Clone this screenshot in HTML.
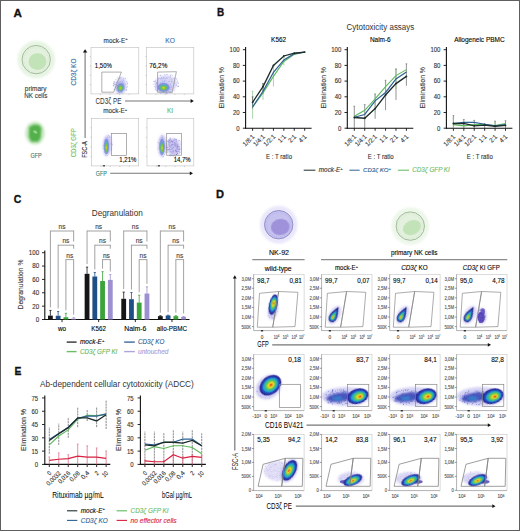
<!DOCTYPE html>
<html><head><meta charset="utf-8"><title>Figure</title>
<style>html,body{margin:0;padding:0;background:#fff;}svg{display:block;}text{font-family:"Liberation Sans", sans-serif;}</style>
</head><body>
<svg width="520" height="531" viewBox="0 0 520 531" font-family='"Liberation Sans", sans-serif'><defs>
<radialGradient id="gGlow"><stop offset="0.6" stop-color="#cfe9c6" stop-opacity="0.9"/><stop offset="1" stop-color="#ffffff" stop-opacity="0"/></radialGradient>
<radialGradient id="pGlow"><stop offset="0.6" stop-color="#c9c3f3" stop-opacity="0.95"/><stop offset="1" stop-color="#ffffff" stop-opacity="0"/></radialGradient>
<radialGradient id="gfpGlow"><stop offset="0.45" stop-color="#7dc46f" stop-opacity="0.9"/><stop offset="1" stop-color="#ffffff" stop-opacity="0"/></radialGradient>
<filter id="blur04" x="-50%" y="-50%" width="200%" height="200%"><feGaussianBlur stdDeviation="0.4"/></filter>
<filter id="blur06" x="-50%" y="-50%" width="200%" height="200%"><feGaussianBlur stdDeviation="0.6"/></filter>
<filter id="blur1" x="-50%" y="-50%" width="200%" height="200%"><feGaussianBlur stdDeviation="1"/></filter>
</defs><rect x="0.50" y="0.50" width="519.00" height="530.00" fill="#ffffff" stroke="#5e5e5e" stroke-width="1"/>
<text x="13.40" y="16.50" font-size="11.8" fill="#111" font-weight="bold" textLength="8.40" lengthAdjust="spacingAndGlyphs" stroke="#111" stroke-width="0.35">A</text>
<circle cx="36.2" cy="59.6" r="16.2" fill="none" stroke="#cfe9c7" stroke-width="5" opacity="0.5" filter="url(#blur1)"/>
<circle cx="36.2" cy="59.6" r="14.2" fill="#e3f1de" stroke="#a3bb9c" stroke-width="1"/>
<circle cx="36.2" cy="59.6" r="12.2" fill="none" stroke="#cde2c6" stroke-width="1.6" stroke-dasharray="0.7 1.4" opacity="0.55"/>
<ellipse cx="37.5" cy="61.6" rx="9.0" ry="8.3" fill="#c2e2b8" filter="url(#blur06)" transform="rotate(0 37.5 61.6)"/>
<text x="35.70" y="90.60" font-size="7.0" fill="#3a3a3a" text-anchor="middle" textLength="21.70" lengthAdjust="spacingAndGlyphs" stroke="#3a3a3a" stroke-width="0.12">primary</text>
<text x="35.80" y="97.60" font-size="7.0" fill="#3a3a3a" text-anchor="middle" textLength="23.00" lengthAdjust="spacingAndGlyphs" stroke="#3a3a3a" stroke-width="0.12">NK cells</text>
<ellipse cx="35" cy="133" rx="10" ry="11.5" fill="#8fd083" opacity="0.45" filter="url(#blur1)"/>
<path d="M29.2 126.8 L34 124.4 L39.2 125 L41.4 128.2 L40.8 137.8 L38.3 141.8 L31.2 141.8 L28.8 137 Z" fill="#52b04b" filter="url(#blur1)"/>
<ellipse cx="35.3" cy="132" rx="2.2" ry="1.2" fill="#9fd894" filter="url(#blur04)" transform="rotate(30 35.3 132)"/>
<text x="36.00" y="158.00" font-size="6.3" fill="#48706a" text-anchor="middle" textLength="11.20" lengthAdjust="spacingAndGlyphs" stroke="#48706a" stroke-width="0.12">GFP</text>
<text x="76.20" y="72.00" font-size="6.8" fill="#3a6fa8" text-anchor="middle" textLength="27.00" lengthAdjust="spacingAndGlyphs" transform="rotate(-90 76.20 72.00)" stroke="#3a6fa8" stroke-width="0.12">CD3ζ KO</text>
<text x="76.00" y="142.70" font-size="6.8" fill="#74c064" text-anchor="middle" textLength="29.30" lengthAdjust="spacingAndGlyphs" transform="rotate(-90 76.00 142.70)" stroke="#74c064" stroke-width="0.12">CD3ζ GFP</text>
<text x="87.20" y="149.50" font-size="7.6" fill="#333" text-anchor="middle" textLength="16.50" lengthAdjust="spacingAndGlyphs" transform="rotate(-90 87.20 149.50)" stroke="#333" stroke-width="0.12">FSC-A</text>
<line x1="85.10" y1="51.90" x2="85.10" y2="138.00" stroke="#777" stroke-width="1.1"/>
<polygon points="82.90,52.40 85.10,49.20 87.30,52.40" fill="#111" stroke="none" stroke-width="0"/>
<rect x="91.00" y="47.30" width="47.80" height="46.60" fill="none" stroke="#bdbdbd" stroke-width="0.6"/>
<line x1="89.80" y1="56.62" x2="91.00" y2="56.62" stroke="#aaa" stroke-width="0.5"/>
<line x1="89.80" y1="65.94" x2="91.00" y2="65.94" stroke="#aaa" stroke-width="0.5"/>
<line x1="89.80" y1="75.26" x2="91.00" y2="75.26" stroke="#aaa" stroke-width="0.5"/>
<line x1="89.80" y1="84.58" x2="91.00" y2="84.58" stroke="#aaa" stroke-width="0.5"/>
<line x1="100.56" y1="93.90" x2="100.56" y2="95.10" stroke="#aaa" stroke-width="0.5"/>
<line x1="110.12" y1="93.90" x2="110.12" y2="95.10" stroke="#aaa" stroke-width="0.5"/>
<line x1="119.68" y1="93.90" x2="119.68" y2="95.10" stroke="#aaa" stroke-width="0.5"/>
<line x1="129.24" y1="93.90" x2="129.24" y2="95.10" stroke="#aaa" stroke-width="0.5"/>
<rect x="146.50" y="47.30" width="47.30" height="46.60" fill="none" stroke="#bdbdbd" stroke-width="0.6"/>
<line x1="145.30" y1="56.62" x2="146.50" y2="56.62" stroke="#aaa" stroke-width="0.5"/>
<line x1="145.30" y1="65.94" x2="146.50" y2="65.94" stroke="#aaa" stroke-width="0.5"/>
<line x1="145.30" y1="75.26" x2="146.50" y2="75.26" stroke="#aaa" stroke-width="0.5"/>
<line x1="145.30" y1="84.58" x2="146.50" y2="84.58" stroke="#aaa" stroke-width="0.5"/>
<line x1="155.96" y1="93.90" x2="155.96" y2="95.10" stroke="#aaa" stroke-width="0.5"/>
<line x1="165.42" y1="93.90" x2="165.42" y2="95.10" stroke="#aaa" stroke-width="0.5"/>
<line x1="174.88" y1="93.90" x2="174.88" y2="95.10" stroke="#aaa" stroke-width="0.5"/>
<line x1="184.34" y1="93.90" x2="184.34" y2="95.10" stroke="#aaa" stroke-width="0.5"/>
<rect x="91.50" y="118.30" width="47.20" height="47.60" fill="none" stroke="#bdbdbd" stroke-width="0.6"/>
<line x1="90.30" y1="127.82" x2="91.50" y2="127.82" stroke="#aaa" stroke-width="0.5"/>
<line x1="90.30" y1="137.34" x2="91.50" y2="137.34" stroke="#aaa" stroke-width="0.5"/>
<line x1="90.30" y1="146.86" x2="91.50" y2="146.86" stroke="#aaa" stroke-width="0.5"/>
<line x1="90.30" y1="156.38" x2="91.50" y2="156.38" stroke="#aaa" stroke-width="0.5"/>
<line x1="100.94" y1="165.90" x2="100.94" y2="167.10" stroke="#aaa" stroke-width="0.5"/>
<line x1="110.38" y1="165.90" x2="110.38" y2="167.10" stroke="#aaa" stroke-width="0.5"/>
<line x1="119.82" y1="165.90" x2="119.82" y2="167.10" stroke="#aaa" stroke-width="0.5"/>
<line x1="129.26" y1="165.90" x2="129.26" y2="167.10" stroke="#aaa" stroke-width="0.5"/>
<rect x="147.00" y="118.30" width="46.80" height="47.60" fill="none" stroke="#bdbdbd" stroke-width="0.6"/>
<line x1="145.80" y1="127.82" x2="147.00" y2="127.82" stroke="#aaa" stroke-width="0.5"/>
<line x1="145.80" y1="137.34" x2="147.00" y2="137.34" stroke="#aaa" stroke-width="0.5"/>
<line x1="145.80" y1="146.86" x2="147.00" y2="146.86" stroke="#aaa" stroke-width="0.5"/>
<line x1="145.80" y1="156.38" x2="147.00" y2="156.38" stroke="#aaa" stroke-width="0.5"/>
<line x1="156.36" y1="165.90" x2="156.36" y2="167.10" stroke="#aaa" stroke-width="0.5"/>
<line x1="165.72" y1="165.90" x2="165.72" y2="167.10" stroke="#aaa" stroke-width="0.5"/>
<line x1="175.08" y1="165.90" x2="175.08" y2="167.10" stroke="#aaa" stroke-width="0.5"/>
<line x1="184.44" y1="165.90" x2="184.44" y2="167.10" stroke="#aaa" stroke-width="0.5"/>
<text x="115.60" y="42.60" font-size="6.6" fill="#333" text-anchor="middle" textLength="24" lengthAdjust="spacingAndGlyphs" stroke="#333" stroke-width="0.12">mock-E<tspan font-size="4.2" dy="-2.31">+</tspan></text>
<text x="170.00" y="42.60" font-size="6.6" fill="#3a6fa8" text-anchor="middle" stroke="#3a6fa8" stroke-width="0.12">KO</text>
<text x="115.20" y="113.40" font-size="6.6" fill="#333" text-anchor="middle" textLength="24" lengthAdjust="spacingAndGlyphs" stroke="#333" stroke-width="0.12">mock-E<tspan font-size="4.2" dy="-2.31">+</tspan></text>
<text x="170.10" y="113.40" font-size="6.6" fill="#6cbc5c" text-anchor="middle" stroke="#6cbc5c" stroke-width="0.12">KI</text>
<text x="94.80" y="68.40" font-size="7.2" textLength="17.00" lengthAdjust="spacingAndGlyphs" stroke="#222" stroke-width="0.12">1,50%</text>
<text x="149.30" y="68.40" font-size="7.2" textLength="18.00" lengthAdjust="spacingAndGlyphs" stroke="#222" stroke-width="0.12">76,2%</text>
<text x="119.30" y="162.30" font-size="7.2" textLength="17.00" lengthAdjust="spacingAndGlyphs" stroke="#222" stroke-width="0.12">1,21%</text>
<text x="173.70" y="162.30" font-size="7.2" textLength="17.00" lengthAdjust="spacingAndGlyphs" stroke="#222" stroke-width="0.12">14,7%</text>
<ellipse cx="120.50" cy="85.00" rx="5.50" ry="8.00" fill="#a29ce6" opacity="0.45" filter="url(#blur1)" transform="rotate(15 120.50 85.00)"/>
<circle cx="117.18" cy="77.87" r="0.45" fill="#7f86dc" opacity="0.7"/><circle cx="113.16" cy="85.18" r="0.45" fill="#6b7ad6" opacity="0.7"/><circle cx="121.32" cy="92.28" r="0.45" fill="#9a92e2" opacity="0.7"/><circle cx="118.79" cy="90.71" r="0.45" fill="#7f86dc" opacity="0.7"/><circle cx="127.16" cy="86.98" r="0.45" fill="#5f8fd8" opacity="0.7"/><circle cx="127.16" cy="85.96" r="0.45" fill="#a7a0e6" opacity="0.7"/><circle cx="120.91" cy="77.53" r="0.45" fill="#a7a0e6" opacity="0.7"/><circle cx="116.94" cy="90.51" r="0.45" fill="#9a92e2" opacity="0.7"/><circle cx="113.65" cy="85.85" r="0.45" fill="#9a92e2" opacity="0.7"/><circle cx="117.96" cy="85.41" r="0.45" fill="#7f86dc" opacity="0.7"/><circle cx="121.03" cy="86.76" r="0.45" fill="#a7a0e6" opacity="0.7"/><circle cx="122.89" cy="83.12" r="0.45" fill="#6b7ad6" opacity="0.7"/><circle cx="119.45" cy="92.55" r="0.45" fill="#6b7ad6" opacity="0.7"/><circle cx="116.80" cy="90.09" r="0.45" fill="#9a92e2" opacity="0.7"/><circle cx="119.92" cy="81.53" r="0.45" fill="#a7a0e6" opacity="0.7"/><circle cx="113.89" cy="82.94" r="0.45" fill="#6b7ad6" opacity="0.7"/><circle cx="114.43" cy="84.29" r="0.45" fill="#7f86dc" opacity="0.7"/><circle cx="120.93" cy="89.99" r="0.45" fill="#6b7ad6" opacity="0.7"/><circle cx="117.44" cy="81.65" r="0.45" fill="#a7a0e6" opacity="0.7"/><circle cx="121.28" cy="83.67" r="0.45" fill="#7f86dc" opacity="0.7"/><circle cx="127.11" cy="84.01" r="0.45" fill="#7f86dc" opacity="0.7"/><circle cx="122.35" cy="93.87" r="0.45" fill="#a7a0e6" opacity="0.7"/><circle cx="116.55" cy="82.33" r="0.45" fill="#6b7ad6" opacity="0.7"/><circle cx="118.26" cy="91.56" r="0.45" fill="#7f86dc" opacity="0.7"/><circle cx="114.66" cy="82.63" r="0.45" fill="#6b7ad6" opacity="0.7"/><circle cx="126.13" cy="90.57" r="0.45" fill="#5f8fd8" opacity="0.7"/><circle cx="116.45" cy="82.89" r="0.45" fill="#6b7ad6" opacity="0.7"/><circle cx="122.92" cy="82.23" r="0.45" fill="#9a92e2" opacity="0.7"/><circle cx="115.71" cy="79.43" r="0.45" fill="#a7a0e6" opacity="0.7"/><circle cx="125.30" cy="78.46" r="0.45" fill="#6b7ad6" opacity="0.7"/><circle cx="117.91" cy="85.76" r="0.45" fill="#9a92e2" opacity="0.7"/><circle cx="123.05" cy="84.79" r="0.45" fill="#5f8fd8" opacity="0.7"/><circle cx="122.48" cy="89.06" r="0.45" fill="#a7a0e6" opacity="0.7"/><circle cx="126.39" cy="89.82" r="0.45" fill="#5f8fd8" opacity="0.7"/><circle cx="118.28" cy="82.58" r="0.45" fill="#7f86dc" opacity="0.7"/><circle cx="119.70" cy="82.61" r="0.45" fill="#9a92e2" opacity="0.7"/><circle cx="114.60" cy="81.46" r="0.45" fill="#7f86dc" opacity="0.7"/><circle cx="113.64" cy="85.77" r="0.45" fill="#5f8fd8" opacity="0.7"/><circle cx="113.62" cy="81.91" r="0.45" fill="#7f86dc" opacity="0.7"/><circle cx="118.02" cy="87.05" r="0.45" fill="#6b7ad6" opacity="0.7"/><circle cx="121.64" cy="84.01" r="0.45" fill="#7f86dc" opacity="0.7"/><circle cx="119.46" cy="84.19" r="0.45" fill="#7f86dc" opacity="0.7"/><circle cx="114.31" cy="89.24" r="0.45" fill="#6b7ad6" opacity="0.7"/><circle cx="119.66" cy="88.15" r="0.45" fill="#5f8fd8" opacity="0.7"/><circle cx="120.45" cy="77.79" r="0.45" fill="#5f8fd8" opacity="0.7"/><circle cx="126.63" cy="89.40" r="0.45" fill="#6b7ad6" opacity="0.7"/><circle cx="123.14" cy="79.96" r="0.45" fill="#6b7ad6" opacity="0.7"/><circle cx="126.53" cy="81.76" r="0.45" fill="#9a92e2" opacity="0.7"/><circle cx="120.52" cy="89.80" r="0.45" fill="#6b7ad6" opacity="0.7"/><circle cx="122.18" cy="86.65" r="0.45" fill="#9a92e2" opacity="0.7"/><circle cx="124.90" cy="90.55" r="0.45" fill="#9a92e2" opacity="0.7"/><circle cx="115.20" cy="84.36" r="0.45" fill="#7f86dc" opacity="0.7"/><circle cx="119.56" cy="78.68" r="0.45" fill="#5f8fd8" opacity="0.7"/><circle cx="127.30" cy="83.50" r="0.45" fill="#6b7ad6" opacity="0.7"/><circle cx="127.28" cy="81.93" r="0.45" fill="#9a92e2" opacity="0.7"/><circle cx="113.63" cy="83.93" r="0.45" fill="#6b7ad6" opacity="0.7"/><circle cx="115.27" cy="86.86" r="0.45" fill="#5f8fd8" opacity="0.7"/><circle cx="125.45" cy="84.11" r="0.45" fill="#6b7ad6" opacity="0.7"/><circle cx="122.57" cy="92.29" r="0.45" fill="#9a92e2" opacity="0.7"/><circle cx="119.65" cy="78.39" r="0.45" fill="#6b7ad6" opacity="0.7"/><circle cx="123.55" cy="83.80" r="0.45" fill="#7f86dc" opacity="0.7"/><circle cx="123.60" cy="78.23" r="0.45" fill="#9a92e2" opacity="0.7"/><circle cx="119.45" cy="87.46" r="0.45" fill="#5f8fd8" opacity="0.7"/><circle cx="122.52" cy="81.66" r="0.45" fill="#5f8fd8" opacity="0.7"/><circle cx="124.79" cy="88.80" r="0.45" fill="#7f86dc" opacity="0.7"/><circle cx="120.43" cy="92.74" r="0.45" fill="#a7a0e6" opacity="0.7"/><circle cx="115.40" cy="84.52" r="0.45" fill="#5f8fd8" opacity="0.7"/><circle cx="117.22" cy="85.34" r="0.45" fill="#9a92e2" opacity="0.7"/><circle cx="126.36" cy="87.59" r="0.45" fill="#5f8fd8" opacity="0.7"/><circle cx="118.73" cy="92.44" r="0.45" fill="#5f8fd8" opacity="0.7"/><circle cx="120.17" cy="91.58" r="0.45" fill="#9a92e2" opacity="0.7"/><circle cx="121.74" cy="89.74" r="0.45" fill="#9a92e2" opacity="0.7"/><circle cx="114.76" cy="84.00" r="0.45" fill="#7f86dc" opacity="0.7"/><circle cx="120.90" cy="81.19" r="0.45" fill="#5f8fd8" opacity="0.7"/><circle cx="120.49" cy="84.17" r="0.45" fill="#7f86dc" opacity="0.7"/><circle cx="113.56" cy="83.59" r="0.45" fill="#7f86dc" opacity="0.7"/><circle cx="124.16" cy="92.34" r="0.45" fill="#a7a0e6" opacity="0.7"/><circle cx="117.21" cy="93.49" r="0.45" fill="#5f8fd8" opacity="0.7"/><circle cx="120.19" cy="88.16" r="0.45" fill="#a7a0e6" opacity="0.7"/>
<g transform="translate(120.60 87.60) rotate(10)"><ellipse cx="0" cy="0" rx="5.25" ry="5.75" fill="#aaa6e8" opacity="0.55" filter="url(#blur1)"/><ellipse cx="0" cy="0" rx="3.78" ry="4.60" fill="#6078d8" opacity="0.6" filter="url(#blur06)"/><ellipse cx="0.00" cy="0.30" rx="2.60" ry="3.10" fill="#4fb5a8" opacity="0.9" filter="url(#blur06)"/><ellipse cx="0.00" cy="0.60" rx="1.89" ry="2.25" fill="#84c236" filter="url(#blur04)"/><ellipse cx="0.00" cy="0.60" rx="0.84" ry="1.00" fill="#c9d626" filter="url(#blur04)"/></g>
<ellipse cx="166.00" cy="84.00" rx="11.00" ry="9.00" fill="#a29ce6" opacity="0.4" filter="url(#blur1)" transform="rotate(0 166.00 84.00)"/>
<circle cx="167.23" cy="89.95" r="0.45" fill="#5f8fd8" opacity="0.7"/><circle cx="160.27" cy="84.75" r="0.45" fill="#9a92e2" opacity="0.7"/><circle cx="156.41" cy="82.28" r="0.45" fill="#7f86dc" opacity="0.7"/><circle cx="171.79" cy="82.00" r="0.45" fill="#9a92e2" opacity="0.7"/><circle cx="171.75" cy="89.46" r="0.45" fill="#9a92e2" opacity="0.7"/><circle cx="163.25" cy="78.32" r="0.45" fill="#9a92e2" opacity="0.7"/><circle cx="166.64" cy="93.79" r="0.45" fill="#9a92e2" opacity="0.7"/><circle cx="157.52" cy="82.06" r="0.45" fill="#5f8fd8" opacity="0.7"/><circle cx="164.31" cy="81.85" r="0.45" fill="#6b7ad6" opacity="0.7"/><circle cx="161.92" cy="88.17" r="0.45" fill="#7f86dc" opacity="0.7"/><circle cx="162.46" cy="82.63" r="0.45" fill="#7f86dc" opacity="0.7"/><circle cx="163.76" cy="83.87" r="0.45" fill="#6b7ad6" opacity="0.7"/><circle cx="167.34" cy="74.35" r="0.45" fill="#9a92e2" opacity="0.7"/><circle cx="174.81" cy="78.68" r="0.45" fill="#9a92e2" opacity="0.7"/><circle cx="171.93" cy="92.87" r="0.45" fill="#a7a0e6" opacity="0.7"/><circle cx="168.98" cy="87.71" r="0.45" fill="#7f86dc" opacity="0.7"/><circle cx="160.81" cy="89.79" r="0.45" fill="#9a92e2" opacity="0.7"/><circle cx="164.91" cy="74.52" r="0.45" fill="#7f86dc" opacity="0.7"/><circle cx="170.76" cy="89.83" r="0.45" fill="#7f86dc" opacity="0.7"/><circle cx="170.03" cy="77.67" r="0.45" fill="#6b7ad6" opacity="0.7"/><circle cx="177.16" cy="82.53" r="0.45" fill="#6b7ad6" opacity="0.7"/><circle cx="178.63" cy="86.06" r="0.45" fill="#7f86dc" opacity="0.7"/><circle cx="167.75" cy="78.01" r="0.45" fill="#7f86dc" opacity="0.7"/><circle cx="170.60" cy="84.15" r="0.45" fill="#9a92e2" opacity="0.7"/><circle cx="161.12" cy="83.50" r="0.45" fill="#9a92e2" opacity="0.7"/><circle cx="160.57" cy="89.88" r="0.45" fill="#6b7ad6" opacity="0.7"/><circle cx="167.16" cy="93.54" r="0.45" fill="#5f8fd8" opacity="0.7"/><circle cx="166.29" cy="92.63" r="0.45" fill="#7f86dc" opacity="0.7"/><circle cx="171.43" cy="86.65" r="0.45" fill="#a7a0e6" opacity="0.7"/><circle cx="168.29" cy="91.66" r="0.45" fill="#5f8fd8" opacity="0.7"/><circle cx="161.62" cy="77.52" r="0.45" fill="#9a92e2" opacity="0.7"/><circle cx="162.60" cy="90.48" r="0.45" fill="#9a92e2" opacity="0.7"/><circle cx="164.33" cy="80.30" r="0.45" fill="#7f86dc" opacity="0.7"/><circle cx="170.51" cy="91.48" r="0.45" fill="#a7a0e6" opacity="0.7"/><circle cx="171.78" cy="78.92" r="0.45" fill="#9a92e2" opacity="0.7"/><circle cx="158.19" cy="78.65" r="0.45" fill="#7f86dc" opacity="0.7"/><circle cx="160.37" cy="93.20" r="0.45" fill="#5f8fd8" opacity="0.7"/><circle cx="158.12" cy="80.04" r="0.45" fill="#7f86dc" opacity="0.7"/><circle cx="166.29" cy="83.56" r="0.45" fill="#9a92e2" opacity="0.7"/><circle cx="159.95" cy="89.30" r="0.45" fill="#7f86dc" opacity="0.7"/><circle cx="160.40" cy="74.88" r="0.45" fill="#a7a0e6" opacity="0.7"/><circle cx="169.43" cy="81.27" r="0.45" fill="#6b7ad6" opacity="0.7"/><circle cx="161.52" cy="77.89" r="0.45" fill="#5f8fd8" opacity="0.7"/><circle cx="157.35" cy="91.75" r="0.45" fill="#5f8fd8" opacity="0.7"/><circle cx="163.91" cy="79.85" r="0.45" fill="#a7a0e6" opacity="0.7"/><circle cx="157.18" cy="88.21" r="0.45" fill="#9a92e2" opacity="0.7"/><circle cx="177.97" cy="86.17" r="0.45" fill="#5f8fd8" opacity="0.7"/><circle cx="156.90" cy="84.00" r="0.45" fill="#5f8fd8" opacity="0.7"/><circle cx="168.92" cy="90.07" r="0.45" fill="#7f86dc" opacity="0.7"/><circle cx="176.14" cy="85.27" r="0.45" fill="#9a92e2" opacity="0.7"/><circle cx="170.84" cy="93.15" r="0.45" fill="#a7a0e6" opacity="0.7"/><circle cx="176.40" cy="84.73" r="0.45" fill="#7f86dc" opacity="0.7"/><circle cx="170.53" cy="87.29" r="0.45" fill="#a7a0e6" opacity="0.7"/><circle cx="160.39" cy="82.60" r="0.45" fill="#7f86dc" opacity="0.7"/><circle cx="173.95" cy="83.56" r="0.45" fill="#5f8fd8" opacity="0.7"/><circle cx="155.57" cy="84.05" r="0.45" fill="#a7a0e6" opacity="0.7"/><circle cx="160.44" cy="88.32" r="0.45" fill="#9a92e2" opacity="0.7"/><circle cx="159.46" cy="86.65" r="0.45" fill="#a7a0e6" opacity="0.7"/><circle cx="166.83" cy="81.03" r="0.45" fill="#a7a0e6" opacity="0.7"/><circle cx="154.31" cy="86.29" r="0.45" fill="#9a92e2" opacity="0.7"/><circle cx="160.11" cy="88.61" r="0.45" fill="#6b7ad6" opacity="0.7"/><circle cx="170.39" cy="75.80" r="0.45" fill="#a7a0e6" opacity="0.7"/><circle cx="171.82" cy="87.54" r="0.45" fill="#a7a0e6" opacity="0.7"/><circle cx="161.14" cy="83.85" r="0.45" fill="#a7a0e6" opacity="0.7"/><circle cx="166.05" cy="89.11" r="0.45" fill="#5f8fd8" opacity="0.7"/><circle cx="165.85" cy="90.22" r="0.45" fill="#a7a0e6" opacity="0.7"/><circle cx="173.93" cy="78.50" r="0.45" fill="#6b7ad6" opacity="0.7"/><circle cx="156.71" cy="90.22" r="0.45" fill="#5f8fd8" opacity="0.7"/><circle cx="160.83" cy="75.37" r="0.45" fill="#6b7ad6" opacity="0.7"/><circle cx="159.48" cy="91.85" r="0.45" fill="#a7a0e6" opacity="0.7"/><circle cx="164.03" cy="76.34" r="0.45" fill="#a7a0e6" opacity="0.7"/><circle cx="172.08" cy="81.51" r="0.45" fill="#9a92e2" opacity="0.7"/><circle cx="164.65" cy="80.90" r="0.45" fill="#7f86dc" opacity="0.7"/><circle cx="174.02" cy="90.62" r="0.45" fill="#7f86dc" opacity="0.7"/><circle cx="163.92" cy="91.27" r="0.45" fill="#7f86dc" opacity="0.7"/><circle cx="163.10" cy="81.99" r="0.45" fill="#6b7ad6" opacity="0.7"/><circle cx="176.92" cy="78.89" r="0.45" fill="#7f86dc" opacity="0.7"/><circle cx="176.37" cy="79.00" r="0.45" fill="#9a92e2" opacity="0.7"/><circle cx="159.98" cy="78.58" r="0.45" fill="#5f8fd8" opacity="0.7"/><circle cx="161.84" cy="89.24" r="0.45" fill="#a7a0e6" opacity="0.7"/><circle cx="170.67" cy="92.18" r="0.45" fill="#5f8fd8" opacity="0.7"/><circle cx="168.38" cy="88.11" r="0.45" fill="#7f86dc" opacity="0.7"/><circle cx="170.22" cy="75.91" r="0.45" fill="#6b7ad6" opacity="0.7"/><circle cx="166.60" cy="92.15" r="0.45" fill="#5f8fd8" opacity="0.7"/><circle cx="156.56" cy="82.92" r="0.45" fill="#6b7ad6" opacity="0.7"/><circle cx="160.89" cy="78.37" r="0.45" fill="#6b7ad6" opacity="0.7"/><circle cx="164.37" cy="78.01" r="0.45" fill="#a7a0e6" opacity="0.7"/><circle cx="168.61" cy="81.28" r="0.45" fill="#9a92e2" opacity="0.7"/><circle cx="171.01" cy="74.58" r="0.45" fill="#5f8fd8" opacity="0.7"/><circle cx="178.37" cy="83.44" r="0.45" fill="#9a92e2" opacity="0.7"/><circle cx="165.68" cy="79.99" r="0.45" fill="#a7a0e6" opacity="0.7"/><circle cx="164.97" cy="84.50" r="0.45" fill="#9a92e2" opacity="0.7"/><circle cx="155.54" cy="80.18" r="0.45" fill="#7f86dc" opacity="0.7"/><circle cx="161.94" cy="80.73" r="0.45" fill="#5f8fd8" opacity="0.7"/><circle cx="177.38" cy="81.04" r="0.45" fill="#5f8fd8" opacity="0.7"/><circle cx="158.88" cy="78.68" r="0.45" fill="#7f86dc" opacity="0.7"/><circle cx="166.95" cy="85.06" r="0.45" fill="#6b7ad6" opacity="0.7"/><circle cx="156.52" cy="83.57" r="0.45" fill="#9a92e2" opacity="0.7"/><circle cx="163.77" cy="86.56" r="0.45" fill="#a7a0e6" opacity="0.7"/><circle cx="178.08" cy="82.94" r="0.45" fill="#5f8fd8" opacity="0.7"/><circle cx="166.72" cy="74.54" r="0.45" fill="#5f8fd8" opacity="0.7"/><circle cx="159.96" cy="75.29" r="0.45" fill="#9a92e2" opacity="0.7"/><circle cx="156.05" cy="90.33" r="0.45" fill="#a7a0e6" opacity="0.7"/><circle cx="155.38" cy="89.31" r="0.45" fill="#7f86dc" opacity="0.7"/><circle cx="174.90" cy="77.88" r="0.45" fill="#7f86dc" opacity="0.7"/><circle cx="171.07" cy="79.38" r="0.45" fill="#9a92e2" opacity="0.7"/><circle cx="170.54" cy="84.09" r="0.45" fill="#a7a0e6" opacity="0.7"/><circle cx="172.56" cy="75.35" r="0.45" fill="#7f86dc" opacity="0.7"/><circle cx="161.41" cy="92.81" r="0.45" fill="#9a92e2" opacity="0.7"/><circle cx="163.87" cy="77.70" r="0.45" fill="#5f8fd8" opacity="0.7"/><circle cx="153.03" cy="84.29" r="0.45" fill="#a7a0e6" opacity="0.7"/><circle cx="160.80" cy="79.64" r="0.45" fill="#9a92e2" opacity="0.7"/><circle cx="166.31" cy="77.93" r="0.45" fill="#9a92e2" opacity="0.7"/><circle cx="153.82" cy="81.65" r="0.45" fill="#6b7ad6" opacity="0.7"/><circle cx="177.78" cy="86.59" r="0.45" fill="#7f86dc" opacity="0.7"/><circle cx="160.20" cy="87.01" r="0.45" fill="#6b7ad6" opacity="0.7"/><circle cx="162.47" cy="81.83" r="0.45" fill="#a7a0e6" opacity="0.7"/><circle cx="158.55" cy="89.74" r="0.45" fill="#5f8fd8" opacity="0.7"/><circle cx="154.89" cy="83.41" r="0.45" fill="#9a92e2" opacity="0.7"/><circle cx="161.73" cy="90.22" r="0.45" fill="#9a92e2" opacity="0.7"/><circle cx="166.02" cy="78.57" r="0.45" fill="#6b7ad6" opacity="0.7"/><circle cx="156.05" cy="86.10" r="0.45" fill="#5f8fd8" opacity="0.7"/><circle cx="158.24" cy="77.69" r="0.45" fill="#a7a0e6" opacity="0.7"/><circle cx="169.65" cy="92.36" r="0.45" fill="#7f86dc" opacity="0.7"/><circle cx="154.68" cy="81.26" r="0.45" fill="#6b7ad6" opacity="0.7"/><circle cx="171.60" cy="80.95" r="0.45" fill="#6b7ad6" opacity="0.7"/><circle cx="155.26" cy="81.82" r="0.45" fill="#7f86dc" opacity="0.7"/><circle cx="168.71" cy="88.93" r="0.45" fill="#a7a0e6" opacity="0.7"/><circle cx="162.99" cy="90.25" r="0.45" fill="#a7a0e6" opacity="0.7"/><circle cx="155.46" cy="87.81" r="0.45" fill="#9a92e2" opacity="0.7"/><circle cx="163.44" cy="92.31" r="0.45" fill="#9a92e2" opacity="0.7"/><circle cx="162.05" cy="88.48" r="0.45" fill="#a7a0e6" opacity="0.7"/><circle cx="153.85" cy="81.63" r="0.45" fill="#a7a0e6" opacity="0.7"/><circle cx="160.20" cy="88.69" r="0.45" fill="#5f8fd8" opacity="0.7"/><circle cx="162.49" cy="78.72" r="0.45" fill="#5f8fd8" opacity="0.7"/><circle cx="172.31" cy="92.41" r="0.45" fill="#6b7ad6" opacity="0.7"/><circle cx="178.66" cy="86.31" r="0.45" fill="#7f86dc" opacity="0.7"/><circle cx="166.31" cy="93.09" r="0.45" fill="#a7a0e6" opacity="0.7"/>
<g transform="translate(163.60 87.40) rotate(0)"><ellipse cx="0" cy="0" rx="8.25" ry="5.52" fill="#aaa6e8" opacity="0.55" filter="url(#blur1)"/><ellipse cx="0" cy="0" rx="5.94" ry="4.42" fill="#6078d8" opacity="0.6" filter="url(#blur06)"/><ellipse cx="0.00" cy="0.20" rx="4.09" ry="2.98" fill="#4fb5a8" opacity="0.9" filter="url(#blur06)"/><ellipse cx="0.00" cy="0.40" rx="2.97" ry="2.16" fill="#84c236" filter="url(#blur04)"/><ellipse cx="0.00" cy="0.40" rx="1.32" ry="0.96" fill="#c9d626" filter="url(#blur04)"/></g>
<ellipse cx="108.00" cy="144.00" rx="3.80" ry="9.50" fill="#a29ce6" opacity="0.45" filter="url(#blur1)" transform="rotate(0 108.00 144.00)"/>
<circle cx="110.31" cy="137.63" r="0.45" fill="#9a92e2" opacity="0.7"/><circle cx="105.93" cy="141.67" r="0.45" fill="#6b7ad6" opacity="0.7"/><circle cx="111.41" cy="148.30" r="0.45" fill="#5f8fd8" opacity="0.7"/><circle cx="104.37" cy="152.07" r="0.45" fill="#9a92e2" opacity="0.7"/><circle cx="106.89" cy="149.59" r="0.45" fill="#a7a0e6" opacity="0.7"/><circle cx="108.63" cy="141.82" r="0.45" fill="#a7a0e6" opacity="0.7"/><circle cx="103.16" cy="145.96" r="0.45" fill="#a7a0e6" opacity="0.7"/><circle cx="107.53" cy="155.39" r="0.45" fill="#9a92e2" opacity="0.7"/><circle cx="109.97" cy="136.91" r="0.45" fill="#6b7ad6" opacity="0.7"/><circle cx="105.53" cy="147.61" r="0.45" fill="#6b7ad6" opacity="0.7"/><circle cx="105.05" cy="140.25" r="0.45" fill="#a7a0e6" opacity="0.7"/><circle cx="104.97" cy="139.89" r="0.45" fill="#9a92e2" opacity="0.7"/><circle cx="105.38" cy="155.78" r="0.45" fill="#9a92e2" opacity="0.7"/><circle cx="105.92" cy="143.51" r="0.45" fill="#9a92e2" opacity="0.7"/><circle cx="108.09" cy="139.55" r="0.45" fill="#7f86dc" opacity="0.7"/><circle cx="103.23" cy="145.39" r="0.45" fill="#9a92e2" opacity="0.7"/><circle cx="112.39" cy="144.78" r="0.45" fill="#6b7ad6" opacity="0.7"/><circle cx="111.30" cy="149.95" r="0.45" fill="#7f86dc" opacity="0.7"/><circle cx="103.27" cy="148.31" r="0.45" fill="#5f8fd8" opacity="0.7"/><circle cx="106.91" cy="142.92" r="0.45" fill="#5f8fd8" opacity="0.7"/><circle cx="105.75" cy="138.88" r="0.45" fill="#a7a0e6" opacity="0.7"/><circle cx="108.58" cy="135.52" r="0.45" fill="#7f86dc" opacity="0.7"/><circle cx="111.55" cy="149.94" r="0.45" fill="#9a92e2" opacity="0.7"/><circle cx="109.67" cy="136.19" r="0.45" fill="#9a92e2" opacity="0.7"/><circle cx="106.77" cy="140.51" r="0.45" fill="#6b7ad6" opacity="0.7"/><circle cx="110.01" cy="144.03" r="0.45" fill="#7f86dc" opacity="0.7"/><circle cx="105.75" cy="147.60" r="0.45" fill="#6b7ad6" opacity="0.7"/><circle cx="111.20" cy="153.25" r="0.45" fill="#9a92e2" opacity="0.7"/><circle cx="106.69" cy="143.72" r="0.45" fill="#7f86dc" opacity="0.7"/><circle cx="107.21" cy="137.76" r="0.45" fill="#7f86dc" opacity="0.7"/><circle cx="111.84" cy="143.75" r="0.45" fill="#6b7ad6" opacity="0.7"/>
<g transform="translate(106.40 146.60) rotate(0)"><ellipse cx="0" cy="0" rx="3.62" ry="9.89" fill="#aaa6e8" opacity="0.55" filter="url(#blur1)"/><ellipse cx="0" cy="0" rx="2.61" ry="7.91" fill="#6078d8" opacity="0.6" filter="url(#blur06)"/><ellipse cx="0.00" cy="0.50" rx="1.80" ry="5.33" fill="#4fb5a8" opacity="0.9" filter="url(#blur06)"/><ellipse cx="0.00" cy="1.00" rx="1.30" ry="3.87" fill="#84c236" filter="url(#blur04)"/><ellipse cx="0.00" cy="1.00" rx="0.58" ry="1.72" fill="#c9d626" filter="url(#blur04)"/></g>
<ellipse cx="162.50" cy="144.00" rx="3.80" ry="9.50" fill="#a29ce6" opacity="0.45" filter="url(#blur1)" transform="rotate(0 162.50 144.00)"/>
<circle cx="162.53" cy="137.90" r="0.45" fill="#7f86dc" opacity="0.7"/><circle cx="166.68" cy="143.52" r="0.45" fill="#5f8fd8" opacity="0.7"/><circle cx="164.47" cy="142.90" r="0.45" fill="#5f8fd8" opacity="0.7"/><circle cx="159.06" cy="142.35" r="0.45" fill="#9a92e2" opacity="0.7"/><circle cx="163.25" cy="156.21" r="0.45" fill="#7f86dc" opacity="0.7"/><circle cx="161.60" cy="152.09" r="0.45" fill="#9a92e2" opacity="0.7"/><circle cx="160.62" cy="154.10" r="0.45" fill="#7f86dc" opacity="0.7"/><circle cx="161.65" cy="155.70" r="0.45" fill="#5f8fd8" opacity="0.7"/><circle cx="164.68" cy="154.56" r="0.45" fill="#5f8fd8" opacity="0.7"/><circle cx="161.85" cy="154.31" r="0.45" fill="#a7a0e6" opacity="0.7"/><circle cx="159.20" cy="139.24" r="0.45" fill="#a7a0e6" opacity="0.7"/><circle cx="161.31" cy="137.59" r="0.45" fill="#9a92e2" opacity="0.7"/><circle cx="164.19" cy="147.20" r="0.45" fill="#6b7ad6" opacity="0.7"/><circle cx="164.79" cy="141.40" r="0.45" fill="#9a92e2" opacity="0.7"/><circle cx="162.11" cy="149.81" r="0.45" fill="#a7a0e6" opacity="0.7"/><circle cx="163.04" cy="138.29" r="0.45" fill="#7f86dc" opacity="0.7"/><circle cx="164.43" cy="145.75" r="0.45" fill="#9a92e2" opacity="0.7"/><circle cx="162.36" cy="148.85" r="0.45" fill="#a7a0e6" opacity="0.7"/><circle cx="161.80" cy="135.61" r="0.45" fill="#6b7ad6" opacity="0.7"/><circle cx="162.17" cy="136.20" r="0.45" fill="#a7a0e6" opacity="0.7"/><circle cx="163.05" cy="149.77" r="0.45" fill="#7f86dc" opacity="0.7"/><circle cx="165.80" cy="152.66" r="0.45" fill="#5f8fd8" opacity="0.7"/><circle cx="157.80" cy="148.74" r="0.45" fill="#7f86dc" opacity="0.7"/><circle cx="162.90" cy="156.96" r="0.45" fill="#9a92e2" opacity="0.7"/><circle cx="165.23" cy="151.31" r="0.45" fill="#9a92e2" opacity="0.7"/><circle cx="157.79" cy="142.42" r="0.45" fill="#6b7ad6" opacity="0.7"/><circle cx="160.30" cy="153.58" r="0.45" fill="#9a92e2" opacity="0.7"/><circle cx="162.76" cy="148.21" r="0.45" fill="#5f8fd8" opacity="0.7"/><circle cx="163.07" cy="141.66" r="0.45" fill="#7f86dc" opacity="0.7"/><circle cx="159.39" cy="143.68" r="0.45" fill="#6b7ad6" opacity="0.7"/><circle cx="159.02" cy="152.84" r="0.45" fill="#7f86dc" opacity="0.7"/>
<g transform="translate(162.00 147.00) rotate(0)"><ellipse cx="0" cy="0" rx="3.88" ry="10.23" fill="#aaa6e8" opacity="0.55" filter="url(#blur1)"/><ellipse cx="0" cy="0" rx="2.79" ry="8.19" fill="#6078d8" opacity="0.6" filter="url(#blur06)"/><ellipse cx="0.00" cy="0.50" rx="1.92" ry="5.52" fill="#4fb5a8" opacity="0.9" filter="url(#blur06)"/><ellipse cx="0.00" cy="1.00" rx="1.40" ry="4.00" fill="#84c236" filter="url(#blur04)"/><ellipse cx="0.00" cy="1.00" rx="0.62" ry="1.78" fill="#c9d626" filter="url(#blur04)"/></g>
<ellipse cx="173.50" cy="147.00" rx="6.50" ry="8.50" fill="#9890e0" opacity="0.55" filter="url(#blur1)" transform="rotate(0 173.50 147.00)"/>
<circle cx="173.25" cy="147.43" r="0.5" fill="#6a64cc" opacity="0.65"/><circle cx="172.31" cy="152.95" r="0.5" fill="#9a90e0" opacity="0.65"/><circle cx="172.01" cy="144.38" r="0.5" fill="#7c72d2" opacity="0.65"/><circle cx="171.76" cy="152.29" r="0.5" fill="#9a90e0" opacity="0.65"/><circle cx="169.68" cy="149.31" r="0.5" fill="#7c72d2" opacity="0.65"/><circle cx="170.74" cy="147.32" r="0.5" fill="#9a90e0" opacity="0.65"/><circle cx="175.37" cy="150.27" r="0.5" fill="#9a90e0" opacity="0.65"/><circle cx="177.73" cy="151.94" r="0.5" fill="#7c72d2" opacity="0.65"/><circle cx="168.39" cy="149.32" r="0.5" fill="#9a90e0" opacity="0.65"/><circle cx="172.68" cy="144.28" r="0.5" fill="#7c72d2" opacity="0.65"/><circle cx="168.11" cy="141.55" r="0.5" fill="#6a64cc" opacity="0.65"/><circle cx="175.07" cy="143.07" r="0.5" fill="#6a64cc" opacity="0.65"/><circle cx="171.71" cy="141.49" r="0.5" fill="#6a64cc" opacity="0.65"/><circle cx="170.82" cy="139.67" r="0.5" fill="#9a90e0" opacity="0.65"/><circle cx="175.98" cy="146.50" r="0.5" fill="#7c72d2" opacity="0.65"/><circle cx="177.32" cy="146.02" r="0.5" fill="#7c72d2" opacity="0.65"/><circle cx="176.21" cy="154.43" r="0.5" fill="#9a90e0" opacity="0.65"/><circle cx="172.43" cy="142.28" r="0.5" fill="#7c72d2" opacity="0.65"/><circle cx="180.28" cy="148.89" r="0.5" fill="#6a64cc" opacity="0.65"/><circle cx="173.10" cy="155.74" r="0.5" fill="#6a64cc" opacity="0.65"/><circle cx="173.89" cy="140.30" r="0.5" fill="#7c72d2" opacity="0.65"/><circle cx="166.70" cy="147.63" r="0.5" fill="#9a90e0" opacity="0.65"/><circle cx="168.97" cy="140.18" r="0.5" fill="#7c72d2" opacity="0.65"/><circle cx="166.20" cy="148.02" r="0.5" fill="#7c72d2" opacity="0.65"/><circle cx="168.28" cy="140.99" r="0.5" fill="#6a64cc" opacity="0.65"/><circle cx="176.28" cy="149.95" r="0.5" fill="#9a90e0" opacity="0.65"/><circle cx="179.01" cy="140.49" r="0.5" fill="#9a90e0" opacity="0.65"/><circle cx="167.02" cy="149.52" r="0.5" fill="#6a64cc" opacity="0.65"/><circle cx="178.53" cy="151.31" r="0.5" fill="#7c72d2" opacity="0.65"/><circle cx="172.00" cy="145.73" r="0.5" fill="#9a90e0" opacity="0.65"/><circle cx="167.29" cy="150.11" r="0.5" fill="#7c72d2" opacity="0.65"/><circle cx="169.62" cy="139.11" r="0.5" fill="#7c72d2" opacity="0.65"/><circle cx="176.30" cy="139.47" r="0.5" fill="#6a64cc" opacity="0.65"/><circle cx="170.21" cy="138.05" r="0.5" fill="#6a64cc" opacity="0.65"/><circle cx="174.86" cy="145.72" r="0.5" fill="#6a64cc" opacity="0.65"/><circle cx="167.37" cy="147.15" r="0.5" fill="#7c72d2" opacity="0.65"/><circle cx="170.17" cy="141.72" r="0.5" fill="#6a64cc" opacity="0.65"/><circle cx="169.24" cy="140.18" r="0.5" fill="#9a90e0" opacity="0.65"/><circle cx="169.07" cy="144.77" r="0.5" fill="#6a64cc" opacity="0.65"/><circle cx="169.83" cy="155.15" r="0.5" fill="#6a64cc" opacity="0.65"/><circle cx="179.46" cy="147.73" r="0.5" fill="#9a90e0" opacity="0.65"/><circle cx="179.44" cy="150.95" r="0.5" fill="#7c72d2" opacity="0.65"/><circle cx="173.00" cy="151.49" r="0.5" fill="#6a64cc" opacity="0.65"/><circle cx="172.27" cy="148.71" r="0.5" fill="#6a64cc" opacity="0.65"/><circle cx="180.86" cy="143.90" r="0.5" fill="#7c72d2" opacity="0.65"/><circle cx="168.21" cy="149.87" r="0.5" fill="#7c72d2" opacity="0.65"/><circle cx="177.15" cy="151.74" r="0.5" fill="#7c72d2" opacity="0.65"/><circle cx="179.70" cy="152.24" r="0.5" fill="#7c72d2" opacity="0.65"/><circle cx="179.08" cy="153.39" r="0.5" fill="#6a64cc" opacity="0.65"/><circle cx="167.71" cy="141.11" r="0.5" fill="#7c72d2" opacity="0.65"/><circle cx="167.40" cy="152.03" r="0.5" fill="#6a64cc" opacity="0.65"/><circle cx="170.60" cy="139.00" r="0.5" fill="#7c72d2" opacity="0.65"/><circle cx="178.67" cy="149.93" r="0.5" fill="#9a90e0" opacity="0.65"/><circle cx="171.11" cy="145.48" r="0.5" fill="#7c72d2" opacity="0.65"/><circle cx="171.61" cy="155.60" r="0.5" fill="#7c72d2" opacity="0.65"/><circle cx="177.45" cy="144.36" r="0.5" fill="#9a90e0" opacity="0.65"/><circle cx="178.31" cy="149.04" r="0.5" fill="#9a90e0" opacity="0.65"/><circle cx="179.62" cy="149.37" r="0.5" fill="#7c72d2" opacity="0.65"/><circle cx="174.30" cy="138.97" r="0.5" fill="#9a90e0" opacity="0.65"/><circle cx="177.27" cy="147.76" r="0.5" fill="#7c72d2" opacity="0.65"/><circle cx="177.43" cy="153.56" r="0.5" fill="#6a64cc" opacity="0.65"/><circle cx="179.12" cy="140.41" r="0.5" fill="#7c72d2" opacity="0.65"/><circle cx="174.38" cy="142.77" r="0.5" fill="#7c72d2" opacity="0.65"/><circle cx="166.07" cy="146.82" r="0.5" fill="#9a90e0" opacity="0.65"/><circle cx="177.12" cy="153.51" r="0.5" fill="#9a90e0" opacity="0.65"/><circle cx="175.48" cy="156.14" r="0.5" fill="#6a64cc" opacity="0.65"/><circle cx="170.17" cy="155.88" r="0.5" fill="#9a90e0" opacity="0.65"/><circle cx="169.70" cy="140.32" r="0.5" fill="#6a64cc" opacity="0.65"/><circle cx="178.27" cy="146.81" r="0.5" fill="#6a64cc" opacity="0.65"/><circle cx="174.98" cy="139.09" r="0.5" fill="#9a90e0" opacity="0.65"/><circle cx="171.69" cy="145.03" r="0.5" fill="#9a90e0" opacity="0.65"/><circle cx="180.27" cy="151.90" r="0.5" fill="#9a90e0" opacity="0.65"/><circle cx="169.30" cy="142.26" r="0.5" fill="#6a64cc" opacity="0.65"/><circle cx="174.02" cy="144.59" r="0.5" fill="#6a64cc" opacity="0.65"/><circle cx="169.74" cy="146.22" r="0.5" fill="#6a64cc" opacity="0.65"/><circle cx="175.51" cy="150.78" r="0.5" fill="#6a64cc" opacity="0.65"/><circle cx="176.34" cy="143.97" r="0.5" fill="#9a90e0" opacity="0.65"/><circle cx="174.35" cy="154.36" r="0.5" fill="#9a90e0" opacity="0.65"/><circle cx="176.59" cy="151.84" r="0.5" fill="#7c72d2" opacity="0.65"/><circle cx="173.41" cy="150.78" r="0.5" fill="#9a90e0" opacity="0.65"/><circle cx="175.27" cy="139.52" r="0.5" fill="#9a90e0" opacity="0.65"/><circle cx="176.28" cy="150.93" r="0.5" fill="#6a64cc" opacity="0.65"/><circle cx="169.07" cy="143.03" r="0.5" fill="#6a64cc" opacity="0.65"/><circle cx="179.22" cy="149.35" r="0.5" fill="#6a64cc" opacity="0.65"/><circle cx="168.50" cy="141.95" r="0.5" fill="#9a90e0" opacity="0.65"/><circle cx="175.65" cy="143.97" r="0.5" fill="#7c72d2" opacity="0.65"/><circle cx="171.25" cy="140.79" r="0.5" fill="#6a64cc" opacity="0.65"/><circle cx="176.53" cy="140.91" r="0.5" fill="#7c72d2" opacity="0.65"/><circle cx="177.73" cy="145.70" r="0.5" fill="#7c72d2" opacity="0.65"/><circle cx="170.49" cy="154.70" r="0.5" fill="#9a90e0" opacity="0.65"/><circle cx="166.54" cy="144.98" r="0.5" fill="#9a90e0" opacity="0.65"/><circle cx="177.10" cy="147.01" r="0.5" fill="#6a64cc" opacity="0.65"/><circle cx="170.12" cy="151.76" r="0.5" fill="#7c72d2" opacity="0.65"/><circle cx="177.86" cy="155.16" r="0.5" fill="#9a90e0" opacity="0.65"/><circle cx="177.22" cy="148.75" r="0.5" fill="#6a64cc" opacity="0.65"/><circle cx="172.74" cy="141.57" r="0.5" fill="#6a64cc" opacity="0.65"/><circle cx="176.44" cy="154.55" r="0.5" fill="#6a64cc" opacity="0.65"/><circle cx="177.20" cy="154.05" r="0.5" fill="#6a64cc" opacity="0.65"/><circle cx="168.90" cy="139.48" r="0.5" fill="#9a90e0" opacity="0.65"/><circle cx="171.01" cy="149.57" r="0.5" fill="#7c72d2" opacity="0.65"/><circle cx="180.32" cy="141.85" r="0.5" fill="#9a90e0" opacity="0.65"/><circle cx="177.41" cy="149.59" r="0.5" fill="#9a90e0" opacity="0.65"/><circle cx="179.59" cy="146.65" r="0.5" fill="#7c72d2" opacity="0.65"/><circle cx="175.95" cy="145.19" r="0.5" fill="#6a64cc" opacity="0.65"/><circle cx="176.58" cy="154.46" r="0.5" fill="#6a64cc" opacity="0.65"/>
<polygon points="101.80,72.10 121.40,72.10 113.60,92.20 101.80,92.20" fill="none" stroke="#858585" stroke-width="0.65"/>
<polygon points="157.60,72.10 176.40,71.70 172.20,92.20 157.60,92.20" fill="none" stroke="#858585" stroke-width="0.65"/>
<rect x="111.30" y="133.60" width="15.20" height="22.00" fill="none" stroke="#858585" stroke-width="0.65"/>
<rect x="166.70" y="133.60" width="14.80" height="21.60" fill="none" stroke="#858585" stroke-width="0.65"/>
<rect x="102.80" y="165.30" width="2.20" height="1.10" fill="#222"/>
<rect x="157.80" y="165.30" width="2.20" height="1.10" fill="#222"/>
<text x="95.50" y="103.60" font-size="8.8" fill="#333" textLength="25.90" lengthAdjust="spacingAndGlyphs">CD3ζ PE</text>
<line x1="125.00" y1="101.00" x2="191.10" y2="101.00" stroke="#777" stroke-width="1.1"/>
<polygon points="190.60,99.10 193.80,101.00 190.60,102.90" fill="#111" stroke="none" stroke-width="0"/>
<text x="95.80" y="175.60" font-size="7.2" fill="#2f7f70" textLength="11.00" lengthAdjust="spacingAndGlyphs" stroke="#2f7f70" stroke-width="0.12">GFP</text>
<line x1="110.20" y1="173.30" x2="190.30" y2="173.30" stroke="#777" stroke-width="1.1"/>
<polygon points="189.80,171.40 193.00,173.30 189.80,175.20" fill="#111" stroke="none" stroke-width="0"/>
<text x="216.90" y="16.30" font-size="11.8" fill="#111" font-weight="bold" textLength="7.20" lengthAdjust="spacingAndGlyphs" stroke="#111" stroke-width="0.35">B</text>
<text x="380.40" y="29.60" font-size="8.4" fill="#333" text-anchor="middle" textLength="67.70" lengthAdjust="spacingAndGlyphs">Cytotoxicity assays</text>
<text x="278.60" y="42.30" font-size="6.5" text-anchor="middle" textLength="15.00" lengthAdjust="spacingAndGlyphs" stroke="#222" stroke-width="0.12">K562</text>
<line x1="245.60" y1="47.00" x2="245.60" y2="128.70" stroke="#111" stroke-width="1.1"/>
<line x1="245.10" y1="128.20" x2="311.60" y2="128.20" stroke="#111" stroke-width="1.1"/>
<line x1="242.80" y1="128.20" x2="245.60" y2="128.20" stroke="#111" stroke-width="0.9"/>
<text x="239.60" y="130.50" font-size="6.5" fill="#333" text-anchor="end" textLength="3.33" lengthAdjust="spacingAndGlyphs" stroke="#333" stroke-width="0.12">0</text>
<line x1="242.80" y1="112.50" x2="245.60" y2="112.50" stroke="#111" stroke-width="0.9"/>
<text x="239.60" y="114.80" font-size="6.5" fill="#333" text-anchor="end" textLength="6.66" lengthAdjust="spacingAndGlyphs" stroke="#333" stroke-width="0.12">20</text>
<line x1="242.80" y1="96.80" x2="245.60" y2="96.80" stroke="#111" stroke-width="0.9"/>
<text x="239.60" y="99.10" font-size="6.5" fill="#333" text-anchor="end" textLength="6.66" lengthAdjust="spacingAndGlyphs" stroke="#333" stroke-width="0.12">40</text>
<line x1="242.80" y1="81.10" x2="245.60" y2="81.10" stroke="#111" stroke-width="0.9"/>
<text x="239.60" y="83.40" font-size="6.5" fill="#333" text-anchor="end" textLength="6.66" lengthAdjust="spacingAndGlyphs" stroke="#333" stroke-width="0.12">60</text>
<line x1="242.80" y1="65.40" x2="245.60" y2="65.40" stroke="#111" stroke-width="0.9"/>
<text x="239.60" y="67.70" font-size="6.5" fill="#333" text-anchor="end" textLength="6.66" lengthAdjust="spacingAndGlyphs" stroke="#333" stroke-width="0.12">80</text>
<line x1="242.80" y1="49.70" x2="245.60" y2="49.70" stroke="#111" stroke-width="0.9"/>
<text x="239.60" y="52.00" font-size="6.5" fill="#333" text-anchor="end" textLength="9.99" lengthAdjust="spacingAndGlyphs" stroke="#333" stroke-width="0.12">100</text>
<line x1="252.60" y1="128.20" x2="252.60" y2="130.80" stroke="#111" stroke-width="0.9"/>
<text x="255.00" y="137.10" font-size="6.4" fill="#333" text-anchor="end" textLength="13.75" lengthAdjust="spacingAndGlyphs" transform="rotate(-45 255.00 137.10)" stroke="#333" stroke-width="0.12">1/8:1</text>
<line x1="263.02" y1="128.20" x2="263.02" y2="130.80" stroke="#111" stroke-width="0.9"/>
<text x="265.42" y="137.10" font-size="6.4" fill="#333" text-anchor="end" textLength="13.75" lengthAdjust="spacingAndGlyphs" transform="rotate(-45 265.42 137.10)" stroke="#333" stroke-width="0.12">1/4:1</text>
<line x1="273.44" y1="128.20" x2="273.44" y2="130.80" stroke="#111" stroke-width="0.9"/>
<text x="275.84" y="137.10" font-size="6.4" fill="#333" text-anchor="end" textLength="13.75" lengthAdjust="spacingAndGlyphs" transform="rotate(-45 275.84 137.10)" stroke="#333" stroke-width="0.12">1/2:1</text>
<line x1="283.86" y1="128.20" x2="283.86" y2="130.80" stroke="#111" stroke-width="0.9"/>
<text x="286.26" y="137.10" font-size="6.4" fill="#333" text-anchor="end" textLength="8.25" lengthAdjust="spacingAndGlyphs" transform="rotate(-45 286.26 137.10)" stroke="#333" stroke-width="0.12">1:1</text>
<line x1="294.28" y1="128.20" x2="294.28" y2="130.80" stroke="#111" stroke-width="0.9"/>
<text x="296.68" y="137.10" font-size="6.4" fill="#333" text-anchor="end" textLength="8.25" lengthAdjust="spacingAndGlyphs" transform="rotate(-45 296.68 137.10)" stroke="#333" stroke-width="0.12">2:1</text>
<line x1="304.70" y1="128.20" x2="304.70" y2="130.80" stroke="#111" stroke-width="0.9"/>
<text x="307.10" y="137.10" font-size="6.4" fill="#333" text-anchor="end" textLength="8.25" lengthAdjust="spacingAndGlyphs" transform="rotate(-45 307.10 137.10)" stroke="#333" stroke-width="0.12">4:1</text>
<text x="224.00" y="87.80" font-size="7.8" fill="#333" text-anchor="middle" textLength="41.50" lengthAdjust="spacingAndGlyphs" transform="rotate(-90 224.00 87.80)" stroke="#333" stroke-width="0.12">Elimination %</text>
<text x="279.00" y="158.60" font-size="7.9" fill="#333" text-anchor="middle" textLength="26.00" lengthAdjust="spacingAndGlyphs" stroke="#333" stroke-width="0.12">E : T ratio</text>
<line x1="252.60" y1="118.78" x2="252.60" y2="91.30" stroke="#86c486" stroke-width="0.7"/>
<line x1="251.70" y1="91.30" x2="253.50" y2="91.30" stroke="#86c486" stroke-width="0.6"/>
<line x1="263.02" y1="99.94" x2="263.02" y2="84.24" stroke="#86c486" stroke-width="0.7"/>
<line x1="262.12" y1="84.24" x2="263.92" y2="84.24" stroke="#86c486" stroke-width="0.6"/>
<line x1="273.44" y1="86.59" x2="273.44" y2="66.97" stroke="#86c486" stroke-width="0.7"/>
<line x1="272.54" y1="66.97" x2="274.34" y2="66.97" stroke="#86c486" stroke-width="0.6"/>
<line x1="283.86" y1="65.40" x2="283.86" y2="57.55" stroke="#86c486" stroke-width="0.7"/>
<line x1="282.96" y1="57.55" x2="284.76" y2="57.55" stroke="#86c486" stroke-width="0.6"/>
<line x1="252.60" y1="108.57" x2="252.60" y2="96.80" stroke="#555" stroke-width="0.7"/>
<line x1="251.70" y1="96.80" x2="253.50" y2="96.80" stroke="#555" stroke-width="0.6"/>
<line x1="263.02" y1="93.66" x2="263.02" y2="83.45" stroke="#555" stroke-width="0.7"/>
<line x1="262.12" y1="83.45" x2="263.92" y2="83.45" stroke="#555" stroke-width="0.6"/>
<polyline points="252.60,107.00 263.02,92.87 273.44,76.39 283.86,61.47 294.28,54.41 304.70,52.05" fill="none" stroke="#5cb85c" stroke-width="1.1"/>
<polyline points="252.60,107.00 263.02,91.30 273.44,72.46 283.86,59.90 294.28,53.62 304.70,52.05" fill="none" stroke="#2d6193" stroke-width="1.2"/>
<polyline points="252.60,102.29 263.02,86.59 273.44,65.40 283.86,55.98 294.28,53.23 304.70,52.05" fill="none" stroke="#1d2b2b" stroke-width="1.3"/>
<circle cx="252.60" cy="102.29" r="0.9" fill="#1d2b2b"/>
<circle cx="263.02" cy="86.59" r="0.9" fill="#1d2b2b"/>
<circle cx="273.44" cy="65.40" r="0.9" fill="#1d2b2b"/>
<circle cx="283.86" cy="55.98" r="0.9" fill="#1d2b2b"/>
<circle cx="294.28" cy="53.23" r="0.9" fill="#1d2b2b"/>
<circle cx="304.70" cy="52.05" r="0.9" fill="#1d2b2b"/>
<text x="380.30" y="42.30" font-size="6.5" text-anchor="middle" textLength="20.80" lengthAdjust="spacingAndGlyphs" stroke="#222" stroke-width="0.12">Nalm-6</text>
<line x1="347.30" y1="47.00" x2="347.30" y2="128.70" stroke="#111" stroke-width="1.1"/>
<line x1="346.80" y1="128.20" x2="413.30" y2="128.20" stroke="#111" stroke-width="1.1"/>
<line x1="344.50" y1="128.20" x2="347.30" y2="128.20" stroke="#111" stroke-width="0.9"/>
<text x="341.30" y="130.50" font-size="6.5" fill="#333" text-anchor="end" textLength="3.33" lengthAdjust="spacingAndGlyphs" stroke="#333" stroke-width="0.12">0</text>
<line x1="344.50" y1="112.50" x2="347.30" y2="112.50" stroke="#111" stroke-width="0.9"/>
<text x="341.30" y="114.80" font-size="6.5" fill="#333" text-anchor="end" textLength="6.66" lengthAdjust="spacingAndGlyphs" stroke="#333" stroke-width="0.12">20</text>
<line x1="344.50" y1="96.80" x2="347.30" y2="96.80" stroke="#111" stroke-width="0.9"/>
<text x="341.30" y="99.10" font-size="6.5" fill="#333" text-anchor="end" textLength="6.66" lengthAdjust="spacingAndGlyphs" stroke="#333" stroke-width="0.12">40</text>
<line x1="344.50" y1="81.10" x2="347.30" y2="81.10" stroke="#111" stroke-width="0.9"/>
<text x="341.30" y="83.40" font-size="6.5" fill="#333" text-anchor="end" textLength="6.66" lengthAdjust="spacingAndGlyphs" stroke="#333" stroke-width="0.12">60</text>
<line x1="344.50" y1="65.40" x2="347.30" y2="65.40" stroke="#111" stroke-width="0.9"/>
<text x="341.30" y="67.70" font-size="6.5" fill="#333" text-anchor="end" textLength="6.66" lengthAdjust="spacingAndGlyphs" stroke="#333" stroke-width="0.12">80</text>
<line x1="344.50" y1="49.70" x2="347.30" y2="49.70" stroke="#111" stroke-width="0.9"/>
<text x="341.30" y="52.00" font-size="6.5" fill="#333" text-anchor="end" textLength="9.99" lengthAdjust="spacingAndGlyphs" stroke="#333" stroke-width="0.12">100</text>
<line x1="354.30" y1="128.20" x2="354.30" y2="130.80" stroke="#111" stroke-width="0.9"/>
<text x="356.70" y="137.10" font-size="6.4" fill="#333" text-anchor="end" textLength="13.75" lengthAdjust="spacingAndGlyphs" transform="rotate(-45 356.70 137.10)" stroke="#333" stroke-width="0.12">1/8:1</text>
<line x1="364.72" y1="128.20" x2="364.72" y2="130.80" stroke="#111" stroke-width="0.9"/>
<text x="367.12" y="137.10" font-size="6.4" fill="#333" text-anchor="end" textLength="13.75" lengthAdjust="spacingAndGlyphs" transform="rotate(-45 367.12 137.10)" stroke="#333" stroke-width="0.12">1/4:1</text>
<line x1="375.14" y1="128.20" x2="375.14" y2="130.80" stroke="#111" stroke-width="0.9"/>
<text x="377.54" y="137.10" font-size="6.4" fill="#333" text-anchor="end" textLength="13.75" lengthAdjust="spacingAndGlyphs" transform="rotate(-45 377.54 137.10)" stroke="#333" stroke-width="0.12">1/2:1</text>
<line x1="385.56" y1="128.20" x2="385.56" y2="130.80" stroke="#111" stroke-width="0.9"/>
<text x="387.96" y="137.10" font-size="6.4" fill="#333" text-anchor="end" textLength="8.25" lengthAdjust="spacingAndGlyphs" transform="rotate(-45 387.96 137.10)" stroke="#333" stroke-width="0.12">1:1</text>
<line x1="395.98" y1="128.20" x2="395.98" y2="130.80" stroke="#111" stroke-width="0.9"/>
<text x="398.38" y="137.10" font-size="6.4" fill="#333" text-anchor="end" textLength="8.25" lengthAdjust="spacingAndGlyphs" transform="rotate(-45 398.38 137.10)" stroke="#333" stroke-width="0.12">2:1</text>
<line x1="406.40" y1="128.20" x2="406.40" y2="130.80" stroke="#111" stroke-width="0.9"/>
<text x="408.80" y="137.10" font-size="6.4" fill="#333" text-anchor="end" textLength="8.25" lengthAdjust="spacingAndGlyphs" transform="rotate(-45 408.80 137.10)" stroke="#333" stroke-width="0.12">4:1</text>
<text x="325.70" y="87.80" font-size="7.8" fill="#333" text-anchor="middle" textLength="41.50" lengthAdjust="spacingAndGlyphs" transform="rotate(-90 325.70 87.80)" stroke="#333" stroke-width="0.12">Elimination %</text>
<text x="380.70" y="158.60" font-size="7.9" fill="#333" text-anchor="middle" textLength="26.00" lengthAdjust="spacingAndGlyphs" stroke="#333" stroke-width="0.12">E : T ratio</text>
<line x1="354.30" y1="128.20" x2="354.30" y2="106.22" stroke="#666" stroke-width="0.7"/>
<line x1="353.40" y1="106.22" x2="355.20" y2="106.22" stroke="#666" stroke-width="0.6"/>
<line x1="364.72" y1="128.20" x2="364.72" y2="104.65" stroke="#666" stroke-width="0.7"/>
<line x1="363.82" y1="104.65" x2="365.62" y2="104.65" stroke="#666" stroke-width="0.6"/>
<line x1="375.14" y1="118.78" x2="375.14" y2="94.44" stroke="#666" stroke-width="0.7"/>
<line x1="374.24" y1="94.44" x2="376.04" y2="94.44" stroke="#666" stroke-width="0.6"/>
<line x1="385.56" y1="110.14" x2="385.56" y2="80.31" stroke="#666" stroke-width="0.7"/>
<line x1="384.66" y1="80.31" x2="386.46" y2="80.31" stroke="#666" stroke-width="0.6"/>
<line x1="395.98" y1="99.94" x2="395.98" y2="69.32" stroke="#666" stroke-width="0.7"/>
<line x1="395.08" y1="69.32" x2="396.88" y2="69.32" stroke="#666" stroke-width="0.6"/>
<line x1="406.40" y1="85.81" x2="406.40" y2="63.83" stroke="#666" stroke-width="0.7"/>
<line x1="405.50" y1="63.83" x2="407.30" y2="63.83" stroke="#666" stroke-width="0.6"/>
<line x1="375.14" y1="112.50" x2="375.14" y2="93.66" stroke="#86c486" stroke-width="0.7"/>
<line x1="374.24" y1="93.66" x2="376.04" y2="93.66" stroke="#86c486" stroke-width="0.6"/>
<line x1="385.56" y1="98.37" x2="385.56" y2="82.67" stroke="#86c486" stroke-width="0.7"/>
<line x1="384.66" y1="82.67" x2="386.46" y2="82.67" stroke="#86c486" stroke-width="0.6"/>
<line x1="395.98" y1="88.95" x2="395.98" y2="68.54" stroke="#86c486" stroke-width="0.7"/>
<line x1="395.08" y1="68.54" x2="396.88" y2="68.54" stroke="#86c486" stroke-width="0.6"/>
<polyline points="354.30,116.19 364.72,110.30 375.14,98.92 385.56,86.59 395.98,75.60 406.40,69.64" fill="none" stroke="#5cb85c" stroke-width="1.1"/>
<polyline points="354.30,117.21 364.72,114.46 375.14,100.88 385.56,92.48 395.98,78.90 406.40,72.07" fill="none" stroke="#2d6193" stroke-width="1.2"/>
<polyline points="354.30,117.52 364.72,118.23 375.14,108.57 385.56,94.99 395.98,83.61 406.40,76.39" fill="none" stroke="#1d2b2b" stroke-width="1.3"/>
<circle cx="354.30" cy="117.52" r="0.9" fill="#1d2b2b"/>
<circle cx="364.72" cy="118.23" r="0.9" fill="#1d2b2b"/>
<circle cx="375.14" cy="108.57" r="0.9" fill="#1d2b2b"/>
<circle cx="385.56" cy="94.99" r="0.9" fill="#1d2b2b"/>
<circle cx="395.98" cy="83.61" r="0.9" fill="#1d2b2b"/>
<circle cx="406.40" cy="76.39" r="0.9" fill="#1d2b2b"/>
<text x="479.40" y="42.30" font-size="6.5" text-anchor="middle" textLength="50.50" lengthAdjust="spacingAndGlyphs" stroke="#222" stroke-width="0.12">Allogeneic PBMC</text>
<line x1="446.40" y1="47.00" x2="446.40" y2="128.70" stroke="#111" stroke-width="1.1"/>
<line x1="445.90" y1="128.20" x2="512.40" y2="128.20" stroke="#111" stroke-width="1.1"/>
<line x1="443.60" y1="128.20" x2="446.40" y2="128.20" stroke="#111" stroke-width="0.9"/>
<text x="440.40" y="130.50" font-size="6.5" fill="#333" text-anchor="end" textLength="3.33" lengthAdjust="spacingAndGlyphs" stroke="#333" stroke-width="0.12">0</text>
<line x1="443.60" y1="112.50" x2="446.40" y2="112.50" stroke="#111" stroke-width="0.9"/>
<text x="440.40" y="114.80" font-size="6.5" fill="#333" text-anchor="end" textLength="6.66" lengthAdjust="spacingAndGlyphs" stroke="#333" stroke-width="0.12">20</text>
<line x1="443.60" y1="96.80" x2="446.40" y2="96.80" stroke="#111" stroke-width="0.9"/>
<text x="440.40" y="99.10" font-size="6.5" fill="#333" text-anchor="end" textLength="6.66" lengthAdjust="spacingAndGlyphs" stroke="#333" stroke-width="0.12">40</text>
<line x1="443.60" y1="81.10" x2="446.40" y2="81.10" stroke="#111" stroke-width="0.9"/>
<text x="440.40" y="83.40" font-size="6.5" fill="#333" text-anchor="end" textLength="6.66" lengthAdjust="spacingAndGlyphs" stroke="#333" stroke-width="0.12">60</text>
<line x1="443.60" y1="65.40" x2="446.40" y2="65.40" stroke="#111" stroke-width="0.9"/>
<text x="440.40" y="67.70" font-size="6.5" fill="#333" text-anchor="end" textLength="6.66" lengthAdjust="spacingAndGlyphs" stroke="#333" stroke-width="0.12">80</text>
<line x1="443.60" y1="49.70" x2="446.40" y2="49.70" stroke="#111" stroke-width="0.9"/>
<text x="440.40" y="52.00" font-size="6.5" fill="#333" text-anchor="end" textLength="9.99" lengthAdjust="spacingAndGlyphs" stroke="#333" stroke-width="0.12">100</text>
<line x1="453.40" y1="128.20" x2="453.40" y2="130.80" stroke="#111" stroke-width="0.9"/>
<text x="455.80" y="137.10" font-size="6.4" fill="#333" text-anchor="end" textLength="13.75" lengthAdjust="spacingAndGlyphs" transform="rotate(-45 455.80 137.10)" stroke="#333" stroke-width="0.12">1/8:1</text>
<line x1="463.82" y1="128.20" x2="463.82" y2="130.80" stroke="#111" stroke-width="0.9"/>
<text x="466.22" y="137.10" font-size="6.4" fill="#333" text-anchor="end" textLength="13.75" lengthAdjust="spacingAndGlyphs" transform="rotate(-45 466.22 137.10)" stroke="#333" stroke-width="0.12">1/4:1</text>
<line x1="474.24" y1="128.20" x2="474.24" y2="130.80" stroke="#111" stroke-width="0.9"/>
<text x="476.64" y="137.10" font-size="6.4" fill="#333" text-anchor="end" textLength="13.75" lengthAdjust="spacingAndGlyphs" transform="rotate(-45 476.64 137.10)" stroke="#333" stroke-width="0.12">1/2:1</text>
<line x1="484.66" y1="128.20" x2="484.66" y2="130.80" stroke="#111" stroke-width="0.9"/>
<text x="487.06" y="137.10" font-size="6.4" fill="#333" text-anchor="end" textLength="8.25" lengthAdjust="spacingAndGlyphs" transform="rotate(-45 487.06 137.10)" stroke="#333" stroke-width="0.12">1:1</text>
<line x1="495.08" y1="128.20" x2="495.08" y2="130.80" stroke="#111" stroke-width="0.9"/>
<text x="497.48" y="137.10" font-size="6.4" fill="#333" text-anchor="end" textLength="8.25" lengthAdjust="spacingAndGlyphs" transform="rotate(-45 497.48 137.10)" stroke="#333" stroke-width="0.12">2:1</text>
<line x1="505.50" y1="128.20" x2="505.50" y2="130.80" stroke="#111" stroke-width="0.9"/>
<text x="507.90" y="137.10" font-size="6.4" fill="#333" text-anchor="end" textLength="8.25" lengthAdjust="spacingAndGlyphs" transform="rotate(-45 507.90 137.10)" stroke="#333" stroke-width="0.12">4:1</text>
<text x="424.80" y="87.80" font-size="7.8" fill="#333" text-anchor="middle" textLength="41.50" lengthAdjust="spacingAndGlyphs" transform="rotate(-90 424.80 87.80)" stroke="#333" stroke-width="0.12">Elimination %</text>
<text x="479.80" y="158.60" font-size="7.9" fill="#333" text-anchor="middle" textLength="26.00" lengthAdjust="spacingAndGlyphs" stroke="#333" stroke-width="0.12">E : T ratio</text>
<line x1="453.40" y1="128.20" x2="453.40" y2="115.64" stroke="#666" stroke-width="0.7"/>
<line x1="452.50" y1="115.64" x2="454.30" y2="115.64" stroke="#666" stroke-width="0.6"/>
<line x1="463.82" y1="128.20" x2="463.82" y2="119.56" stroke="#666" stroke-width="0.7"/>
<line x1="462.92" y1="119.56" x2="464.72" y2="119.56" stroke="#666" stroke-width="0.6"/>
<line x1="474.24" y1="128.20" x2="474.24" y2="120.35" stroke="#666" stroke-width="0.7"/>
<line x1="473.34" y1="120.35" x2="475.14" y2="120.35" stroke="#666" stroke-width="0.6"/>
<line x1="484.66" y1="128.20" x2="484.66" y2="123.49" stroke="#666" stroke-width="0.7"/>
<line x1="483.76" y1="123.49" x2="485.56" y2="123.49" stroke="#666" stroke-width="0.6"/>
<line x1="495.08" y1="128.20" x2="495.08" y2="121.13" stroke="#666" stroke-width="0.7"/>
<line x1="494.18" y1="121.13" x2="495.98" y2="121.13" stroke="#666" stroke-width="0.6"/>
<line x1="505.50" y1="128.20" x2="505.50" y2="120.74" stroke="#666" stroke-width="0.7"/>
<line x1="504.60" y1="120.74" x2="506.40" y2="120.74" stroke="#666" stroke-width="0.6"/>
<line x1="453.40" y1="128.20" x2="453.40" y2="117.99" stroke="#86c486" stroke-width="0.7"/>
<line x1="452.50" y1="117.99" x2="454.30" y2="117.99" stroke="#86c486" stroke-width="0.6"/>
<line x1="495.08" y1="128.20" x2="495.08" y2="121.92" stroke="#86c486" stroke-width="0.7"/>
<line x1="494.18" y1="121.92" x2="495.98" y2="121.92" stroke="#86c486" stroke-width="0.6"/>
<polyline points="453.40,124.67 463.82,125.84 474.24,124.67 484.66,124.67 495.08,125.45 505.50,123.49" fill="none" stroke="#5cb85c" stroke-width="1.1"/>
<polyline points="453.40,123.49 463.82,122.31 474.24,122.31 484.66,124.27 495.08,125.84 505.50,124.67" fill="none" stroke="#2d6193" stroke-width="1.2"/>
<polyline points="453.40,123.49 463.82,123.49 474.24,125.84 484.66,125.06 495.08,126.24 505.50,125.45" fill="none" stroke="#1d2b2b" stroke-width="1.3"/>
<circle cx="453.40" cy="123.49" r="0.9" fill="#1d2b2b"/>
<circle cx="463.82" cy="123.49" r="0.9" fill="#1d2b2b"/>
<circle cx="474.24" cy="125.84" r="0.9" fill="#1d2b2b"/>
<circle cx="484.66" cy="125.06" r="0.9" fill="#1d2b2b"/>
<circle cx="495.08" cy="126.24" r="0.9" fill="#1d2b2b"/>
<circle cx="505.50" cy="125.45" r="0.9" fill="#1d2b2b"/>
<line x1="303.70" y1="170.20" x2="315.40" y2="170.20" stroke="#1d2b2b" stroke-width="1.0"/>
<text x="318.80" y="172.30" font-size="6.4" fill="#333" font-style="italic" textLength="24" lengthAdjust="spacingAndGlyphs" stroke="#333" stroke-width="0.12">mock-E<tspan font-size="4.2" dy="-2.31">+</tspan></text>
<line x1="349.40" y1="170.20" x2="359.60" y2="170.20" stroke="#2d6193" stroke-width="1.0"/>
<text x="363.00" y="172.20" font-size="6" fill="#2d6193" font-style="italic" textLength="28" lengthAdjust="spacingAndGlyphs" stroke="#2d6193" stroke-width="0.12">CD3ζ KO<tspan font-size="4.2" dy="-2.31">+</tspan></text>
<line x1="397.80" y1="170.20" x2="409.00" y2="170.20" stroke="#5cb85c" stroke-width="1.0"/>
<text x="412.30" y="172.30" font-size="6.4" fill="#6cbc6c" font-style="italic" textLength="37.50" lengthAdjust="spacingAndGlyphs" stroke="#6cbc6c" stroke-width="0.12">CD3ζ GFP KI</text>
<text x="13.70" y="203.20" font-size="11.8" fill="#111" font-weight="bold" textLength="7.60" lengthAdjust="spacingAndGlyphs" stroke="#111" stroke-width="0.35">C</text>
<text x="117.30" y="215.60" font-size="8.4" fill="#333" text-anchor="middle" textLength="50.90" lengthAdjust="spacingAndGlyphs">Degranulation</text>
<line x1="44.80" y1="250.40" x2="44.80" y2="320.00" stroke="#111" stroke-width="1.1"/>
<line x1="44.30" y1="319.50" x2="189.50" y2="319.50" stroke="#111" stroke-width="1.1"/>
<line x1="42.00" y1="319.50" x2="44.80" y2="319.50" stroke="#111" stroke-width="0.9"/>
<text x="39.10" y="321.90" font-size="6.7" fill="#333" text-anchor="end" textLength="3.45" lengthAdjust="spacingAndGlyphs" stroke="#333" stroke-width="0.12">0</text>
<line x1="42.00" y1="306.14" x2="44.80" y2="306.14" stroke="#111" stroke-width="0.9"/>
<text x="39.10" y="308.54" font-size="6.7" fill="#333" text-anchor="end" textLength="6.90" lengthAdjust="spacingAndGlyphs" stroke="#333" stroke-width="0.12">20</text>
<line x1="42.00" y1="292.78" x2="44.80" y2="292.78" stroke="#111" stroke-width="0.9"/>
<text x="39.10" y="295.18" font-size="6.7" fill="#333" text-anchor="end" textLength="6.90" lengthAdjust="spacingAndGlyphs" stroke="#333" stroke-width="0.12">40</text>
<line x1="42.00" y1="279.42" x2="44.80" y2="279.42" stroke="#111" stroke-width="0.9"/>
<text x="39.10" y="281.82" font-size="6.7" fill="#333" text-anchor="end" textLength="6.90" lengthAdjust="spacingAndGlyphs" stroke="#333" stroke-width="0.12">60</text>
<line x1="42.00" y1="266.06" x2="44.80" y2="266.06" stroke="#111" stroke-width="0.9"/>
<text x="39.10" y="268.46" font-size="6.7" fill="#333" text-anchor="end" textLength="6.90" lengthAdjust="spacingAndGlyphs" stroke="#333" stroke-width="0.12">80</text>
<line x1="42.00" y1="252.70" x2="44.80" y2="252.70" stroke="#111" stroke-width="0.9"/>
<text x="39.10" y="255.10" font-size="6.7" fill="#333" text-anchor="end" textLength="10.35" lengthAdjust="spacingAndGlyphs" stroke="#333" stroke-width="0.12">100</text>
<text x="23.40" y="284.50" font-size="7.8" fill="#333" text-anchor="middle" textLength="50.00" lengthAdjust="spacingAndGlyphs" transform="rotate(-90 23.40 284.50)" stroke="#333" stroke-width="0.12">Degranulation %</text>
<line x1="62.03" y1="319.50" x2="62.03" y2="322.10" stroke="#111" stroke-width="0.9"/>
<text x="62.03" y="330.60" font-size="6.3" text-anchor="middle" textLength="8.20" lengthAdjust="spacingAndGlyphs" stroke="#222" stroke-width="0.12">wo</text>
<rect x="48.00" y="315.63" width="4.80" height="3.87" fill="#151515"/>
<line x1="50.40" y1="315.63" x2="50.40" y2="310.42" stroke="#151515" stroke-width="0.8"/>
<line x1="49.30" y1="310.42" x2="51.50" y2="310.42" stroke="#151515" stroke-width="0.8"/>
<rect x="55.75" y="315.76" width="4.80" height="3.74" fill="#1e4f86"/>
<line x1="58.15" y1="315.76" x2="58.15" y2="311.48" stroke="#1e4f86" stroke-width="0.8"/>
<line x1="57.05" y1="311.48" x2="59.25" y2="311.48" stroke="#1e4f86" stroke-width="0.8"/>
<rect x="63.50" y="317.23" width="4.80" height="2.27" fill="#3aa43a"/>
<line x1="65.90" y1="317.23" x2="65.90" y2="313.29" stroke="#3aa43a" stroke-width="0.8"/>
<line x1="64.80" y1="313.29" x2="67.00" y2="313.29" stroke="#3aa43a" stroke-width="0.8"/>
<rect x="71.25" y="318.63" width="4.80" height="0.87" fill="#9d8fd0"/>
<line x1="73.65" y1="318.63" x2="73.65" y2="317.63" stroke="#9d8fd0" stroke-width="0.8"/>
<line x1="72.55" y1="317.63" x2="74.75" y2="317.63" stroke="#9d8fd0" stroke-width="0.8"/>
<line x1="50.40" y1="231.00" x2="73.65" y2="231.00" stroke="#8a8a8a" stroke-width="0.8"/>
<line x1="50.40" y1="230.60" x2="50.40" y2="307.42" stroke="#8a8a8a" stroke-width="0.8"/>
<line x1="73.65" y1="230.60" x2="73.65" y2="241.50" stroke="#8a8a8a" stroke-width="0.8"/>
<text x="62.03" y="229.00" font-size="6.6" fill="#444" text-anchor="middle" stroke="#444" stroke-width="0.12">ns</text>
<line x1="58.15" y1="245.20" x2="73.65" y2="245.20" stroke="#8a8a8a" stroke-width="0.8"/>
<line x1="58.15" y1="244.80" x2="58.15" y2="308.48" stroke="#8a8a8a" stroke-width="0.8"/>
<line x1="73.65" y1="244.80" x2="73.65" y2="248.70" stroke="#8a8a8a" stroke-width="0.8"/>
<text x="65.90" y="243.20" font-size="6.6" fill="#444" text-anchor="middle" stroke="#444" stroke-width="0.12">ns</text>
<line x1="65.90" y1="259.60" x2="73.65" y2="259.60" stroke="#8a8a8a" stroke-width="0.8"/>
<line x1="65.90" y1="259.20" x2="65.90" y2="310.29" stroke="#8a8a8a" stroke-width="0.8"/>
<line x1="73.65" y1="259.20" x2="73.65" y2="314.63" stroke="#8a8a8a" stroke-width="0.8"/>
<text x="69.78" y="257.60" font-size="6.6" fill="#444" text-anchor="middle" stroke="#444" stroke-width="0.12">ns</text>
<line x1="98.67" y1="319.50" x2="98.67" y2="322.10" stroke="#111" stroke-width="0.9"/>
<text x="98.67" y="330.60" font-size="6.3" text-anchor="middle" textLength="14.60" lengthAdjust="spacingAndGlyphs" stroke="#222" stroke-width="0.12">K562</text>
<rect x="84.65" y="273.81" width="4.80" height="45.69" fill="#151515"/>
<line x1="87.05" y1="273.81" x2="87.05" y2="267.13" stroke="#151515" stroke-width="0.8"/>
<line x1="85.95" y1="267.13" x2="88.15" y2="267.13" stroke="#151515" stroke-width="0.8"/>
<rect x="92.40" y="276.48" width="4.80" height="43.02" fill="#1e4f86"/>
<line x1="94.80" y1="276.48" x2="94.80" y2="272.47" stroke="#1e4f86" stroke-width="0.8"/>
<line x1="93.70" y1="272.47" x2="95.90" y2="272.47" stroke="#1e4f86" stroke-width="0.8"/>
<rect x="100.15" y="281.02" width="4.80" height="38.48" fill="#3aa43a"/>
<line x1="102.55" y1="281.02" x2="102.55" y2="271.67" stroke="#3aa43a" stroke-width="0.8"/>
<line x1="101.45" y1="271.67" x2="103.65" y2="271.67" stroke="#3aa43a" stroke-width="0.8"/>
<rect x="107.90" y="279.89" width="4.80" height="39.61" fill="#9d8fd0"/>
<line x1="110.30" y1="279.89" x2="110.30" y2="274.54" stroke="#9d8fd0" stroke-width="0.8"/>
<line x1="109.20" y1="274.54" x2="111.40" y2="274.54" stroke="#9d8fd0" stroke-width="0.8"/>
<line x1="87.05" y1="231.00" x2="110.30" y2="231.00" stroke="#8a8a8a" stroke-width="0.8"/>
<line x1="87.05" y1="230.60" x2="87.05" y2="264.13" stroke="#8a8a8a" stroke-width="0.8"/>
<line x1="110.30" y1="230.60" x2="110.30" y2="241.50" stroke="#8a8a8a" stroke-width="0.8"/>
<text x="98.67" y="229.00" font-size="6.6" fill="#444" text-anchor="middle" stroke="#444" stroke-width="0.12">ns</text>
<line x1="94.80" y1="245.20" x2="110.30" y2="245.20" stroke="#8a8a8a" stroke-width="0.8"/>
<line x1="94.80" y1="244.80" x2="94.80" y2="269.47" stroke="#8a8a8a" stroke-width="0.8"/>
<line x1="110.30" y1="244.80" x2="110.30" y2="248.70" stroke="#8a8a8a" stroke-width="0.8"/>
<text x="102.55" y="243.20" font-size="6.6" fill="#444" text-anchor="middle" stroke="#444" stroke-width="0.12">ns</text>
<line x1="102.55" y1="259.60" x2="110.30" y2="259.60" stroke="#8a8a8a" stroke-width="0.8"/>
<line x1="102.55" y1="259.20" x2="102.55" y2="268.67" stroke="#8a8a8a" stroke-width="0.8"/>
<line x1="110.30" y1="259.20" x2="110.30" y2="271.54" stroke="#8a8a8a" stroke-width="0.8"/>
<text x="106.42" y="257.60" font-size="6.6" fill="#444" text-anchor="middle" stroke="#444" stroke-width="0.12">ns</text>
<line x1="135.32" y1="319.50" x2="135.32" y2="322.10" stroke="#111" stroke-width="0.9"/>
<text x="135.32" y="330.60" font-size="6.3" text-anchor="middle" textLength="22.20" lengthAdjust="spacingAndGlyphs" stroke="#222" stroke-width="0.12">Nalm-6</text>
<rect x="121.30" y="298.79" width="4.80" height="20.71" fill="#151515"/>
<line x1="123.70" y1="298.79" x2="123.70" y2="292.11" stroke="#151515" stroke-width="0.8"/>
<line x1="122.60" y1="292.11" x2="124.80" y2="292.11" stroke="#151515" stroke-width="0.8"/>
<rect x="129.05" y="299.19" width="4.80" height="20.31" fill="#1e4f86"/>
<line x1="131.45" y1="299.19" x2="131.45" y2="292.51" stroke="#1e4f86" stroke-width="0.8"/>
<line x1="130.35" y1="292.51" x2="132.55" y2="292.51" stroke="#1e4f86" stroke-width="0.8"/>
<rect x="136.80" y="302.60" width="4.80" height="16.90" fill="#3aa43a"/>
<line x1="139.20" y1="302.60" x2="139.20" y2="295.25" stroke="#3aa43a" stroke-width="0.8"/>
<line x1="138.10" y1="295.25" x2="140.30" y2="295.25" stroke="#3aa43a" stroke-width="0.8"/>
<rect x="144.55" y="293.51" width="4.80" height="25.99" fill="#9d8fd0"/>
<line x1="146.95" y1="293.51" x2="146.95" y2="286.83" stroke="#9d8fd0" stroke-width="0.8"/>
<line x1="145.85" y1="286.83" x2="148.05" y2="286.83" stroke="#9d8fd0" stroke-width="0.8"/>
<line x1="123.70" y1="231.00" x2="146.95" y2="231.00" stroke="#8a8a8a" stroke-width="0.8"/>
<line x1="123.70" y1="230.60" x2="123.70" y2="289.11" stroke="#8a8a8a" stroke-width="0.8"/>
<line x1="146.95" y1="230.60" x2="146.95" y2="241.50" stroke="#8a8a8a" stroke-width="0.8"/>
<text x="135.32" y="229.00" font-size="6.6" fill="#444" text-anchor="middle" stroke="#444" stroke-width="0.12">ns</text>
<line x1="131.45" y1="245.20" x2="146.95" y2="245.20" stroke="#8a8a8a" stroke-width="0.8"/>
<line x1="131.45" y1="244.80" x2="131.45" y2="289.51" stroke="#8a8a8a" stroke-width="0.8"/>
<line x1="146.95" y1="244.80" x2="146.95" y2="248.70" stroke="#8a8a8a" stroke-width="0.8"/>
<text x="139.20" y="243.20" font-size="6.6" fill="#444" text-anchor="middle" stroke="#444" stroke-width="0.12">ns</text>
<line x1="139.20" y1="259.60" x2="146.95" y2="259.60" stroke="#8a8a8a" stroke-width="0.8"/>
<line x1="139.20" y1="259.20" x2="139.20" y2="292.25" stroke="#8a8a8a" stroke-width="0.8"/>
<line x1="146.95" y1="259.20" x2="146.95" y2="283.83" stroke="#8a8a8a" stroke-width="0.8"/>
<text x="143.07" y="257.60" font-size="6.6" fill="#444" text-anchor="middle" stroke="#444" stroke-width="0.12">ns</text>
<line x1="171.97" y1="319.50" x2="171.97" y2="322.10" stroke="#111" stroke-width="0.9"/>
<text x="171.97" y="330.60" font-size="6.3" text-anchor="middle" textLength="30.20" lengthAdjust="spacingAndGlyphs" stroke="#222" stroke-width="0.12">allo-PBMC</text>
<rect x="157.95" y="316.16" width="4.80" height="3.34" fill="#151515"/>
<line x1="160.35" y1="316.16" x2="160.35" y2="315.69" stroke="#151515" stroke-width="0.8"/>
<line x1="159.25" y1="315.69" x2="161.45" y2="315.69" stroke="#151515" stroke-width="0.8"/>
<rect x="165.70" y="315.49" width="4.80" height="4.01" fill="#1e4f86"/>
<line x1="168.10" y1="315.49" x2="168.10" y2="315.16" stroke="#1e4f86" stroke-width="0.8"/>
<line x1="167.00" y1="315.16" x2="169.20" y2="315.16" stroke="#1e4f86" stroke-width="0.8"/>
<rect x="173.45" y="316.16" width="4.80" height="3.34" fill="#3aa43a"/>
<line x1="175.85" y1="316.16" x2="175.85" y2="315.69" stroke="#3aa43a" stroke-width="0.8"/>
<line x1="174.75" y1="315.69" x2="176.95" y2="315.69" stroke="#3aa43a" stroke-width="0.8"/>
<rect x="181.20" y="316.83" width="4.80" height="2.67" fill="#9d8fd0"/>
<line x1="183.60" y1="316.83" x2="183.60" y2="316.49" stroke="#9d8fd0" stroke-width="0.8"/>
<line x1="182.50" y1="316.49" x2="184.70" y2="316.49" stroke="#9d8fd0" stroke-width="0.8"/>
<line x1="160.35" y1="231.00" x2="183.60" y2="231.00" stroke="#8a8a8a" stroke-width="0.8"/>
<line x1="160.35" y1="230.60" x2="160.35" y2="312.69" stroke="#8a8a8a" stroke-width="0.8"/>
<line x1="183.60" y1="230.60" x2="183.60" y2="241.50" stroke="#8a8a8a" stroke-width="0.8"/>
<text x="171.97" y="229.00" font-size="6.6" fill="#444" text-anchor="middle" stroke="#444" stroke-width="0.12">ns</text>
<line x1="168.10" y1="245.20" x2="183.60" y2="245.20" stroke="#8a8a8a" stroke-width="0.8"/>
<line x1="168.10" y1="244.80" x2="168.10" y2="312.16" stroke="#8a8a8a" stroke-width="0.8"/>
<line x1="183.60" y1="244.80" x2="183.60" y2="248.70" stroke="#8a8a8a" stroke-width="0.8"/>
<text x="175.85" y="243.20" font-size="6.6" fill="#444" text-anchor="middle" stroke="#444" stroke-width="0.12">ns</text>
<line x1="175.85" y1="259.60" x2="183.60" y2="259.60" stroke="#8a8a8a" stroke-width="0.8"/>
<line x1="175.85" y1="259.20" x2="175.85" y2="312.69" stroke="#8a8a8a" stroke-width="0.8"/>
<line x1="183.60" y1="259.20" x2="183.60" y2="313.49" stroke="#8a8a8a" stroke-width="0.8"/>
<text x="179.72" y="257.60" font-size="6.6" fill="#444" text-anchor="middle" stroke="#444" stroke-width="0.12">ns</text>
<line x1="66.70" y1="342.10" x2="76.60" y2="342.10" stroke="#333" stroke-width="1.4"/>
<text x="79.90" y="344.30" font-size="6.6" font-style="italic" textLength="24.5" lengthAdjust="spacingAndGlyphs" stroke="#222" stroke-width="0.12">mock-E<tspan font-size="4.2" dy="-2.31">+</tspan></text>
<line x1="124.20" y1="342.10" x2="134.80" y2="342.10" stroke="#3a6a9a" stroke-width="1.4"/>
<text x="138.00" y="344.30" font-size="6.6" fill="#2f5f95" font-style="italic" textLength="26.40" lengthAdjust="spacingAndGlyphs" stroke="#2f5f95" stroke-width="0.12">CD3ζ KO</text>
<line x1="66.70" y1="351.60" x2="76.60" y2="351.60" stroke="#6cbc64" stroke-width="1.4"/>
<text x="80.00" y="353.80" font-size="6.6" fill="#66b860" font-style="italic" textLength="37.30" lengthAdjust="spacingAndGlyphs" stroke="#66b860" stroke-width="0.12">CD3ζ GFP KI</text>
<line x1="124.20" y1="351.60" x2="134.80" y2="351.60" stroke="#ada4da" stroke-width="1.4"/>
<text x="138.00" y="353.80" font-size="6.6" fill="#a89ed8" font-style="italic" textLength="30.50" lengthAdjust="spacingAndGlyphs" stroke="#a89ed8" stroke-width="0.12">untouched</text>
<text x="14.40" y="375.20" font-size="11.8" fill="#111" font-weight="bold" textLength="6.90" lengthAdjust="spacingAndGlyphs" stroke="#111" stroke-width="0.35">E</text>
<text x="116.90" y="387.40" font-size="8.3" fill="#333" text-anchor="middle" textLength="153.80" lengthAdjust="spacingAndGlyphs">Ab-dependent cellular cytotoxicity (ADCC)</text>
<line x1="44.80" y1="395.40" x2="44.80" y2="464.90" stroke="#111" stroke-width="1.1"/>
<line x1="44.30" y1="464.40" x2="110.30" y2="464.40" stroke="#111" stroke-width="1.1"/>
<line x1="42.00" y1="464.40" x2="44.80" y2="464.40" stroke="#111" stroke-width="0.9"/>
<text x="38.00" y="467.10" font-size="6.8" fill="#333" text-anchor="end" textLength="3.30" lengthAdjust="spacingAndGlyphs" stroke="#333" stroke-width="0.12">0</text>
<line x1="42.00" y1="451.11" x2="44.80" y2="451.11" stroke="#111" stroke-width="0.9"/>
<text x="38.00" y="453.81" font-size="6.8" fill="#333" text-anchor="end" textLength="6.60" lengthAdjust="spacingAndGlyphs" stroke="#333" stroke-width="0.12">15</text>
<line x1="42.00" y1="437.82" x2="44.80" y2="437.82" stroke="#111" stroke-width="0.9"/>
<text x="38.00" y="440.52" font-size="6.8" fill="#333" text-anchor="end" textLength="6.60" lengthAdjust="spacingAndGlyphs" stroke="#333" stroke-width="0.12">30</text>
<line x1="42.00" y1="424.53" x2="44.80" y2="424.53" stroke="#111" stroke-width="0.9"/>
<text x="38.00" y="427.23" font-size="6.8" fill="#333" text-anchor="end" textLength="6.60" lengthAdjust="spacingAndGlyphs" stroke="#333" stroke-width="0.12">45</text>
<line x1="42.00" y1="411.24" x2="44.80" y2="411.24" stroke="#111" stroke-width="0.9"/>
<text x="38.00" y="413.94" font-size="6.8" fill="#333" text-anchor="end" textLength="6.60" lengthAdjust="spacingAndGlyphs" stroke="#333" stroke-width="0.12">60</text>
<line x1="42.00" y1="397.95" x2="44.80" y2="397.95" stroke="#111" stroke-width="0.9"/>
<text x="38.00" y="400.65" font-size="6.8" fill="#333" text-anchor="end" textLength="6.60" lengthAdjust="spacingAndGlyphs" stroke="#333" stroke-width="0.12">75</text>
<line x1="49.30" y1="464.40" x2="49.30" y2="467.00" stroke="#111" stroke-width="0.9"/>
<text x="51.90" y="473.60" font-size="6.4" fill="#333" text-anchor="end" textLength="2.95" lengthAdjust="spacingAndGlyphs" transform="rotate(-45 51.90 473.60)" stroke="#333" stroke-width="0.12">0</text>
<line x1="58.77" y1="464.40" x2="58.77" y2="467.00" stroke="#111" stroke-width="0.9"/>
<text x="61.37" y="473.60" font-size="6.4" fill="#333" text-anchor="end" textLength="17.70" lengthAdjust="spacingAndGlyphs" transform="rotate(-45 61.37 473.60)" stroke="#333" stroke-width="0.12">0,0032</text>
<line x1="68.24" y1="464.40" x2="68.24" y2="467.00" stroke="#111" stroke-width="0.9"/>
<text x="70.84" y="473.60" font-size="6.4" fill="#333" text-anchor="end" textLength="14.75" lengthAdjust="spacingAndGlyphs" transform="rotate(-45 70.84 473.60)" stroke="#333" stroke-width="0.12">0,016</text>
<line x1="77.71" y1="464.40" x2="77.71" y2="467.00" stroke="#111" stroke-width="0.9"/>
<text x="80.31" y="473.60" font-size="6.4" fill="#333" text-anchor="end" textLength="11.80" lengthAdjust="spacingAndGlyphs" transform="rotate(-45 80.31 473.60)" stroke="#333" stroke-width="0.12">0,08</text>
<line x1="87.18" y1="464.40" x2="87.18" y2="467.00" stroke="#111" stroke-width="0.9"/>
<text x="89.78" y="473.60" font-size="6.4" fill="#333" text-anchor="end" textLength="8.85" lengthAdjust="spacingAndGlyphs" transform="rotate(-45 89.78 473.60)" stroke="#333" stroke-width="0.12">0,4</text>
<line x1="96.65" y1="464.40" x2="96.65" y2="467.00" stroke="#111" stroke-width="0.9"/>
<text x="99.25" y="473.60" font-size="6.4" fill="#333" text-anchor="end" textLength="2.95" lengthAdjust="spacingAndGlyphs" transform="rotate(-45 99.25 473.60)" stroke="#333" stroke-width="0.12">2</text>
<line x1="106.12" y1="464.40" x2="106.12" y2="467.00" stroke="#111" stroke-width="0.9"/>
<text x="108.72" y="473.60" font-size="6.4" fill="#333" text-anchor="end" textLength="5.90" lengthAdjust="spacingAndGlyphs" transform="rotate(-45 108.72 473.60)" stroke="#333" stroke-width="0.12">10</text>
<text x="25.50" y="430.00" font-size="7.8" fill="#333" text-anchor="middle" textLength="41.80" lengthAdjust="spacingAndGlyphs" transform="rotate(-90 25.50 430.00)" stroke="#333" stroke-width="0.12">Elimination %</text>
<text x="78.00" y="497.60" font-size="8.2" text-anchor="middle" textLength="51.70" lengthAdjust="spacingAndGlyphs">Rituximab µg/mL</text>
<line x1="49.30" y1="453.77" x2="49.30" y2="427.19" stroke="#4a4a4a" stroke-width="0.65" stroke-dasharray="2.2 0.7"/>
<line x1="58.77" y1="444.91" x2="58.77" y2="423.64" stroke="#4a4a4a" stroke-width="0.65" stroke-dasharray="2.2 0.7"/>
<line x1="68.24" y1="437.82" x2="68.24" y2="417.44" stroke="#4a4a4a" stroke-width="0.65" stroke-dasharray="2.2 0.7"/>
<line x1="77.71" y1="427.19" x2="77.71" y2="407.70" stroke="#4a4a4a" stroke-width="0.65" stroke-dasharray="2.2 0.7"/>
<line x1="87.18" y1="420.99" x2="87.18" y2="409.47" stroke="#4a4a4a" stroke-width="0.65" stroke-dasharray="2.2 0.7"/>
<line x1="96.65" y1="427.19" x2="96.65" y2="406.81" stroke="#4a4a4a" stroke-width="0.65" stroke-dasharray="2.2 0.7"/>
<line x1="106.12" y1="428.96" x2="106.12" y2="400.61" stroke="#4a4a4a" stroke-width="0.65" stroke-dasharray="2.2 0.7"/>
<line x1="49.30" y1="464.40" x2="49.30" y2="456.87" stroke="#de6a84" stroke-width="0.75"/>
<line x1="48.40" y1="456.87" x2="50.20" y2="456.87" stroke="#de6a84" stroke-width="0.6"/>
<line x1="58.77" y1="464.40" x2="58.77" y2="452.88" stroke="#de6a84" stroke-width="0.75"/>
<line x1="57.87" y1="452.88" x2="59.67" y2="452.88" stroke="#de6a84" stroke-width="0.6"/>
<line x1="68.24" y1="464.40" x2="68.24" y2="454.65" stroke="#de6a84" stroke-width="0.75"/>
<line x1="67.34" y1="454.65" x2="69.14" y2="454.65" stroke="#de6a84" stroke-width="0.6"/>
<line x1="77.71" y1="464.40" x2="77.71" y2="444.02" stroke="#de6a84" stroke-width="0.75"/>
<line x1="76.81" y1="444.02" x2="78.61" y2="444.02" stroke="#de6a84" stroke-width="0.6"/>
<line x1="87.18" y1="464.40" x2="87.18" y2="445.79" stroke="#de6a84" stroke-width="0.75"/>
<line x1="86.28" y1="445.79" x2="88.08" y2="445.79" stroke="#de6a84" stroke-width="0.6"/>
<line x1="96.65" y1="464.40" x2="96.65" y2="447.92" stroke="#de6a84" stroke-width="0.75"/>
<line x1="95.75" y1="447.92" x2="97.55" y2="447.92" stroke="#de6a84" stroke-width="0.6"/>
<line x1="106.12" y1="464.40" x2="106.12" y2="450.93" stroke="#de6a84" stroke-width="0.75"/>
<line x1="105.22" y1="450.93" x2="107.02" y2="450.93" stroke="#de6a84" stroke-width="0.6"/>
<polyline points="49.30,460.41 58.77,459.26 68.24,458.64 77.71,456.16 87.18,457.05 96.65,457.05 106.12,458.38" fill="none" stroke="#d8203f" stroke-width="1.2"/>
<polyline points="49.30,444.91 58.77,436.05 68.24,429.85 77.71,419.21 87.18,415.23 96.65,415.67 106.12,414.78" fill="none" stroke="#5cb85c" stroke-width="1.1"/>
<polyline points="49.30,439.59 58.77,433.39 68.24,427.19 77.71,418.33 87.18,416.11 96.65,416.11 106.12,413.90" fill="none" stroke="#2d6193" stroke-width="1.2"/>
<polyline points="49.30,440.48 58.77,433.83 68.24,427.63 77.71,417.88 87.18,417.88 96.65,420.99 106.12,414.78" fill="none" stroke="#1d2b2b" stroke-width="1.3"/>
<line x1="140.40" y1="395.40" x2="140.40" y2="464.90" stroke="#111" stroke-width="1.1"/>
<line x1="139.90" y1="464.40" x2="205.90" y2="464.40" stroke="#111" stroke-width="1.1"/>
<line x1="137.60" y1="464.40" x2="140.40" y2="464.40" stroke="#111" stroke-width="0.9"/>
<text x="133.60" y="467.10" font-size="6.8" fill="#333" text-anchor="end" textLength="3.30" lengthAdjust="spacingAndGlyphs" stroke="#333" stroke-width="0.12">0</text>
<line x1="137.60" y1="451.11" x2="140.40" y2="451.11" stroke="#111" stroke-width="0.9"/>
<text x="133.60" y="453.81" font-size="6.8" fill="#333" text-anchor="end" textLength="6.60" lengthAdjust="spacingAndGlyphs" stroke="#333" stroke-width="0.12">15</text>
<line x1="137.60" y1="437.82" x2="140.40" y2="437.82" stroke="#111" stroke-width="0.9"/>
<text x="133.60" y="440.52" font-size="6.8" fill="#333" text-anchor="end" textLength="6.60" lengthAdjust="spacingAndGlyphs" stroke="#333" stroke-width="0.12">30</text>
<line x1="137.60" y1="424.53" x2="140.40" y2="424.53" stroke="#111" stroke-width="0.9"/>
<text x="133.60" y="427.23" font-size="6.8" fill="#333" text-anchor="end" textLength="6.60" lengthAdjust="spacingAndGlyphs" stroke="#333" stroke-width="0.12">45</text>
<line x1="137.60" y1="411.24" x2="140.40" y2="411.24" stroke="#111" stroke-width="0.9"/>
<text x="133.60" y="413.94" font-size="6.8" fill="#333" text-anchor="end" textLength="6.60" lengthAdjust="spacingAndGlyphs" stroke="#333" stroke-width="0.12">60</text>
<line x1="137.60" y1="397.95" x2="140.40" y2="397.95" stroke="#111" stroke-width="0.9"/>
<text x="133.60" y="400.65" font-size="6.8" fill="#333" text-anchor="end" textLength="6.60" lengthAdjust="spacingAndGlyphs" stroke="#333" stroke-width="0.12">75</text>
<line x1="144.90" y1="464.40" x2="144.90" y2="467.00" stroke="#111" stroke-width="0.9"/>
<text x="147.50" y="473.60" font-size="6.4" fill="#333" text-anchor="end" textLength="2.95" lengthAdjust="spacingAndGlyphs" transform="rotate(-45 147.50 473.60)" stroke="#333" stroke-width="0.12">0</text>
<line x1="154.37" y1="464.40" x2="154.37" y2="467.00" stroke="#111" stroke-width="0.9"/>
<text x="156.97" y="473.60" font-size="6.4" fill="#333" text-anchor="end" textLength="17.70" lengthAdjust="spacingAndGlyphs" transform="rotate(-45 156.97 473.60)" stroke="#333" stroke-width="0.12">0,0032</text>
<line x1="163.84" y1="464.40" x2="163.84" y2="467.00" stroke="#111" stroke-width="0.9"/>
<text x="166.44" y="473.60" font-size="6.4" fill="#333" text-anchor="end" textLength="14.75" lengthAdjust="spacingAndGlyphs" transform="rotate(-45 166.44 473.60)" stroke="#333" stroke-width="0.12">0,016</text>
<line x1="173.31" y1="464.40" x2="173.31" y2="467.00" stroke="#111" stroke-width="0.9"/>
<text x="175.91" y="473.60" font-size="6.4" fill="#333" text-anchor="end" textLength="11.80" lengthAdjust="spacingAndGlyphs" transform="rotate(-45 175.91 473.60)" stroke="#333" stroke-width="0.12">0,08</text>
<line x1="182.78" y1="464.40" x2="182.78" y2="467.00" stroke="#111" stroke-width="0.9"/>
<text x="185.38" y="473.60" font-size="6.4" fill="#333" text-anchor="end" textLength="8.85" lengthAdjust="spacingAndGlyphs" transform="rotate(-45 185.38 473.60)" stroke="#333" stroke-width="0.12">0,4</text>
<line x1="192.25" y1="464.40" x2="192.25" y2="467.00" stroke="#111" stroke-width="0.9"/>
<text x="194.85" y="473.60" font-size="6.4" fill="#333" text-anchor="end" textLength="2.95" lengthAdjust="spacingAndGlyphs" transform="rotate(-45 194.85 473.60)" stroke="#333" stroke-width="0.12">2</text>
<line x1="201.72" y1="464.40" x2="201.72" y2="467.00" stroke="#111" stroke-width="0.9"/>
<text x="204.32" y="473.60" font-size="6.4" fill="#333" text-anchor="end" textLength="5.90" lengthAdjust="spacingAndGlyphs" transform="rotate(-45 204.32 473.60)" stroke="#333" stroke-width="0.12">10</text>
<text x="121.10" y="430.00" font-size="7.8" fill="#333" text-anchor="middle" textLength="41.80" lengthAdjust="spacingAndGlyphs" transform="rotate(-90 121.10 430.00)" stroke="#333" stroke-width="0.12">Elimination %</text>
<text x="177.00" y="497.60" font-size="8.2" text-anchor="middle" textLength="30.20" lengthAdjust="spacingAndGlyphs">bGal µg/mL</text>
<line x1="144.90" y1="464.40" x2="144.90" y2="431.62" stroke="#4a4a4a" stroke-width="0.65" stroke-dasharray="2.2 0.7"/>
<line x1="154.37" y1="464.40" x2="154.37" y2="431.62" stroke="#4a4a4a" stroke-width="0.65" stroke-dasharray="2.2 0.7"/>
<line x1="163.84" y1="464.40" x2="163.84" y2="432.50" stroke="#4a4a4a" stroke-width="0.65" stroke-dasharray="2.2 0.7"/>
<line x1="173.31" y1="464.40" x2="173.31" y2="429.85" stroke="#4a4a4a" stroke-width="0.65" stroke-dasharray="2.2 0.7"/>
<line x1="182.78" y1="464.40" x2="182.78" y2="431.62" stroke="#4a4a4a" stroke-width="0.65" stroke-dasharray="2.2 0.7"/>
<line x1="192.25" y1="464.40" x2="192.25" y2="429.85" stroke="#4a4a4a" stroke-width="0.65" stroke-dasharray="2.2 0.7"/>
<line x1="201.72" y1="464.40" x2="201.72" y2="433.39" stroke="#4a4a4a" stroke-width="0.65" stroke-dasharray="2.2 0.7"/>
<line x1="144.90" y1="464.40" x2="144.90" y2="459.97" stroke="#de6a84" stroke-width="0.75"/>
<line x1="144.00" y1="459.97" x2="145.80" y2="459.97" stroke="#de6a84" stroke-width="0.6"/>
<line x1="154.37" y1="464.40" x2="154.37" y2="460.86" stroke="#de6a84" stroke-width="0.75"/>
<line x1="153.47" y1="460.86" x2="155.27" y2="460.86" stroke="#de6a84" stroke-width="0.6"/>
<line x1="163.84" y1="464.40" x2="163.84" y2="460.86" stroke="#de6a84" stroke-width="0.75"/>
<line x1="162.94" y1="460.86" x2="164.74" y2="460.86" stroke="#de6a84" stroke-width="0.6"/>
<line x1="173.31" y1="464.40" x2="173.31" y2="452.00" stroke="#de6a84" stroke-width="0.75"/>
<line x1="172.41" y1="452.00" x2="174.21" y2="452.00" stroke="#de6a84" stroke-width="0.6"/>
<line x1="182.78" y1="464.40" x2="182.78" y2="456.43" stroke="#de6a84" stroke-width="0.75"/>
<line x1="181.88" y1="456.43" x2="183.68" y2="456.43" stroke="#de6a84" stroke-width="0.6"/>
<line x1="192.25" y1="464.40" x2="192.25" y2="454.65" stroke="#de6a84" stroke-width="0.75"/>
<line x1="191.35" y1="454.65" x2="193.15" y2="454.65" stroke="#de6a84" stroke-width="0.6"/>
<line x1="201.72" y1="464.40" x2="201.72" y2="455.54" stroke="#de6a84" stroke-width="0.75"/>
<line x1="200.82" y1="455.54" x2="202.62" y2="455.54" stroke="#de6a84" stroke-width="0.6"/>
<polyline points="144.90,460.86 154.37,461.74 163.84,461.74 173.31,454.65 182.78,458.20 192.25,456.43 201.72,457.31" fill="none" stroke="#d8203f" stroke-width="1.2"/>
<polyline points="144.90,450.22 154.37,446.68 163.84,448.45 173.31,445.79 182.78,445.79 192.25,447.57 201.72,453.77" fill="none" stroke="#5cb85c" stroke-width="1.1"/>
<polyline points="144.90,444.02 154.37,444.91 163.84,442.25 173.31,442.25 182.78,439.15 192.25,439.15 201.72,445.79" fill="none" stroke="#2d6193" stroke-width="1.2"/>
<polyline points="144.90,444.91 154.37,445.79 163.84,442.25 173.31,442.25 182.78,443.14 192.25,440.48 201.72,445.79" fill="none" stroke="#1d2b2b" stroke-width="1.3"/>
<line x1="67.00" y1="510.80" x2="77.30" y2="510.80" stroke="#1d2b2b" stroke-width="1.1"/>
<text x="80.80" y="512.80" font-size="6.6" font-style="italic" textLength="24" lengthAdjust="spacingAndGlyphs" stroke="#222" stroke-width="0.12">mock-E<tspan font-size="4.2" dy="-2.31">+</tspan></text>
<line x1="67.00" y1="520.40" x2="77.30" y2="520.40" stroke="#2d6193" stroke-width="1.1"/>
<text x="80.80" y="522.50" font-size="6.6" fill="#2d6193" font-style="italic" textLength="27.00" lengthAdjust="spacingAndGlyphs" stroke="#2d6193" stroke-width="0.12">CD3ζ KO</text>
<line x1="116.60" y1="510.80" x2="127.00" y2="510.80" stroke="#5cb85c" stroke-width="1.1"/>
<text x="130.60" y="512.80" font-size="6.6" fill="#6cbc64" font-style="italic" textLength="38.00" lengthAdjust="spacingAndGlyphs" stroke="#6cbc64" stroke-width="0.12">CD3ζ GFP KI</text>
<line x1="116.60" y1="520.40" x2="127.00" y2="520.40" stroke="#d8203f" stroke-width="1.1"/>
<text x="130.60" y="522.50" font-size="6.6" fill="#d8203f" font-style="italic" textLength="46.00" lengthAdjust="spacingAndGlyphs" stroke="#d8203f" stroke-width="0.12">no effector cells</text>
<text x="216.00" y="197.80" font-size="11.8" fill="#111" font-weight="bold" textLength="8.00" lengthAdjust="spacingAndGlyphs" stroke="#111" stroke-width="0.35">D</text>
<circle cx="278.7" cy="224.7" r="16.2" fill="none" stroke="#c9c3f6" stroke-width="5" opacity="0.4" filter="url(#blur1)"/>
<circle cx="278.7" cy="224.7" r="14.2" fill="#c6c2ef" stroke="#918ec9" stroke-width="1"/>
<circle cx="278.7" cy="224.7" r="12.2" fill="none" stroke="#aaa6e0" stroke-width="1.6" stroke-dasharray="0.7 1.4" opacity="0.55"/>
<ellipse cx="280.3" cy="227.0" rx="9.4" ry="8.0" fill="#a092da" filter="url(#blur06)" transform="rotate(-10 280.3 227.0)"/>
<circle cx="410.3" cy="226.1" r="16.2" fill="none" stroke="#cfe9c7" stroke-width="5" opacity="0.4" filter="url(#blur1)"/>
<circle cx="410.3" cy="226.1" r="14.2" fill="#e3f1de" stroke="#a3bb9c" stroke-width="1"/>
<circle cx="410.3" cy="226.1" r="12.2" fill="none" stroke="#cde2c6" stroke-width="1.6" stroke-dasharray="0.7 1.4" opacity="0.55"/>
<ellipse cx="412.0" cy="227.6" rx="9.4" ry="7.2" fill="#c2e2b8" filter="url(#blur06)" transform="rotate(-25 412.0 227.6)"/>
<text x="279.00" y="255.20" font-size="7.2" text-anchor="middle" textLength="20.00" lengthAdjust="spacingAndGlyphs" stroke="#222" stroke-width="0.12">NK-92</text>
<line x1="252.30" y1="259.70" x2="304.60" y2="259.70" stroke="#8c8c8c" stroke-width="1.3"/>
<text x="414.20" y="255.00" font-size="6.8" text-anchor="middle" textLength="46.50" lengthAdjust="spacingAndGlyphs" stroke="#222" stroke-width="0.12">primary NK cells</text>
<line x1="321.00" y1="259.70" x2="507.30" y2="259.70" stroke="#8c8c8c" stroke-width="1.3"/>
<text x="278.20" y="270.50" font-size="6.6" text-anchor="middle" textLength="27.00" lengthAdjust="spacingAndGlyphs" stroke="#222" stroke-width="0.12">wild-type</text>
<text x="346.40" y="270.30" font-size="6.6" text-anchor="middle" textLength="23" lengthAdjust="spacingAndGlyphs" stroke="#222" stroke-width="0.12">mock-E<tspan font-size="4.2" dy="-2.31">+</tspan></text>
<text x="414.40" y="270.30" font-size="6.6" text-anchor="middle" textLength="26.50" lengthAdjust="spacingAndGlyphs" stroke="#222" stroke-width="0.12"><tspan font-style="italic">CD3ζ</tspan> KO</text>
<text x="481.30" y="270.30" font-size="6.6" text-anchor="middle" textLength="37.00" lengthAdjust="spacingAndGlyphs" stroke="#222" stroke-width="0.12"><tspan font-style="italic">CD3ζ</tspan> KI GFP</text>
<rect x="253.70" y="274.40" width="50.40" height="56.20" fill="none" stroke="#c4c4c4" stroke-width="0.6"/>
<line x1="253.70" y1="274.40" x2="253.70" y2="330.60" stroke="#9a9a9a" stroke-width="0.6"/>
<line x1="253.70" y1="330.60" x2="304.10" y2="330.60" stroke="#9a9a9a" stroke-width="0.6"/>
<rect x="253.70" y="354.40" width="50.40" height="56.20" fill="none" stroke="#c4c4c4" stroke-width="0.6"/>
<line x1="253.70" y1="354.40" x2="253.70" y2="410.60" stroke="#9a9a9a" stroke-width="0.6"/>
<line x1="253.70" y1="410.60" x2="304.10" y2="410.60" stroke="#9a9a9a" stroke-width="0.6"/>
<rect x="253.70" y="434.40" width="50.40" height="56.20" fill="none" stroke="#c4c4c4" stroke-width="0.6"/>
<line x1="253.70" y1="434.40" x2="253.70" y2="490.60" stroke="#9a9a9a" stroke-width="0.6"/>
<line x1="253.70" y1="490.60" x2="304.10" y2="490.60" stroke="#9a9a9a" stroke-width="0.6"/>
<line x1="251.90" y1="278.70" x2="253.70" y2="278.70" stroke="#555" stroke-width="0.6"/>
<text x="251.10" y="280.70" font-size="4.6" fill="#5a5a5a" text-anchor="end" textLength="9.60" lengthAdjust="spacingAndGlyphs" stroke="#5a5a5a" stroke-width="0.12">3,0M</text>
<line x1="251.90" y1="288.28" x2="253.70" y2="288.28" stroke="#555" stroke-width="0.6"/>
<text x="251.10" y="290.28" font-size="4.6" fill="#5a5a5a" text-anchor="end" textLength="9.60" lengthAdjust="spacingAndGlyphs" stroke="#5a5a5a" stroke-width="0.12">2,5M</text>
<line x1="251.90" y1="297.86" x2="253.70" y2="297.86" stroke="#555" stroke-width="0.6"/>
<text x="251.10" y="299.86" font-size="4.6" fill="#5a5a5a" text-anchor="end" textLength="9.60" lengthAdjust="spacingAndGlyphs" stroke="#5a5a5a" stroke-width="0.12">2,0M</text>
<line x1="251.90" y1="307.44" x2="253.70" y2="307.44" stroke="#555" stroke-width="0.6"/>
<text x="251.10" y="309.44" font-size="4.6" fill="#5a5a5a" text-anchor="end" textLength="9.60" lengthAdjust="spacingAndGlyphs" stroke="#5a5a5a" stroke-width="0.12">1,5M</text>
<line x1="251.90" y1="317.02" x2="253.70" y2="317.02" stroke="#555" stroke-width="0.6"/>
<text x="251.10" y="319.02" font-size="4.6" fill="#5a5a5a" text-anchor="end" textLength="9.60" lengthAdjust="spacingAndGlyphs" stroke="#5a5a5a" stroke-width="0.12">1,0M</text>
<line x1="251.90" y1="326.60" x2="253.70" y2="326.60" stroke="#555" stroke-width="0.6"/>
<text x="251.10" y="328.60" font-size="4.6" fill="#5a5a5a" text-anchor="end" textLength="9.60" lengthAdjust="spacingAndGlyphs" stroke="#5a5a5a" stroke-width="0.12">500K</text>
<line x1="251.90" y1="358.70" x2="253.70" y2="358.70" stroke="#555" stroke-width="0.6"/>
<text x="251.10" y="360.70" font-size="4.6" fill="#5a5a5a" text-anchor="end" textLength="9.60" lengthAdjust="spacingAndGlyphs" stroke="#5a5a5a" stroke-width="0.12">3,0M</text>
<line x1="251.90" y1="368.28" x2="253.70" y2="368.28" stroke="#555" stroke-width="0.6"/>
<text x="251.10" y="370.28" font-size="4.6" fill="#5a5a5a" text-anchor="end" textLength="9.60" lengthAdjust="spacingAndGlyphs" stroke="#5a5a5a" stroke-width="0.12">2,5M</text>
<line x1="251.90" y1="377.86" x2="253.70" y2="377.86" stroke="#555" stroke-width="0.6"/>
<text x="251.10" y="379.86" font-size="4.6" fill="#5a5a5a" text-anchor="end" textLength="9.60" lengthAdjust="spacingAndGlyphs" stroke="#5a5a5a" stroke-width="0.12">2,0M</text>
<line x1="251.90" y1="387.44" x2="253.70" y2="387.44" stroke="#555" stroke-width="0.6"/>
<text x="251.10" y="389.44" font-size="4.6" fill="#5a5a5a" text-anchor="end" textLength="9.60" lengthAdjust="spacingAndGlyphs" stroke="#5a5a5a" stroke-width="0.12">1,5M</text>
<line x1="251.90" y1="397.02" x2="253.70" y2="397.02" stroke="#555" stroke-width="0.6"/>
<text x="251.10" y="399.02" font-size="4.6" fill="#5a5a5a" text-anchor="end" textLength="9.60" lengthAdjust="spacingAndGlyphs" stroke="#5a5a5a" stroke-width="0.12">1,0M</text>
<line x1="251.90" y1="406.60" x2="253.70" y2="406.60" stroke="#555" stroke-width="0.6"/>
<text x="251.10" y="408.60" font-size="4.6" fill="#5a5a5a" text-anchor="end" textLength="9.60" lengthAdjust="spacingAndGlyphs" stroke="#5a5a5a" stroke-width="0.12">500K</text>
<line x1="251.90" y1="434.40" x2="253.70" y2="434.40" stroke="#555" stroke-width="0.6"/>
<text x="251.10" y="436.40" font-size="4.6" fill="#5a5a5a" text-anchor="end" textLength="9.60" lengthAdjust="spacingAndGlyphs" stroke="#5a5a5a" stroke-width="0.12">2,0M</text>
<line x1="251.90" y1="448.50" x2="253.70" y2="448.50" stroke="#555" stroke-width="0.6"/>
<text x="251.10" y="450.50" font-size="4.6" fill="#5a5a5a" text-anchor="end" textLength="9.60" lengthAdjust="spacingAndGlyphs" stroke="#5a5a5a" stroke-width="0.12">1,5M</text>
<line x1="251.90" y1="462.40" x2="253.70" y2="462.40" stroke="#555" stroke-width="0.6"/>
<text x="251.10" y="464.40" font-size="4.6" fill="#5a5a5a" text-anchor="end" textLength="9.60" lengthAdjust="spacingAndGlyphs" stroke="#5a5a5a" stroke-width="0.12">1,0M</text>
<line x1="251.90" y1="476.40" x2="253.70" y2="476.40" stroke="#555" stroke-width="0.6"/>
<text x="251.10" y="478.40" font-size="4.6" fill="#5a5a5a" text-anchor="end" textLength="9.60" lengthAdjust="spacingAndGlyphs" stroke="#5a5a5a" stroke-width="0.12">500K</text>
<line x1="251.90" y1="490.30" x2="253.70" y2="490.30" stroke="#555" stroke-width="0.6"/>
<text x="251.10" y="492.30" font-size="4.6" fill="#5a5a5a" text-anchor="end" textLength="2.40" lengthAdjust="spacingAndGlyphs" stroke="#5a5a5a" stroke-width="0.12">0</text>
<text x="262.00" y="339.00" font-size="4.8" fill="#555" text-anchor="middle" stroke="#555" stroke-width="0.12">0</text>
<text x="276.50" y="339.00" font-size="4.8" fill="#555" text-anchor="middle" textLength="5.4" lengthAdjust="spacingAndGlyphs" stroke="#555" stroke-width="0.12">10<tspan font-size="3" dy="-1.65">4</tspan></text>
<text x="285.50" y="339.00" font-size="4.8" fill="#555" text-anchor="middle" textLength="5.4" lengthAdjust="spacingAndGlyphs" stroke="#555" stroke-width="0.12">10<tspan font-size="3" dy="-1.65">5</tspan></text>
<text x="294.30" y="339.00" font-size="4.8" fill="#555" text-anchor="middle" textLength="5.4" lengthAdjust="spacingAndGlyphs" stroke="#555" stroke-width="0.12">10<tspan font-size="3" dy="-1.65">6</tspan></text>
<text x="301.70" y="339.00" font-size="4.8" fill="#555" text-anchor="middle" textLength="5.4" lengthAdjust="spacingAndGlyphs" stroke="#555" stroke-width="0.12">10<tspan font-size="3" dy="-1.65">7</tspan></text>
<rect x="260.90" y="330.20" width="2.2" height="1.2" fill="#111"/>
<text x="256.60" y="418.40" font-size="4.8" fill="#555" text-anchor="middle" stroke="#555" stroke-width="0.12">-10<tspan font-size="3" dy="-1.65">3</tspan></text>
<text x="265.80" y="418.40" font-size="4.8" fill="#555" text-anchor="middle" stroke="#555" stroke-width="0.12">0</text>
<text x="273.70" y="418.40" font-size="4.8" fill="#555" text-anchor="middle" stroke="#555" stroke-width="0.12">10<tspan font-size="3" dy="-1.65">3</tspan></text>
<text x="287.90" y="418.40" font-size="4.8" fill="#555" text-anchor="middle" stroke="#555" stroke-width="0.12">10<tspan font-size="3" dy="-1.65">4</tspan></text>
<text x="299.60" y="418.40" font-size="4.8" fill="#555" text-anchor="middle" stroke="#555" stroke-width="0.12">10<tspan font-size="3" dy="-1.65">5</tspan></text>
<rect x="264.70" y="410.20" width="2.2" height="1.2" fill="#111"/>
<text x="258.90" y="498.20" font-size="4.8" fill="#555" text-anchor="middle" stroke="#555" stroke-width="0.12">10<tspan font-size="3" dy="-1.65">4</tspan></text>
<text x="278.10" y="498.20" font-size="4.8" fill="#555" text-anchor="middle" stroke="#555" stroke-width="0.12">10<tspan font-size="3" dy="-1.65">5</tspan></text>
<text x="298.00" y="498.20" font-size="4.8" fill="#555" text-anchor="middle" stroke="#555" stroke-width="0.12">10<tspan font-size="3" dy="-1.65">6</tspan></text>
<rect x="321.60" y="274.40" width="50.40" height="56.20" fill="none" stroke="#c4c4c4" stroke-width="0.6"/>
<line x1="321.60" y1="274.40" x2="321.60" y2="330.60" stroke="#9a9a9a" stroke-width="0.6"/>
<line x1="321.60" y1="330.60" x2="372.00" y2="330.60" stroke="#9a9a9a" stroke-width="0.6"/>
<rect x="321.60" y="354.40" width="50.40" height="56.20" fill="none" stroke="#c4c4c4" stroke-width="0.6"/>
<line x1="321.60" y1="354.40" x2="321.60" y2="410.60" stroke="#9a9a9a" stroke-width="0.6"/>
<line x1="321.60" y1="410.60" x2="372.00" y2="410.60" stroke="#9a9a9a" stroke-width="0.6"/>
<rect x="321.60" y="434.40" width="50.40" height="56.20" fill="none" stroke="#c4c4c4" stroke-width="0.6"/>
<line x1="321.60" y1="434.40" x2="321.60" y2="490.60" stroke="#9a9a9a" stroke-width="0.6"/>
<line x1="321.60" y1="490.60" x2="372.00" y2="490.60" stroke="#9a9a9a" stroke-width="0.6"/>
<line x1="319.80" y1="278.70" x2="321.60" y2="278.70" stroke="#555" stroke-width="0.6"/>
<text x="319.00" y="280.70" font-size="4.6" fill="#5a5a5a" text-anchor="end" textLength="9.60" lengthAdjust="spacingAndGlyphs" stroke="#5a5a5a" stroke-width="0.12">3,0M</text>
<line x1="319.80" y1="288.28" x2="321.60" y2="288.28" stroke="#555" stroke-width="0.6"/>
<text x="319.00" y="290.28" font-size="4.6" fill="#5a5a5a" text-anchor="end" textLength="9.60" lengthAdjust="spacingAndGlyphs" stroke="#5a5a5a" stroke-width="0.12">2,5M</text>
<line x1="319.80" y1="297.86" x2="321.60" y2="297.86" stroke="#555" stroke-width="0.6"/>
<text x="319.00" y="299.86" font-size="4.6" fill="#5a5a5a" text-anchor="end" textLength="9.60" lengthAdjust="spacingAndGlyphs" stroke="#5a5a5a" stroke-width="0.12">2,0M</text>
<line x1="319.80" y1="307.44" x2="321.60" y2="307.44" stroke="#555" stroke-width="0.6"/>
<text x="319.00" y="309.44" font-size="4.6" fill="#5a5a5a" text-anchor="end" textLength="9.60" lengthAdjust="spacingAndGlyphs" stroke="#5a5a5a" stroke-width="0.12">1,5M</text>
<line x1="319.80" y1="317.02" x2="321.60" y2="317.02" stroke="#555" stroke-width="0.6"/>
<text x="319.00" y="319.02" font-size="4.6" fill="#5a5a5a" text-anchor="end" textLength="9.60" lengthAdjust="spacingAndGlyphs" stroke="#5a5a5a" stroke-width="0.12">1,0M</text>
<line x1="319.80" y1="326.60" x2="321.60" y2="326.60" stroke="#555" stroke-width="0.6"/>
<text x="319.00" y="328.60" font-size="4.6" fill="#5a5a5a" text-anchor="end" textLength="9.60" lengthAdjust="spacingAndGlyphs" stroke="#5a5a5a" stroke-width="0.12">500K</text>
<line x1="319.80" y1="358.70" x2="321.60" y2="358.70" stroke="#555" stroke-width="0.6"/>
<text x="319.00" y="360.70" font-size="4.6" fill="#5a5a5a" text-anchor="end" textLength="9.60" lengthAdjust="spacingAndGlyphs" stroke="#5a5a5a" stroke-width="0.12">3,0M</text>
<line x1="319.80" y1="368.28" x2="321.60" y2="368.28" stroke="#555" stroke-width="0.6"/>
<text x="319.00" y="370.28" font-size="4.6" fill="#5a5a5a" text-anchor="end" textLength="9.60" lengthAdjust="spacingAndGlyphs" stroke="#5a5a5a" stroke-width="0.12">2,5M</text>
<line x1="319.80" y1="377.86" x2="321.60" y2="377.86" stroke="#555" stroke-width="0.6"/>
<text x="319.00" y="379.86" font-size="4.6" fill="#5a5a5a" text-anchor="end" textLength="9.60" lengthAdjust="spacingAndGlyphs" stroke="#5a5a5a" stroke-width="0.12">2,0M</text>
<line x1="319.80" y1="387.44" x2="321.60" y2="387.44" stroke="#555" stroke-width="0.6"/>
<text x="319.00" y="389.44" font-size="4.6" fill="#5a5a5a" text-anchor="end" textLength="9.60" lengthAdjust="spacingAndGlyphs" stroke="#5a5a5a" stroke-width="0.12">1,5M</text>
<line x1="319.80" y1="397.02" x2="321.60" y2="397.02" stroke="#555" stroke-width="0.6"/>
<text x="319.00" y="399.02" font-size="4.6" fill="#5a5a5a" text-anchor="end" textLength="9.60" lengthAdjust="spacingAndGlyphs" stroke="#5a5a5a" stroke-width="0.12">1,0M</text>
<line x1="319.80" y1="406.60" x2="321.60" y2="406.60" stroke="#555" stroke-width="0.6"/>
<text x="319.00" y="408.60" font-size="4.6" fill="#5a5a5a" text-anchor="end" textLength="9.60" lengthAdjust="spacingAndGlyphs" stroke="#5a5a5a" stroke-width="0.12">500K</text>
<line x1="319.80" y1="434.40" x2="321.60" y2="434.40" stroke="#555" stroke-width="0.6"/>
<text x="319.00" y="436.40" font-size="4.6" fill="#5a5a5a" text-anchor="end" textLength="9.60" lengthAdjust="spacingAndGlyphs" stroke="#5a5a5a" stroke-width="0.12">2,0M</text>
<line x1="319.80" y1="448.50" x2="321.60" y2="448.50" stroke="#555" stroke-width="0.6"/>
<text x="319.00" y="450.50" font-size="4.6" fill="#5a5a5a" text-anchor="end" textLength="9.60" lengthAdjust="spacingAndGlyphs" stroke="#5a5a5a" stroke-width="0.12">1,5M</text>
<line x1="319.80" y1="462.40" x2="321.60" y2="462.40" stroke="#555" stroke-width="0.6"/>
<text x="319.00" y="464.40" font-size="4.6" fill="#5a5a5a" text-anchor="end" textLength="9.60" lengthAdjust="spacingAndGlyphs" stroke="#5a5a5a" stroke-width="0.12">1,0M</text>
<line x1="319.80" y1="476.40" x2="321.60" y2="476.40" stroke="#555" stroke-width="0.6"/>
<text x="319.00" y="478.40" font-size="4.6" fill="#5a5a5a" text-anchor="end" textLength="9.60" lengthAdjust="spacingAndGlyphs" stroke="#5a5a5a" stroke-width="0.12">500K</text>
<line x1="319.80" y1="490.30" x2="321.60" y2="490.30" stroke="#555" stroke-width="0.6"/>
<text x="319.00" y="492.30" font-size="4.6" fill="#5a5a5a" text-anchor="end" textLength="2.40" lengthAdjust="spacingAndGlyphs" stroke="#5a5a5a" stroke-width="0.12">0</text>
<text x="329.90" y="339.00" font-size="4.8" fill="#555" text-anchor="middle" stroke="#555" stroke-width="0.12">0</text>
<text x="344.40" y="339.00" font-size="4.8" fill="#555" text-anchor="middle" textLength="5.4" lengthAdjust="spacingAndGlyphs" stroke="#555" stroke-width="0.12">10<tspan font-size="3" dy="-1.65">4</tspan></text>
<text x="353.40" y="339.00" font-size="4.8" fill="#555" text-anchor="middle" textLength="5.4" lengthAdjust="spacingAndGlyphs" stroke="#555" stroke-width="0.12">10<tspan font-size="3" dy="-1.65">5</tspan></text>
<text x="362.20" y="339.00" font-size="4.8" fill="#555" text-anchor="middle" textLength="5.4" lengthAdjust="spacingAndGlyphs" stroke="#555" stroke-width="0.12">10<tspan font-size="3" dy="-1.65">6</tspan></text>
<text x="369.60" y="339.00" font-size="4.8" fill="#555" text-anchor="middle" textLength="5.4" lengthAdjust="spacingAndGlyphs" stroke="#555" stroke-width="0.12">10<tspan font-size="3" dy="-1.65">7</tspan></text>
<rect x="328.80" y="330.20" width="2.2" height="1.2" fill="#111"/>
<text x="324.50" y="418.40" font-size="4.8" fill="#555" text-anchor="middle" stroke="#555" stroke-width="0.12">-10<tspan font-size="3" dy="-1.65">3</tspan></text>
<text x="333.70" y="418.40" font-size="4.8" fill="#555" text-anchor="middle" stroke="#555" stroke-width="0.12">0</text>
<text x="341.60" y="418.40" font-size="4.8" fill="#555" text-anchor="middle" stroke="#555" stroke-width="0.12">10<tspan font-size="3" dy="-1.65">3</tspan></text>
<text x="355.80" y="418.40" font-size="4.8" fill="#555" text-anchor="middle" stroke="#555" stroke-width="0.12">10<tspan font-size="3" dy="-1.65">4</tspan></text>
<text x="367.50" y="418.40" font-size="4.8" fill="#555" text-anchor="middle" stroke="#555" stroke-width="0.12">10<tspan font-size="3" dy="-1.65">5</tspan></text>
<rect x="332.60" y="410.20" width="2.2" height="1.2" fill="#111"/>
<text x="326.80" y="498.20" font-size="4.8" fill="#555" text-anchor="middle" stroke="#555" stroke-width="0.12">10<tspan font-size="3" dy="-1.65">4</tspan></text>
<text x="346.00" y="498.20" font-size="4.8" fill="#555" text-anchor="middle" stroke="#555" stroke-width="0.12">10<tspan font-size="3" dy="-1.65">5</tspan></text>
<text x="365.90" y="498.20" font-size="4.8" fill="#555" text-anchor="middle" stroke="#555" stroke-width="0.12">10<tspan font-size="3" dy="-1.65">6</tspan></text>
<rect x="389.70" y="274.40" width="50.40" height="56.20" fill="none" stroke="#c4c4c4" stroke-width="0.6"/>
<line x1="389.70" y1="274.40" x2="389.70" y2="330.60" stroke="#9a9a9a" stroke-width="0.6"/>
<line x1="389.70" y1="330.60" x2="440.10" y2="330.60" stroke="#9a9a9a" stroke-width="0.6"/>
<rect x="389.70" y="354.40" width="50.40" height="56.20" fill="none" stroke="#c4c4c4" stroke-width="0.6"/>
<line x1="389.70" y1="354.40" x2="389.70" y2="410.60" stroke="#9a9a9a" stroke-width="0.6"/>
<line x1="389.70" y1="410.60" x2="440.10" y2="410.60" stroke="#9a9a9a" stroke-width="0.6"/>
<rect x="389.70" y="434.40" width="50.40" height="56.20" fill="none" stroke="#c4c4c4" stroke-width="0.6"/>
<line x1="389.70" y1="434.40" x2="389.70" y2="490.60" stroke="#9a9a9a" stroke-width="0.6"/>
<line x1="389.70" y1="490.60" x2="440.10" y2="490.60" stroke="#9a9a9a" stroke-width="0.6"/>
<line x1="387.90" y1="278.70" x2="389.70" y2="278.70" stroke="#555" stroke-width="0.6"/>
<text x="387.10" y="280.70" font-size="4.6" fill="#5a5a5a" text-anchor="end" textLength="9.60" lengthAdjust="spacingAndGlyphs" stroke="#5a5a5a" stroke-width="0.12">3,0M</text>
<line x1="387.90" y1="288.28" x2="389.70" y2="288.28" stroke="#555" stroke-width="0.6"/>
<text x="387.10" y="290.28" font-size="4.6" fill="#5a5a5a" text-anchor="end" textLength="9.60" lengthAdjust="spacingAndGlyphs" stroke="#5a5a5a" stroke-width="0.12">2,5M</text>
<line x1="387.90" y1="297.86" x2="389.70" y2="297.86" stroke="#555" stroke-width="0.6"/>
<text x="387.10" y="299.86" font-size="4.6" fill="#5a5a5a" text-anchor="end" textLength="9.60" lengthAdjust="spacingAndGlyphs" stroke="#5a5a5a" stroke-width="0.12">2,0M</text>
<line x1="387.90" y1="307.44" x2="389.70" y2="307.44" stroke="#555" stroke-width="0.6"/>
<text x="387.10" y="309.44" font-size="4.6" fill="#5a5a5a" text-anchor="end" textLength="9.60" lengthAdjust="spacingAndGlyphs" stroke="#5a5a5a" stroke-width="0.12">1,5M</text>
<line x1="387.90" y1="317.02" x2="389.70" y2="317.02" stroke="#555" stroke-width="0.6"/>
<text x="387.10" y="319.02" font-size="4.6" fill="#5a5a5a" text-anchor="end" textLength="9.60" lengthAdjust="spacingAndGlyphs" stroke="#5a5a5a" stroke-width="0.12">1,0M</text>
<line x1="387.90" y1="326.60" x2="389.70" y2="326.60" stroke="#555" stroke-width="0.6"/>
<text x="387.10" y="328.60" font-size="4.6" fill="#5a5a5a" text-anchor="end" textLength="9.60" lengthAdjust="spacingAndGlyphs" stroke="#5a5a5a" stroke-width="0.12">500K</text>
<line x1="387.90" y1="358.70" x2="389.70" y2="358.70" stroke="#555" stroke-width="0.6"/>
<text x="387.10" y="360.70" font-size="4.6" fill="#5a5a5a" text-anchor="end" textLength="9.60" lengthAdjust="spacingAndGlyphs" stroke="#5a5a5a" stroke-width="0.12">3,0M</text>
<line x1="387.90" y1="368.28" x2="389.70" y2="368.28" stroke="#555" stroke-width="0.6"/>
<text x="387.10" y="370.28" font-size="4.6" fill="#5a5a5a" text-anchor="end" textLength="9.60" lengthAdjust="spacingAndGlyphs" stroke="#5a5a5a" stroke-width="0.12">2,5M</text>
<line x1="387.90" y1="377.86" x2="389.70" y2="377.86" stroke="#555" stroke-width="0.6"/>
<text x="387.10" y="379.86" font-size="4.6" fill="#5a5a5a" text-anchor="end" textLength="9.60" lengthAdjust="spacingAndGlyphs" stroke="#5a5a5a" stroke-width="0.12">2,0M</text>
<line x1="387.90" y1="387.44" x2="389.70" y2="387.44" stroke="#555" stroke-width="0.6"/>
<text x="387.10" y="389.44" font-size="4.6" fill="#5a5a5a" text-anchor="end" textLength="9.60" lengthAdjust="spacingAndGlyphs" stroke="#5a5a5a" stroke-width="0.12">1,5M</text>
<line x1="387.90" y1="397.02" x2="389.70" y2="397.02" stroke="#555" stroke-width="0.6"/>
<text x="387.10" y="399.02" font-size="4.6" fill="#5a5a5a" text-anchor="end" textLength="9.60" lengthAdjust="spacingAndGlyphs" stroke="#5a5a5a" stroke-width="0.12">1,0M</text>
<line x1="387.90" y1="406.60" x2="389.70" y2="406.60" stroke="#555" stroke-width="0.6"/>
<text x="387.10" y="408.60" font-size="4.6" fill="#5a5a5a" text-anchor="end" textLength="9.60" lengthAdjust="spacingAndGlyphs" stroke="#5a5a5a" stroke-width="0.12">500K</text>
<line x1="387.90" y1="434.40" x2="389.70" y2="434.40" stroke="#555" stroke-width="0.6"/>
<text x="387.10" y="436.40" font-size="4.6" fill="#5a5a5a" text-anchor="end" textLength="9.60" lengthAdjust="spacingAndGlyphs" stroke="#5a5a5a" stroke-width="0.12">2,0M</text>
<line x1="387.90" y1="448.50" x2="389.70" y2="448.50" stroke="#555" stroke-width="0.6"/>
<text x="387.10" y="450.50" font-size="4.6" fill="#5a5a5a" text-anchor="end" textLength="9.60" lengthAdjust="spacingAndGlyphs" stroke="#5a5a5a" stroke-width="0.12">1,5M</text>
<line x1="387.90" y1="462.40" x2="389.70" y2="462.40" stroke="#555" stroke-width="0.6"/>
<text x="387.10" y="464.40" font-size="4.6" fill="#5a5a5a" text-anchor="end" textLength="9.60" lengthAdjust="spacingAndGlyphs" stroke="#5a5a5a" stroke-width="0.12">1,0M</text>
<line x1="387.90" y1="476.40" x2="389.70" y2="476.40" stroke="#555" stroke-width="0.6"/>
<text x="387.10" y="478.40" font-size="4.6" fill="#5a5a5a" text-anchor="end" textLength="9.60" lengthAdjust="spacingAndGlyphs" stroke="#5a5a5a" stroke-width="0.12">500K</text>
<line x1="387.90" y1="490.30" x2="389.70" y2="490.30" stroke="#555" stroke-width="0.6"/>
<text x="387.10" y="492.30" font-size="4.6" fill="#5a5a5a" text-anchor="end" textLength="2.40" lengthAdjust="spacingAndGlyphs" stroke="#5a5a5a" stroke-width="0.12">0</text>
<text x="398.00" y="339.00" font-size="4.8" fill="#555" text-anchor="middle" stroke="#555" stroke-width="0.12">0</text>
<text x="412.50" y="339.00" font-size="4.8" fill="#555" text-anchor="middle" textLength="5.4" lengthAdjust="spacingAndGlyphs" stroke="#555" stroke-width="0.12">10<tspan font-size="3" dy="-1.65">4</tspan></text>
<text x="421.50" y="339.00" font-size="4.8" fill="#555" text-anchor="middle" textLength="5.4" lengthAdjust="spacingAndGlyphs" stroke="#555" stroke-width="0.12">10<tspan font-size="3" dy="-1.65">5</tspan></text>
<text x="430.30" y="339.00" font-size="4.8" fill="#555" text-anchor="middle" textLength="5.4" lengthAdjust="spacingAndGlyphs" stroke="#555" stroke-width="0.12">10<tspan font-size="3" dy="-1.65">6</tspan></text>
<text x="437.70" y="339.00" font-size="4.8" fill="#555" text-anchor="middle" textLength="5.4" lengthAdjust="spacingAndGlyphs" stroke="#555" stroke-width="0.12">10<tspan font-size="3" dy="-1.65">7</tspan></text>
<rect x="396.90" y="330.20" width="2.2" height="1.2" fill="#111"/>
<text x="392.60" y="418.40" font-size="4.8" fill="#555" text-anchor="middle" stroke="#555" stroke-width="0.12">-10<tspan font-size="3" dy="-1.65">3</tspan></text>
<text x="401.80" y="418.40" font-size="4.8" fill="#555" text-anchor="middle" stroke="#555" stroke-width="0.12">0</text>
<text x="409.70" y="418.40" font-size="4.8" fill="#555" text-anchor="middle" stroke="#555" stroke-width="0.12">10<tspan font-size="3" dy="-1.65">3</tspan></text>
<text x="423.90" y="418.40" font-size="4.8" fill="#555" text-anchor="middle" stroke="#555" stroke-width="0.12">10<tspan font-size="3" dy="-1.65">4</tspan></text>
<text x="435.60" y="418.40" font-size="4.8" fill="#555" text-anchor="middle" stroke="#555" stroke-width="0.12">10<tspan font-size="3" dy="-1.65">5</tspan></text>
<rect x="400.70" y="410.20" width="2.2" height="1.2" fill="#111"/>
<text x="394.90" y="498.20" font-size="4.8" fill="#555" text-anchor="middle" stroke="#555" stroke-width="0.12">10<tspan font-size="3" dy="-1.65">4</tspan></text>
<text x="414.10" y="498.20" font-size="4.8" fill="#555" text-anchor="middle" stroke="#555" stroke-width="0.12">10<tspan font-size="3" dy="-1.65">5</tspan></text>
<text x="434.00" y="498.20" font-size="4.8" fill="#555" text-anchor="middle" stroke="#555" stroke-width="0.12">10<tspan font-size="3" dy="-1.65">6</tspan></text>
<rect x="456.60" y="274.40" width="50.40" height="56.20" fill="none" stroke="#c4c4c4" stroke-width="0.6"/>
<line x1="456.60" y1="274.40" x2="456.60" y2="330.60" stroke="#9a9a9a" stroke-width="0.6"/>
<line x1="456.60" y1="330.60" x2="507.00" y2="330.60" stroke="#9a9a9a" stroke-width="0.6"/>
<rect x="456.60" y="354.40" width="50.40" height="56.20" fill="none" stroke="#c4c4c4" stroke-width="0.6"/>
<line x1="456.60" y1="354.40" x2="456.60" y2="410.60" stroke="#9a9a9a" stroke-width="0.6"/>
<line x1="456.60" y1="410.60" x2="507.00" y2="410.60" stroke="#9a9a9a" stroke-width="0.6"/>
<rect x="456.60" y="434.40" width="50.40" height="56.20" fill="none" stroke="#c4c4c4" stroke-width="0.6"/>
<line x1="456.60" y1="434.40" x2="456.60" y2="490.60" stroke="#9a9a9a" stroke-width="0.6"/>
<line x1="456.60" y1="490.60" x2="507.00" y2="490.60" stroke="#9a9a9a" stroke-width="0.6"/>
<line x1="454.80" y1="278.70" x2="456.60" y2="278.70" stroke="#555" stroke-width="0.6"/>
<text x="454.00" y="280.70" font-size="4.6" fill="#5a5a5a" text-anchor="end" textLength="9.60" lengthAdjust="spacingAndGlyphs" stroke="#5a5a5a" stroke-width="0.12">3,0M</text>
<line x1="454.80" y1="288.28" x2="456.60" y2="288.28" stroke="#555" stroke-width="0.6"/>
<text x="454.00" y="290.28" font-size="4.6" fill="#5a5a5a" text-anchor="end" textLength="9.60" lengthAdjust="spacingAndGlyphs" stroke="#5a5a5a" stroke-width="0.12">2,5M</text>
<line x1="454.80" y1="297.86" x2="456.60" y2="297.86" stroke="#555" stroke-width="0.6"/>
<text x="454.00" y="299.86" font-size="4.6" fill="#5a5a5a" text-anchor="end" textLength="9.60" lengthAdjust="spacingAndGlyphs" stroke="#5a5a5a" stroke-width="0.12">2,0M</text>
<line x1="454.80" y1="307.44" x2="456.60" y2="307.44" stroke="#555" stroke-width="0.6"/>
<text x="454.00" y="309.44" font-size="4.6" fill="#5a5a5a" text-anchor="end" textLength="9.60" lengthAdjust="spacingAndGlyphs" stroke="#5a5a5a" stroke-width="0.12">1,5M</text>
<line x1="454.80" y1="317.02" x2="456.60" y2="317.02" stroke="#555" stroke-width="0.6"/>
<text x="454.00" y="319.02" font-size="4.6" fill="#5a5a5a" text-anchor="end" textLength="9.60" lengthAdjust="spacingAndGlyphs" stroke="#5a5a5a" stroke-width="0.12">1,0M</text>
<line x1="454.80" y1="326.60" x2="456.60" y2="326.60" stroke="#555" stroke-width="0.6"/>
<text x="454.00" y="328.60" font-size="4.6" fill="#5a5a5a" text-anchor="end" textLength="9.60" lengthAdjust="spacingAndGlyphs" stroke="#5a5a5a" stroke-width="0.12">500K</text>
<line x1="454.80" y1="358.70" x2="456.60" y2="358.70" stroke="#555" stroke-width="0.6"/>
<text x="454.00" y="360.70" font-size="4.6" fill="#5a5a5a" text-anchor="end" textLength="9.60" lengthAdjust="spacingAndGlyphs" stroke="#5a5a5a" stroke-width="0.12">3,0M</text>
<line x1="454.80" y1="368.28" x2="456.60" y2="368.28" stroke="#555" stroke-width="0.6"/>
<text x="454.00" y="370.28" font-size="4.6" fill="#5a5a5a" text-anchor="end" textLength="9.60" lengthAdjust="spacingAndGlyphs" stroke="#5a5a5a" stroke-width="0.12">2,5M</text>
<line x1="454.80" y1="377.86" x2="456.60" y2="377.86" stroke="#555" stroke-width="0.6"/>
<text x="454.00" y="379.86" font-size="4.6" fill="#5a5a5a" text-anchor="end" textLength="9.60" lengthAdjust="spacingAndGlyphs" stroke="#5a5a5a" stroke-width="0.12">2,0M</text>
<line x1="454.80" y1="387.44" x2="456.60" y2="387.44" stroke="#555" stroke-width="0.6"/>
<text x="454.00" y="389.44" font-size="4.6" fill="#5a5a5a" text-anchor="end" textLength="9.60" lengthAdjust="spacingAndGlyphs" stroke="#5a5a5a" stroke-width="0.12">1,5M</text>
<line x1="454.80" y1="397.02" x2="456.60" y2="397.02" stroke="#555" stroke-width="0.6"/>
<text x="454.00" y="399.02" font-size="4.6" fill="#5a5a5a" text-anchor="end" textLength="9.60" lengthAdjust="spacingAndGlyphs" stroke="#5a5a5a" stroke-width="0.12">1,0M</text>
<line x1="454.80" y1="406.60" x2="456.60" y2="406.60" stroke="#555" stroke-width="0.6"/>
<text x="454.00" y="408.60" font-size="4.6" fill="#5a5a5a" text-anchor="end" textLength="9.60" lengthAdjust="spacingAndGlyphs" stroke="#5a5a5a" stroke-width="0.12">500K</text>
<line x1="454.80" y1="434.40" x2="456.60" y2="434.40" stroke="#555" stroke-width="0.6"/>
<text x="454.00" y="436.40" font-size="4.6" fill="#5a5a5a" text-anchor="end" textLength="9.60" lengthAdjust="spacingAndGlyphs" stroke="#5a5a5a" stroke-width="0.12">2,0M</text>
<line x1="454.80" y1="448.50" x2="456.60" y2="448.50" stroke="#555" stroke-width="0.6"/>
<text x="454.00" y="450.50" font-size="4.6" fill="#5a5a5a" text-anchor="end" textLength="9.60" lengthAdjust="spacingAndGlyphs" stroke="#5a5a5a" stroke-width="0.12">1,5M</text>
<line x1="454.80" y1="462.40" x2="456.60" y2="462.40" stroke="#555" stroke-width="0.6"/>
<text x="454.00" y="464.40" font-size="4.6" fill="#5a5a5a" text-anchor="end" textLength="9.60" lengthAdjust="spacingAndGlyphs" stroke="#5a5a5a" stroke-width="0.12">1,0M</text>
<line x1="454.80" y1="476.40" x2="456.60" y2="476.40" stroke="#555" stroke-width="0.6"/>
<text x="454.00" y="478.40" font-size="4.6" fill="#5a5a5a" text-anchor="end" textLength="9.60" lengthAdjust="spacingAndGlyphs" stroke="#5a5a5a" stroke-width="0.12">500K</text>
<line x1="454.80" y1="490.30" x2="456.60" y2="490.30" stroke="#555" stroke-width="0.6"/>
<text x="454.00" y="492.30" font-size="4.6" fill="#5a5a5a" text-anchor="end" textLength="2.40" lengthAdjust="spacingAndGlyphs" stroke="#5a5a5a" stroke-width="0.12">0</text>
<text x="464.90" y="339.00" font-size="4.8" fill="#555" text-anchor="middle" stroke="#555" stroke-width="0.12">0</text>
<text x="479.40" y="339.00" font-size="4.8" fill="#555" text-anchor="middle" textLength="5.4" lengthAdjust="spacingAndGlyphs" stroke="#555" stroke-width="0.12">10<tspan font-size="3" dy="-1.65">4</tspan></text>
<text x="488.40" y="339.00" font-size="4.8" fill="#555" text-anchor="middle" textLength="5.4" lengthAdjust="spacingAndGlyphs" stroke="#555" stroke-width="0.12">10<tspan font-size="3" dy="-1.65">5</tspan></text>
<text x="497.20" y="339.00" font-size="4.8" fill="#555" text-anchor="middle" textLength="5.4" lengthAdjust="spacingAndGlyphs" stroke="#555" stroke-width="0.12">10<tspan font-size="3" dy="-1.65">6</tspan></text>
<text x="504.60" y="339.00" font-size="4.8" fill="#555" text-anchor="middle" textLength="5.4" lengthAdjust="spacingAndGlyphs" stroke="#555" stroke-width="0.12">10<tspan font-size="3" dy="-1.65">7</tspan></text>
<rect x="463.80" y="330.20" width="2.2" height="1.2" fill="#111"/>
<text x="459.50" y="418.40" font-size="4.8" fill="#555" text-anchor="middle" stroke="#555" stroke-width="0.12">-10<tspan font-size="3" dy="-1.65">3</tspan></text>
<text x="468.70" y="418.40" font-size="4.8" fill="#555" text-anchor="middle" stroke="#555" stroke-width="0.12">0</text>
<text x="476.60" y="418.40" font-size="4.8" fill="#555" text-anchor="middle" stroke="#555" stroke-width="0.12">10<tspan font-size="3" dy="-1.65">3</tspan></text>
<text x="490.80" y="418.40" font-size="4.8" fill="#555" text-anchor="middle" stroke="#555" stroke-width="0.12">10<tspan font-size="3" dy="-1.65">4</tspan></text>
<text x="502.50" y="418.40" font-size="4.8" fill="#555" text-anchor="middle" stroke="#555" stroke-width="0.12">10<tspan font-size="3" dy="-1.65">5</tspan></text>
<rect x="467.60" y="410.20" width="2.2" height="1.2" fill="#111"/>
<text x="461.80" y="498.20" font-size="4.8" fill="#555" text-anchor="middle" stroke="#555" stroke-width="0.12">10<tspan font-size="3" dy="-1.65">4</tspan></text>
<text x="481.00" y="498.20" font-size="4.8" fill="#555" text-anchor="middle" stroke="#555" stroke-width="0.12">10<tspan font-size="3" dy="-1.65">5</tspan></text>
<text x="500.90" y="498.20" font-size="4.8" fill="#555" text-anchor="middle" stroke="#555" stroke-width="0.12">10<tspan font-size="3" dy="-1.65">6</tspan></text>
<ellipse cx="273.00" cy="310.00" rx="5.00" ry="10.00" fill="#a29ce6" opacity="0.5" filter="url(#blur1)" transform="rotate(12 273.00 310.00)"/>
<g transform="translate(272.70 312.00) rotate(10)"><circle cx="-0.22" cy="0.73" r="0.35" fill="#8a80d8" opacity="0.6"/><circle cx="2.11" cy="-6.64" r="0.35" fill="#8a80d8" opacity="0.6"/><circle cx="1.77" cy="2.48" r="0.35" fill="#8a80d8" opacity="0.6"/><circle cx="0.76" cy="6.63" r="0.35" fill="#8a80d8" opacity="0.6"/><circle cx="1.92" cy="-1.08" r="0.35" fill="#8a80d8" opacity="0.6"/><circle cx="-2.40" cy="6.01" r="0.35" fill="#8a80d8" opacity="0.6"/><circle cx="-1.96" cy="0.97" r="0.35" fill="#8a80d8" opacity="0.6"/><circle cx="-0.56" cy="0.15" r="0.35" fill="#8a80d8" opacity="0.6"/><circle cx="0.72" cy="-4.69" r="0.35" fill="#8a80d8" opacity="0.6"/><circle cx="-2.14" cy="5.75" r="0.35" fill="#8a80d8" opacity="0.6"/><circle cx="-4.31" cy="2.13" r="0.35" fill="#8a80d8" opacity="0.6"/><circle cx="1.30" cy="5.25" r="0.35" fill="#8a80d8" opacity="0.6"/><circle cx="3.50" cy="-2.80" r="0.35" fill="#8a80d8" opacity="0.6"/><circle cx="-2.71" cy="-4.19" r="0.35" fill="#8a80d8" opacity="0.6"/><circle cx="-0.04" cy="4.94" r="0.35" fill="#8a80d8" opacity="0.6"/><circle cx="1.14" cy="0.83" r="0.35" fill="#8a80d8" opacity="0.6"/><circle cx="3.08" cy="-3.21" r="0.35" fill="#8a80d8" opacity="0.6"/><circle cx="-1.56" cy="-5.43" r="0.35" fill="#8a80d8" opacity="0.6"/><circle cx="1.92" cy="2.79" r="0.35" fill="#8a80d8" opacity="0.6"/><circle cx="-3.56" cy="4.57" r="0.35" fill="#8a80d8" opacity="0.6"/><circle cx="4.42" cy="-1.42" r="0.35" fill="#8a80d8" opacity="0.6"/><circle cx="2.97" cy="-1.32" r="0.35" fill="#8a80d8" opacity="0.6"/><circle cx="2.22" cy="6.63" r="0.35" fill="#8a80d8" opacity="0.6"/><circle cx="3.65" cy="3.00" r="0.35" fill="#8a80d8" opacity="0.6"/><circle cx="1.26" cy="6.01" r="0.35" fill="#8a80d8" opacity="0.6"/><circle cx="-0.74" cy="-7.10" r="0.35" fill="#8a80d8" opacity="0.6"/><circle cx="2.23" cy="5.19" r="0.35" fill="#8a80d8" opacity="0.6"/><circle cx="1.95" cy="-6.24" r="0.35" fill="#8a80d8" opacity="0.6"/><circle cx="-3.84" cy="4.14" r="0.35" fill="#8a80d8" opacity="0.6"/><circle cx="0.23" cy="-6.44" r="0.35" fill="#8a80d8" opacity="0.6"/><circle cx="0.57" cy="-5.38" r="0.35" fill="#8a80d8" opacity="0.6"/><circle cx="0.45" cy="-3.76" r="0.35" fill="#8a80d8" opacity="0.6"/><circle cx="-1.06" cy="-6.36" r="0.35" fill="#8a80d8" opacity="0.6"/><circle cx="3.69" cy="-0.71" r="0.35" fill="#8a80d8" opacity="0.6"/><circle cx="-4.01" cy="0.83" r="0.35" fill="#8a80d8" opacity="0.6"/><circle cx="0.81" cy="-4.56" r="0.35" fill="#8a80d8" opacity="0.6"/><circle cx="-1.44" cy="-3.74" r="0.35" fill="#8a80d8" opacity="0.6"/><circle cx="-3.54" cy="0.60" r="0.35" fill="#8a80d8" opacity="0.6"/><circle cx="3.66" cy="3.87" r="0.35" fill="#8a80d8" opacity="0.6"/><circle cx="1.42" cy="3.61" r="0.35" fill="#8a80d8" opacity="0.6"/></g>
<g transform="translate(273.30 304.60) rotate(12)"><g filter="url(#blur04)"><ellipse cx="0.00" cy="-0.00" rx="4.30" ry="10.40" fill="#2b2a9a"/><ellipse cx="0.00" cy="-0.21" rx="3.61" ry="8.74" fill="#2350c0"/><ellipse cx="0.00" cy="-0.43" rx="3.01" ry="7.28" fill="#20a6d2"/><ellipse cx="0.00" cy="-0.64" rx="2.41" ry="5.82" fill="#3dbd84"/><ellipse cx="0.00" cy="-0.86" rx="1.85" ry="4.47" fill="#86cc3c"/><ellipse cx="0.00" cy="-1.07" rx="1.29" ry="3.12" fill="#e6da2a"/><ellipse cx="0.00" cy="-1.29" rx="0.73" ry="1.77" fill="#f08a22"/><ellipse cx="0.00" cy="-1.50" rx="0.34" ry="0.83" fill="#e02a1a"/></g></g>
<polygon points="259.50,293.30 278.70,291.50 272.70,327.20 257.30,327.20" fill="none" stroke="#7e7e7e" stroke-width="0.65"/>
<polygon points="278.70,291.50 297.90,292.30 295.00,326.60 272.70,327.20" fill="none" stroke="#7e7e7e" stroke-width="0.65"/>
<ellipse cx="334.60" cy="315.00" rx="5.50" ry="10.00" fill="#a29ce6" opacity="0.45" filter="url(#blur1)" transform="rotate(28 334.60 315.00)"/>
<g transform="translate(334.50 314.30) rotate(28)"><g filter="url(#blur04)"><path transform="translate(0 0.000) scale(3.900 8.600)" d="M0 -1 C0.3 -0.62 1 -0.15 1 0.38 C1 0.78 0.55 1 0 1 C-0.55 1 -1 0.78 -1 0.38 C-1 -0.15 -0.3 -0.62 0 -1 Z" fill="#24237e"/><path transform="translate(0 0.774) scale(3.120 6.880)" d="M0 -1 C0.3 -0.62 1 -0.15 1 0.38 C1 0.78 0.55 1 0 1 C-0.55 1 -1 0.78 -1 0.38 C-1 -0.15 -0.3 -0.62 0 -1 Z" fill="#2a4fc0"/><path transform="translate(0 1.471) scale(2.418 5.332)" d="M0 -1 C0.3 -0.62 1 -0.15 1 0.38 C1 0.78 0.55 1 0 1 C-0.55 1 -1 0.78 -1 0.38 C-1 -0.15 -0.3 -0.62 0 -1 Z" fill="#22a8d0"/><path transform="translate(0 2.129) scale(1.755 3.870)" d="M0 -1 C0.3 -0.62 1 -0.15 1 0.38 C1 0.78 0.55 1 0 1 C-0.55 1 -1 0.78 -1 0.38 C-1 -0.15 -0.3 -0.62 0 -1 Z" fill="#4cc06a"/><path transform="translate(0 2.709) scale(1.170 2.580)" d="M0 -1 C0.3 -0.62 1 -0.15 1 0.38 C1 0.78 0.55 1 0 1 C-0.55 1 -1 0.78 -1 0.38 C-1 -0.15 -0.3 -0.62 0 -1 Z" fill="#a8d030"/><path transform="translate(0 3.251) scale(0.624 1.376)" d="M0 -1 C0.3 -0.62 1 -0.15 1 0.38 C1 0.78 0.55 1 0 1 C-0.55 1 -1 0.78 -1 0.38 C-1 -0.15 -0.3 -0.62 0 -1 Z" fill="#e8c82a"/><path transform="translate(0 3.599) scale(0.273 0.602)" d="M0 -1 C0.3 -0.62 1 -0.15 1 0.38 C1 0.78 0.55 1 0 1 C-0.55 1 -1 0.78 -1 0.38 C-1 -0.15 -0.3 -0.62 0 -1 Z" fill="#e0401a"/></g></g>
<polygon points="327.40,293.30 346.60,291.50 340.60,327.20 325.20,327.20" fill="none" stroke="#7e7e7e" stroke-width="0.65"/>
<polygon points="346.60,291.50 365.80,292.30 362.90,326.60 340.60,327.20" fill="none" stroke="#7e7e7e" stroke-width="0.65"/>
<ellipse cx="402.70" cy="315.00" rx="5.50" ry="10.00" fill="#a29ce6" opacity="0.45" filter="url(#blur1)" transform="rotate(28 402.70 315.00)"/>
<g transform="translate(402.60 314.30) rotate(28)"><g filter="url(#blur04)"><path transform="translate(0 0.000) scale(3.900 8.600)" d="M0 -1 C0.3 -0.62 1 -0.15 1 0.38 C1 0.78 0.55 1 0 1 C-0.55 1 -1 0.78 -1 0.38 C-1 -0.15 -0.3 -0.62 0 -1 Z" fill="#24237e"/><path transform="translate(0 0.774) scale(3.120 6.880)" d="M0 -1 C0.3 -0.62 1 -0.15 1 0.38 C1 0.78 0.55 1 0 1 C-0.55 1 -1 0.78 -1 0.38 C-1 -0.15 -0.3 -0.62 0 -1 Z" fill="#2a4fc0"/><path transform="translate(0 1.471) scale(2.418 5.332)" d="M0 -1 C0.3 -0.62 1 -0.15 1 0.38 C1 0.78 0.55 1 0 1 C-0.55 1 -1 0.78 -1 0.38 C-1 -0.15 -0.3 -0.62 0 -1 Z" fill="#22a8d0"/><path transform="translate(0 2.129) scale(1.755 3.870)" d="M0 -1 C0.3 -0.62 1 -0.15 1 0.38 C1 0.78 0.55 1 0 1 C-0.55 1 -1 0.78 -1 0.38 C-1 -0.15 -0.3 -0.62 0 -1 Z" fill="#4cc06a"/><path transform="translate(0 2.709) scale(1.170 2.580)" d="M0 -1 C0.3 -0.62 1 -0.15 1 0.38 C1 0.78 0.55 1 0 1 C-0.55 1 -1 0.78 -1 0.38 C-1 -0.15 -0.3 -0.62 0 -1 Z" fill="#a8d030"/><path transform="translate(0 3.251) scale(0.624 1.376)" d="M0 -1 C0.3 -0.62 1 -0.15 1 0.38 C1 0.78 0.55 1 0 1 C-0.55 1 -1 0.78 -1 0.38 C-1 -0.15 -0.3 -0.62 0 -1 Z" fill="#e8c82a"/><path transform="translate(0 3.599) scale(0.273 0.602)" d="M0 -1 C0.3 -0.62 1 -0.15 1 0.38 C1 0.78 0.55 1 0 1 C-0.55 1 -1 0.78 -1 0.38 C-1 -0.15 -0.3 -0.62 0 -1 Z" fill="#e0401a"/></g></g>
<polygon points="395.50,293.30 414.70,291.50 408.70,327.20 393.30,327.20" fill="none" stroke="#7e7e7e" stroke-width="0.65"/>
<polygon points="414.70,291.50 433.90,292.30 431.00,326.60 408.70,327.20" fill="none" stroke="#7e7e7e" stroke-width="0.65"/>
<ellipse cx="469.60" cy="315.00" rx="5.50" ry="10.00" fill="#a29ce6" opacity="0.45" filter="url(#blur1)" transform="rotate(28 469.60 315.00)"/>
<g transform="translate(469.50 314.30) rotate(28)"><g filter="url(#blur04)"><path transform="translate(0 0.000) scale(3.900 8.600)" d="M0 -1 C0.3 -0.62 1 -0.15 1 0.38 C1 0.78 0.55 1 0 1 C-0.55 1 -1 0.78 -1 0.38 C-1 -0.15 -0.3 -0.62 0 -1 Z" fill="#24237e"/><path transform="translate(0 0.774) scale(3.120 6.880)" d="M0 -1 C0.3 -0.62 1 -0.15 1 0.38 C1 0.78 0.55 1 0 1 C-0.55 1 -1 0.78 -1 0.38 C-1 -0.15 -0.3 -0.62 0 -1 Z" fill="#2a4fc0"/><path transform="translate(0 1.471) scale(2.418 5.332)" d="M0 -1 C0.3 -0.62 1 -0.15 1 0.38 C1 0.78 0.55 1 0 1 C-0.55 1 -1 0.78 -1 0.38 C-1 -0.15 -0.3 -0.62 0 -1 Z" fill="#22a8d0"/><path transform="translate(0 2.129) scale(1.755 3.870)" d="M0 -1 C0.3 -0.62 1 -0.15 1 0.38 C1 0.78 0.55 1 0 1 C-0.55 1 -1 0.78 -1 0.38 C-1 -0.15 -0.3 -0.62 0 -1 Z" fill="#4cc06a"/><path transform="translate(0 2.709) scale(1.170 2.580)" d="M0 -1 C0.3 -0.62 1 -0.15 1 0.38 C1 0.78 0.55 1 0 1 C-0.55 1 -1 0.78 -1 0.38 C-1 -0.15 -0.3 -0.62 0 -1 Z" fill="#a8d030"/><path transform="translate(0 3.251) scale(0.624 1.376)" d="M0 -1 C0.3 -0.62 1 -0.15 1 0.38 C1 0.78 0.55 1 0 1 C-0.55 1 -1 0.78 -1 0.38 C-1 -0.15 -0.3 -0.62 0 -1 Z" fill="#e8c82a"/><path transform="translate(0 3.599) scale(0.273 0.602)" d="M0 -1 C0.3 -0.62 1 -0.15 1 0.38 C1 0.78 0.55 1 0 1 C-0.55 1 -1 0.78 -1 0.38 C-1 -0.15 -0.3 -0.62 0 -1 Z" fill="#e0401a"/></g></g>
<polygon points="462.40,293.30 481.60,291.50 475.60,327.20 460.20,327.20" fill="none" stroke="#7e7e7e" stroke-width="0.65"/>
<polygon points="481.60,291.50 500.80,292.30 497.90,326.60 475.60,327.20" fill="none" stroke="#7e7e7e" stroke-width="0.65"/>
<ellipse cx="481.60" cy="316.00" rx="5.00" ry="8.00" fill="#a096e0" opacity="0.5" filter="url(#blur1)" transform="rotate(0 481.60 316.00)"/>
<g transform="translate(481.60 316.00) rotate(0)"><circle cx="-0.88" cy="1.45" r="0.5" fill="#4e3cb0" opacity="0.7"/><circle cx="-2.09" cy="-1.69" r="0.5" fill="#4e3cb0" opacity="0.7"/><circle cx="2.73" cy="-1.93" r="0.5" fill="#4e3cb0" opacity="0.7"/><circle cx="-1.72" cy="4.73" r="0.5" fill="#4e3cb0" opacity="0.7"/><circle cx="-1.01" cy="-2.87" r="0.5" fill="#4e3cb0" opacity="0.7"/><circle cx="1.95" cy="1.77" r="0.5" fill="#4e3cb0" opacity="0.7"/><circle cx="-2.37" cy="-3.59" r="0.5" fill="#4e3cb0" opacity="0.7"/><circle cx="1.05" cy="-2.56" r="0.5" fill="#4e3cb0" opacity="0.7"/><circle cx="-3.38" cy="1.98" r="0.5" fill="#4e3cb0" opacity="0.7"/><circle cx="0.65" cy="4.60" r="0.5" fill="#4e3cb0" opacity="0.7"/><circle cx="-3.05" cy="-1.26" r="0.5" fill="#4e3cb0" opacity="0.7"/><circle cx="-1.50" cy="-6.86" r="0.5" fill="#4e3cb0" opacity="0.7"/><circle cx="3.20" cy="3.83" r="0.5" fill="#4e3cb0" opacity="0.7"/><circle cx="-3.04" cy="-1.80" r="0.5" fill="#4e3cb0" opacity="0.7"/><circle cx="-0.82" cy="5.05" r="0.5" fill="#4e3cb0" opacity="0.7"/><circle cx="0.26" cy="2.05" r="0.5" fill="#4e3cb0" opacity="0.7"/><circle cx="1.74" cy="-5.20" r="0.5" fill="#4e3cb0" opacity="0.7"/><circle cx="1.02" cy="1.73" r="0.5" fill="#4e3cb0" opacity="0.7"/><circle cx="-3.18" cy="3.32" r="0.5" fill="#4e3cb0" opacity="0.7"/><circle cx="-2.94" cy="0.94" r="0.5" fill="#4e3cb0" opacity="0.7"/><circle cx="-3.79" cy="0.70" r="0.5" fill="#4e3cb0" opacity="0.7"/><circle cx="-0.61" cy="-3.54" r="0.5" fill="#4e3cb0" opacity="0.7"/><circle cx="1.58" cy="4.99" r="0.5" fill="#4e3cb0" opacity="0.7"/><circle cx="-0.15" cy="-2.99" r="0.5" fill="#4e3cb0" opacity="0.7"/><circle cx="-1.43" cy="5.65" r="0.5" fill="#4e3cb0" opacity="0.7"/><circle cx="-2.18" cy="0.06" r="0.5" fill="#4e3cb0" opacity="0.7"/><circle cx="-2.55" cy="1.04" r="0.5" fill="#4e3cb0" opacity="0.7"/><circle cx="3.29" cy="-0.00" r="0.5" fill="#4e3cb0" opacity="0.7"/><circle cx="1.02" cy="4.08" r="0.5" fill="#4e3cb0" opacity="0.7"/><circle cx="-0.35" cy="-0.86" r="0.5" fill="#4e3cb0" opacity="0.7"/><circle cx="3.29" cy="1.83" r="0.5" fill="#4e3cb0" opacity="0.7"/><circle cx="3.60" cy="-0.04" r="0.5" fill="#4e3cb0" opacity="0.7"/><circle cx="2.31" cy="2.91" r="0.5" fill="#4e3cb0" opacity="0.7"/><circle cx="0.07" cy="-2.85" r="0.5" fill="#4e3cb0" opacity="0.7"/><circle cx="0.59" cy="4.71" r="0.5" fill="#4e3cb0" opacity="0.7"/><circle cx="0.86" cy="1.65" r="0.5" fill="#4e3cb0" opacity="0.7"/><circle cx="-1.26" cy="-3.69" r="0.5" fill="#4e3cb0" opacity="0.7"/><circle cx="0.53" cy="-5.49" r="0.5" fill="#4e3cb0" opacity="0.7"/><circle cx="1.82" cy="-2.09" r="0.5" fill="#4e3cb0" opacity="0.7"/><circle cx="-1.10" cy="3.15" r="0.5" fill="#4e3cb0" opacity="0.7"/><circle cx="2.03" cy="1.31" r="0.5" fill="#4e3cb0" opacity="0.7"/><circle cx="-1.73" cy="4.16" r="0.5" fill="#4e3cb0" opacity="0.7"/><circle cx="-1.99" cy="6.43" r="0.5" fill="#4e3cb0" opacity="0.7"/><circle cx="1.64" cy="-3.15" r="0.5" fill="#4e3cb0" opacity="0.7"/><circle cx="0.81" cy="5.04" r="0.5" fill="#4e3cb0" opacity="0.7"/><circle cx="1.29" cy="2.22" r="0.5" fill="#4e3cb0" opacity="0.7"/><circle cx="-0.33" cy="-2.61" r="0.5" fill="#4e3cb0" opacity="0.7"/><circle cx="1.17" cy="-0.38" r="0.5" fill="#4e3cb0" opacity="0.7"/><circle cx="2.53" cy="-0.10" r="0.5" fill="#4e3cb0" opacity="0.7"/><circle cx="-2.40" cy="-1.60" r="0.5" fill="#4e3cb0" opacity="0.7"/><circle cx="-2.26" cy="-2.12" r="0.5" fill="#4e3cb0" opacity="0.7"/><circle cx="0.67" cy="1.02" r="0.5" fill="#4e3cb0" opacity="0.7"/><circle cx="1.20" cy="-4.65" r="0.5" fill="#4e3cb0" opacity="0.7"/><circle cx="0.10" cy="-1.83" r="0.5" fill="#4e3cb0" opacity="0.7"/><circle cx="-2.95" cy="-0.03" r="0.5" fill="#4e3cb0" opacity="0.7"/><circle cx="-1.09" cy="2.02" r="0.5" fill="#4e3cb0" opacity="0.7"/><circle cx="-1.53" cy="-5.52" r="0.5" fill="#4e3cb0" opacity="0.7"/><circle cx="0.82" cy="-1.52" r="0.5" fill="#4e3cb0" opacity="0.7"/><circle cx="3.09" cy="1.47" r="0.5" fill="#4e3cb0" opacity="0.7"/><circle cx="-1.18" cy="-2.22" r="0.5" fill="#4e3cb0" opacity="0.7"/></g>
<ellipse cx="481.20" cy="317.5" rx="3.4" ry="5.5" fill="#4f3db4" opacity="0.85" filter="url(#blur06)"/>
<ellipse cx="482.80" cy="311.5" rx="2.2" ry="3.2" fill="#5a48bc" opacity="0.8" filter="url(#blur06)"/>
<text x="257.10" y="282.50" font-size="7.4" textLength="12.50" lengthAdjust="spacingAndGlyphs" stroke="#222" stroke-width="0.12">98,7</text>
<text x="301.70" y="282.50" font-size="7.4" text-anchor="end" textLength="12.30" lengthAdjust="spacingAndGlyphs" stroke="#222" stroke-width="0.12">0,81</text>
<text x="325.00" y="282.50" font-size="7.4" textLength="12.50" lengthAdjust="spacingAndGlyphs" stroke="#222" stroke-width="0.12">99,7</text>
<text x="369.60" y="282.50" font-size="7.4" text-anchor="end" textLength="12.30" lengthAdjust="spacingAndGlyphs" stroke="#222" stroke-width="0.12">0,07</text>
<text x="393.10" y="282.50" font-size="7.4" textLength="12.50" lengthAdjust="spacingAndGlyphs" stroke="#222" stroke-width="0.12">99,7</text>
<text x="437.70" y="282.50" font-size="7.4" text-anchor="end" textLength="12.30" lengthAdjust="spacingAndGlyphs" stroke="#222" stroke-width="0.12">0,14</text>
<text x="460.00" y="282.50" font-size="7.4" textLength="12.50" lengthAdjust="spacingAndGlyphs" stroke="#222" stroke-width="0.12">95,0</text>
<text x="504.60" y="282.50" font-size="7.4" text-anchor="end" textLength="12.30" lengthAdjust="spacingAndGlyphs" stroke="#222" stroke-width="0.12">4,78</text>
<ellipse cx="268.70" cy="387.00" rx="14.00" ry="11.00" fill="#a29ce6" opacity="0.5" filter="url(#blur1)" transform="rotate(-40 268.70 387.00)"/>
<g transform="translate(267.70 389.00) rotate(-40)"><circle cx="-5.78" cy="-7.19" r="0.35" fill="#8d7fe0" opacity="0.6"/><circle cx="-3.35" cy="1.35" r="0.35" fill="#8d7fe0" opacity="0.6"/><circle cx="1.26" cy="-0.44" r="0.35" fill="#8d7fe0" opacity="0.6"/><circle cx="3.10" cy="-2.42" r="0.35" fill="#8d7fe0" opacity="0.6"/><circle cx="-3.68" cy="7.06" r="0.35" fill="#8d7fe0" opacity="0.6"/><circle cx="3.35" cy="-2.94" r="0.35" fill="#8d7fe0" opacity="0.6"/><circle cx="1.67" cy="0.27" r="0.35" fill="#8d7fe0" opacity="0.6"/><circle cx="-8.34" cy="-2.77" r="0.35" fill="#8d7fe0" opacity="0.6"/><circle cx="7.26" cy="-3.27" r="0.35" fill="#8d7fe0" opacity="0.6"/><circle cx="-10.79" cy="-1.13" r="0.35" fill="#8d7fe0" opacity="0.6"/><circle cx="1.16" cy="-5.78" r="0.35" fill="#8d7fe0" opacity="0.6"/><circle cx="-2.55" cy="-5.40" r="0.35" fill="#8d7fe0" opacity="0.6"/><circle cx="9.03" cy="3.04" r="0.35" fill="#8d7fe0" opacity="0.6"/><circle cx="-9.94" cy="-4.99" r="0.35" fill="#8d7fe0" opacity="0.6"/><circle cx="-2.55" cy="-2.99" r="0.35" fill="#8d7fe0" opacity="0.6"/><circle cx="1.11" cy="-6.62" r="0.35" fill="#8d7fe0" opacity="0.6"/><circle cx="7.15" cy="3.08" r="0.35" fill="#8d7fe0" opacity="0.6"/><circle cx="7.54" cy="-4.34" r="0.35" fill="#8d7fe0" opacity="0.6"/><circle cx="-1.04" cy="0.38" r="0.35" fill="#8d7fe0" opacity="0.6"/><circle cx="-5.78" cy="-7.82" r="0.35" fill="#8d7fe0" opacity="0.6"/><circle cx="3.53" cy="-3.27" r="0.35" fill="#8d7fe0" opacity="0.6"/><circle cx="5.96" cy="4.27" r="0.35" fill="#8d7fe0" opacity="0.6"/><circle cx="-1.44" cy="6.70" r="0.35" fill="#8d7fe0" opacity="0.6"/><circle cx="-9.86" cy="2.36" r="0.35" fill="#8d7fe0" opacity="0.6"/><circle cx="6.42" cy="-2.54" r="0.35" fill="#8d7fe0" opacity="0.6"/><circle cx="-0.17" cy="-7.50" r="0.35" fill="#8d7fe0" opacity="0.6"/><circle cx="6.42" cy="6.19" r="0.35" fill="#8d7fe0" opacity="0.6"/><circle cx="-2.40" cy="6.47" r="0.35" fill="#8d7fe0" opacity="0.6"/><circle cx="-9.82" cy="0.09" r="0.35" fill="#8d7fe0" opacity="0.6"/><circle cx="8.84" cy="-5.48" r="0.35" fill="#8d7fe0" opacity="0.6"/><circle cx="2.03" cy="0.52" r="0.35" fill="#8d7fe0" opacity="0.6"/><circle cx="10.47" cy="3.14" r="0.35" fill="#8d7fe0" opacity="0.6"/><circle cx="-3.66" cy="-6.52" r="0.35" fill="#8d7fe0" opacity="0.6"/><circle cx="-5.14" cy="3.23" r="0.35" fill="#8d7fe0" opacity="0.6"/><circle cx="-9.50" cy="-5.18" r="0.35" fill="#8d7fe0" opacity="0.6"/><circle cx="4.76" cy="-6.05" r="0.35" fill="#8d7fe0" opacity="0.6"/><circle cx="-4.73" cy="8.02" r="0.35" fill="#8d7fe0" opacity="0.6"/><circle cx="-1.15" cy="-6.11" r="0.35" fill="#8d7fe0" opacity="0.6"/><circle cx="5.91" cy="7.66" r="0.35" fill="#8d7fe0" opacity="0.6"/><circle cx="8.71" cy="5.88" r="0.35" fill="#8d7fe0" opacity="0.6"/><circle cx="5.53" cy="6.91" r="0.35" fill="#8d7fe0" opacity="0.6"/><circle cx="-10.47" cy="1.15" r="0.35" fill="#8d7fe0" opacity="0.6"/><circle cx="-5.98" cy="1.37" r="0.35" fill="#8d7fe0" opacity="0.6"/><circle cx="0.21" cy="-5.20" r="0.35" fill="#8d7fe0" opacity="0.6"/><circle cx="-1.77" cy="6.97" r="0.35" fill="#8d7fe0" opacity="0.6"/><circle cx="-6.26" cy="-6.55" r="0.35" fill="#8d7fe0" opacity="0.6"/><circle cx="-9.06" cy="-4.93" r="0.35" fill="#8d7fe0" opacity="0.6"/><circle cx="-0.23" cy="-1.11" r="0.35" fill="#8d7fe0" opacity="0.6"/><circle cx="6.37" cy="6.68" r="0.35" fill="#8d7fe0" opacity="0.6"/><circle cx="-10.22" cy="-4.51" r="0.35" fill="#8d7fe0" opacity="0.6"/><circle cx="0.18" cy="5.60" r="0.35" fill="#8d7fe0" opacity="0.6"/><circle cx="-7.51" cy="5.55" r="0.35" fill="#8d7fe0" opacity="0.6"/><circle cx="0.79" cy="6.02" r="0.35" fill="#8d7fe0" opacity="0.6"/><circle cx="-2.56" cy="-4.73" r="0.35" fill="#8d7fe0" opacity="0.6"/><circle cx="-0.54" cy="3.55" r="0.35" fill="#8d7fe0" opacity="0.6"/><circle cx="9.21" cy="-3.76" r="0.35" fill="#8d7fe0" opacity="0.6"/><circle cx="1.33" cy="-4.73" r="0.35" fill="#8d7fe0" opacity="0.6"/><circle cx="7.18" cy="6.57" r="0.35" fill="#8d7fe0" opacity="0.6"/><circle cx="4.60" cy="-0.16" r="0.35" fill="#8d7fe0" opacity="0.6"/><circle cx="10.59" cy="-1.24" r="0.35" fill="#8d7fe0" opacity="0.6"/></g>
<g transform="translate(270.30 385.20) rotate(-40)"><g filter="url(#blur04)"><ellipse cx="0.00" cy="0.00" rx="12.00" ry="9.00" fill="#2b2a9a"/><ellipse cx="0.11" cy="0.03" rx="10.08" ry="7.56" fill="#2350c0"/><ellipse cx="0.23" cy="0.06" rx="8.40" ry="6.30" fill="#20a6d2"/><ellipse cx="0.34" cy="0.09" rx="6.72" ry="5.04" fill="#3dbd84"/><ellipse cx="0.46" cy="0.11" rx="5.16" ry="3.87" fill="#86cc3c"/><ellipse cx="0.57" cy="0.14" rx="3.60" ry="2.70" fill="#e6da2a"/><ellipse cx="0.69" cy="0.17" rx="2.04" ry="1.53" fill="#f08a22"/><ellipse cx="0.80" cy="0.20" rx="0.96" ry="0.72" fill="#e02a1a"/></g></g>
<rect x="279.30" y="384.30" width="21.30" height="23.20" fill="none" stroke="#7e7e7e" stroke-width="0.65"/>
<ellipse cx="345.60" cy="396.50" rx="24.00" ry="9.50" fill="#a29ce6" opacity="0.45" filter="url(#blur1)" transform="rotate(0 345.60 396.50)"/>
<circle cx="338.94" cy="401.54" r="0.5" fill="#3b6fd0" opacity="0.6"/><circle cx="339.10" cy="401.95" r="0.5" fill="#6a62d0" opacity="0.6"/><circle cx="345.66" cy="400.44" r="0.5" fill="#6a62d0" opacity="0.6"/><circle cx="334.67" cy="400.17" r="0.5" fill="#8f86dc" opacity="0.6"/><circle cx="334.38" cy="396.81" r="0.5" fill="#8f86dc" opacity="0.6"/><circle cx="345.22" cy="390.66" r="0.5" fill="#8f86dc" opacity="0.6"/><circle cx="348.38" cy="396.44" r="0.5" fill="#3b6fd0" opacity="0.6"/><circle cx="337.77" cy="390.04" r="0.5" fill="#6a62d0" opacity="0.6"/><circle cx="343.23" cy="393.26" r="0.5" fill="#8f86dc" opacity="0.6"/><circle cx="334.87" cy="396.34" r="0.5" fill="#6a62d0" opacity="0.6"/><circle cx="337.41" cy="403.33" r="0.5" fill="#8f86dc" opacity="0.6"/><circle cx="341.32" cy="401.75" r="0.5" fill="#6a62d0" opacity="0.6"/><circle cx="331.46" cy="398.14" r="0.5" fill="#4a4fc0" opacity="0.6"/><circle cx="347.85" cy="395.73" r="0.5" fill="#6a62d0" opacity="0.6"/><circle cx="330.92" cy="401.58" r="0.5" fill="#3b6fd0" opacity="0.6"/><circle cx="326.32" cy="394.94" r="0.5" fill="#6a62d0" opacity="0.6"/><circle cx="339.21" cy="403.41" r="0.5" fill="#3b6fd0" opacity="0.6"/><circle cx="337.23" cy="402.91" r="0.5" fill="#4a4fc0" opacity="0.6"/><circle cx="347.76" cy="398.80" r="0.5" fill="#4a4fc0" opacity="0.6"/><circle cx="332.52" cy="390.66" r="0.5" fill="#4a4fc0" opacity="0.6"/><circle cx="350.38" cy="399.39" r="0.5" fill="#3b6fd0" opacity="0.6"/><circle cx="328.71" cy="402.99" r="0.5" fill="#8f86dc" opacity="0.6"/><circle cx="330.76" cy="393.04" r="0.5" fill="#4a4fc0" opacity="0.6"/><circle cx="345.62" cy="400.19" r="0.5" fill="#3b6fd0" opacity="0.6"/><circle cx="342.55" cy="391.98" r="0.5" fill="#3b6fd0" opacity="0.6"/><circle cx="332.67" cy="391.14" r="0.5" fill="#4a4fc0" opacity="0.6"/><circle cx="334.10" cy="393.59" r="0.5" fill="#3b6fd0" opacity="0.6"/><circle cx="343.68" cy="389.90" r="0.5" fill="#4a4fc0" opacity="0.6"/><circle cx="327.99" cy="402.66" r="0.5" fill="#4a4fc0" opacity="0.6"/><circle cx="341.19" cy="395.05" r="0.5" fill="#8f86dc" opacity="0.6"/><circle cx="332.63" cy="390.68" r="0.5" fill="#4a4fc0" opacity="0.6"/><circle cx="343.58" cy="397.07" r="0.5" fill="#6a62d0" opacity="0.6"/><circle cx="335.31" cy="390.94" r="0.5" fill="#4a4fc0" opacity="0.6"/><circle cx="331.19" cy="402.79" r="0.5" fill="#8f86dc" opacity="0.6"/><circle cx="346.12" cy="391.21" r="0.5" fill="#4a4fc0" opacity="0.6"/><circle cx="332.51" cy="404.06" r="0.5" fill="#4a4fc0" opacity="0.6"/><circle cx="327.89" cy="396.27" r="0.5" fill="#6a62d0" opacity="0.6"/><circle cx="339.28" cy="402.71" r="0.5" fill="#4a4fc0" opacity="0.6"/><circle cx="343.94" cy="391.87" r="0.5" fill="#4a4fc0" opacity="0.6"/><circle cx="335.98" cy="396.16" r="0.5" fill="#6a62d0" opacity="0.6"/><circle cx="336.00" cy="401.79" r="0.5" fill="#8f86dc" opacity="0.6"/><circle cx="328.80" cy="394.70" r="0.5" fill="#3b6fd0" opacity="0.6"/><circle cx="329.71" cy="397.43" r="0.5" fill="#6a62d0" opacity="0.6"/><circle cx="347.21" cy="396.43" r="0.5" fill="#6a62d0" opacity="0.6"/><circle cx="343.53" cy="389.93" r="0.5" fill="#4a4fc0" opacity="0.6"/><circle cx="344.06" cy="401.23" r="0.5" fill="#6a62d0" opacity="0.6"/><circle cx="329.37" cy="398.25" r="0.5" fill="#6a62d0" opacity="0.6"/><circle cx="339.92" cy="390.05" r="0.5" fill="#4a4fc0" opacity="0.6"/><circle cx="342.98" cy="396.39" r="0.5" fill="#4a4fc0" opacity="0.6"/><circle cx="338.12" cy="392.95" r="0.5" fill="#8f86dc" opacity="0.6"/><circle cx="347.17" cy="403.29" r="0.5" fill="#3b6fd0" opacity="0.6"/><circle cx="326.13" cy="394.19" r="0.5" fill="#3b6fd0" opacity="0.6"/><circle cx="327.33" cy="399.31" r="0.5" fill="#6a62d0" opacity="0.6"/><circle cx="328.81" cy="402.63" r="0.5" fill="#8f86dc" opacity="0.6"/><circle cx="339.70" cy="403.16" r="0.5" fill="#8f86dc" opacity="0.6"/><circle cx="338.16" cy="394.92" r="0.5" fill="#4a4fc0" opacity="0.6"/><circle cx="326.98" cy="400.29" r="0.5" fill="#8f86dc" opacity="0.6"/><circle cx="345.42" cy="403.36" r="0.5" fill="#4a4fc0" opacity="0.6"/><circle cx="344.07" cy="394.93" r="0.5" fill="#4a4fc0" opacity="0.6"/><circle cx="338.45" cy="396.75" r="0.5" fill="#4a4fc0" opacity="0.6"/><circle cx="340.93" cy="389.36" r="0.5" fill="#8f86dc" opacity="0.6"/><circle cx="330.61" cy="402.34" r="0.5" fill="#4a4fc0" opacity="0.6"/><circle cx="344.28" cy="391.23" r="0.5" fill="#3b6fd0" opacity="0.6"/><circle cx="338.24" cy="400.05" r="0.5" fill="#4a4fc0" opacity="0.6"/><circle cx="328.61" cy="391.46" r="0.5" fill="#3b6fd0" opacity="0.6"/><circle cx="337.42" cy="396.02" r="0.5" fill="#8f86dc" opacity="0.6"/><circle cx="348.36" cy="396.83" r="0.5" fill="#6a62d0" opacity="0.6"/><circle cx="339.64" cy="400.93" r="0.5" fill="#6a62d0" opacity="0.6"/><circle cx="341.38" cy="399.88" r="0.5" fill="#4a4fc0" opacity="0.6"/><circle cx="345.35" cy="392.77" r="0.5" fill="#6a62d0" opacity="0.6"/><circle cx="347.08" cy="400.31" r="0.5" fill="#8f86dc" opacity="0.6"/><circle cx="346.42" cy="402.95" r="0.5" fill="#4a4fc0" opacity="0.6"/><circle cx="342.64" cy="393.07" r="0.5" fill="#3b6fd0" opacity="0.6"/><circle cx="332.68" cy="390.02" r="0.5" fill="#4a4fc0" opacity="0.6"/><circle cx="329.91" cy="394.41" r="0.5" fill="#3b6fd0" opacity="0.6"/><circle cx="341.33" cy="402.19" r="0.5" fill="#4a4fc0" opacity="0.6"/><circle cx="324.56" cy="398.83" r="0.5" fill="#8f86dc" opacity="0.6"/><circle cx="349.30" cy="398.47" r="0.5" fill="#4a4fc0" opacity="0.6"/><circle cx="341.00" cy="391.01" r="0.5" fill="#4a4fc0" opacity="0.6"/><circle cx="331.65" cy="392.11" r="0.5" fill="#6a62d0" opacity="0.6"/><circle cx="326.97" cy="397.89" r="0.5" fill="#8f86dc" opacity="0.6"/><circle cx="325.97" cy="397.80" r="0.5" fill="#6a62d0" opacity="0.6"/><circle cx="335.92" cy="396.23" r="0.5" fill="#8f86dc" opacity="0.6"/><circle cx="349.24" cy="397.55" r="0.5" fill="#8f86dc" opacity="0.6"/><circle cx="338.90" cy="402.79" r="0.5" fill="#6a62d0" opacity="0.6"/><circle cx="341.81" cy="390.02" r="0.5" fill="#8f86dc" opacity="0.6"/><circle cx="336.50" cy="396.96" r="0.5" fill="#3b6fd0" opacity="0.6"/><circle cx="336.73" cy="392.21" r="0.5" fill="#6a62d0" opacity="0.6"/><circle cx="332.94" cy="389.78" r="0.5" fill="#3b6fd0" opacity="0.6"/><circle cx="350.75" cy="393.93" r="0.5" fill="#8f86dc" opacity="0.6"/><circle cx="332.67" cy="392.51" r="0.5" fill="#8f86dc" opacity="0.6"/><circle cx="331.87" cy="401.44" r="0.5" fill="#6a62d0" opacity="0.6"/><circle cx="339.03" cy="398.12" r="0.5" fill="#8f86dc" opacity="0.6"/><circle cx="334.46" cy="394.80" r="0.5" fill="#4a4fc0" opacity="0.6"/><circle cx="342.57" cy="404.68" r="0.5" fill="#3b6fd0" opacity="0.6"/><circle cx="333.04" cy="393.05" r="0.5" fill="#6a62d0" opacity="0.6"/><circle cx="340.86" cy="403.00" r="0.5" fill="#4a4fc0" opacity="0.6"/><circle cx="344.29" cy="400.87" r="0.5" fill="#3b6fd0" opacity="0.6"/><circle cx="331.12" cy="398.61" r="0.5" fill="#6a62d0" opacity="0.6"/><circle cx="335.09" cy="397.00" r="0.5" fill="#4a4fc0" opacity="0.6"/><circle cx="339.61" cy="394.36" r="0.5" fill="#8f86dc" opacity="0.6"/><circle cx="348.04" cy="398.15" r="0.5" fill="#3b6fd0" opacity="0.6"/><circle cx="347.45" cy="399.85" r="0.5" fill="#8f86dc" opacity="0.6"/><circle cx="343.85" cy="391.86" r="0.5" fill="#3b6fd0" opacity="0.6"/><circle cx="338.33" cy="397.91" r="0.5" fill="#8f86dc" opacity="0.6"/><circle cx="351.31" cy="393.61" r="0.5" fill="#8f86dc" opacity="0.6"/>
<g filter="url(#blur1)"><ellipse cx="339.60" cy="397.2" rx="13" ry="4.6" fill="#3340b4" opacity="0.85" transform="rotate(-8 339.60 397.2)"/><ellipse cx="337.60" cy="398.3" rx="5" ry="1.8" fill="#2aa0d8" opacity="0.6"/></g>
<g transform="translate(357.80 396.20) rotate(-18)"><g filter="url(#blur06)"><ellipse cx="0.00" cy="0.00" rx="11.00" ry="7.40" fill="#2b2a9a"/><ellipse cx="0.31" cy="0.17" rx="9.24" ry="6.22" fill="#2350c0"/><ellipse cx="0.63" cy="0.34" rx="7.70" ry="5.18" fill="#20a6d2"/><ellipse cx="0.94" cy="0.51" rx="6.16" ry="4.14" fill="#3dbd84"/><ellipse cx="1.26" cy="0.69" rx="4.73" ry="3.18" fill="#86cc3c"/><ellipse cx="1.57" cy="0.86" rx="3.30" ry="2.22" fill="#e6da2a"/><ellipse cx="1.89" cy="1.03" rx="1.87" ry="1.26" fill="#f08a22"/><ellipse cx="2.20" cy="1.20" rx="0.88" ry="0.59" fill="#e02a1a"/></g></g>
<rect x="347.40" y="384.30" width="21.40" height="22.00" fill="none" stroke="#7e7e7e" stroke-width="0.65"/>
<ellipse cx="413.70" cy="396.50" rx="24.00" ry="9.50" fill="#a29ce6" opacity="0.45" filter="url(#blur1)" transform="rotate(0 413.70 396.50)"/>
<circle cx="396.86" cy="392.08" r="0.5" fill="#6a62d0" opacity="0.6"/><circle cx="403.90" cy="393.54" r="0.5" fill="#6a62d0" opacity="0.6"/><circle cx="400.77" cy="402.87" r="0.5" fill="#6a62d0" opacity="0.6"/><circle cx="403.64" cy="404.21" r="0.5" fill="#4a4fc0" opacity="0.6"/><circle cx="416.78" cy="392.00" r="0.5" fill="#8f86dc" opacity="0.6"/><circle cx="406.19" cy="396.35" r="0.5" fill="#3b6fd0" opacity="0.6"/><circle cx="402.61" cy="393.15" r="0.5" fill="#8f86dc" opacity="0.6"/><circle cx="403.17" cy="396.02" r="0.5" fill="#6a62d0" opacity="0.6"/><circle cx="405.33" cy="394.80" r="0.5" fill="#8f86dc" opacity="0.6"/><circle cx="411.06" cy="400.93" r="0.5" fill="#4a4fc0" opacity="0.6"/><circle cx="396.48" cy="392.36" r="0.5" fill="#4a4fc0" opacity="0.6"/><circle cx="414.83" cy="396.25" r="0.5" fill="#4a4fc0" opacity="0.6"/><circle cx="410.07" cy="391.90" r="0.5" fill="#8f86dc" opacity="0.6"/><circle cx="416.57" cy="394.42" r="0.5" fill="#6a62d0" opacity="0.6"/><circle cx="406.37" cy="402.32" r="0.5" fill="#6a62d0" opacity="0.6"/><circle cx="405.84" cy="389.76" r="0.5" fill="#6a62d0" opacity="0.6"/><circle cx="393.38" cy="397.30" r="0.5" fill="#4a4fc0" opacity="0.6"/><circle cx="403.22" cy="401.75" r="0.5" fill="#8f86dc" opacity="0.6"/><circle cx="411.60" cy="397.06" r="0.5" fill="#8f86dc" opacity="0.6"/><circle cx="396.61" cy="401.38" r="0.5" fill="#8f86dc" opacity="0.6"/><circle cx="397.26" cy="398.03" r="0.5" fill="#6a62d0" opacity="0.6"/><circle cx="396.09" cy="401.19" r="0.5" fill="#4a4fc0" opacity="0.6"/><circle cx="418.24" cy="395.81" r="0.5" fill="#3b6fd0" opacity="0.6"/><circle cx="408.86" cy="402.13" r="0.5" fill="#4a4fc0" opacity="0.6"/><circle cx="409.90" cy="399.69" r="0.5" fill="#8f86dc" opacity="0.6"/><circle cx="409.30" cy="403.19" r="0.5" fill="#4a4fc0" opacity="0.6"/><circle cx="401.47" cy="395.00" r="0.5" fill="#3b6fd0" opacity="0.6"/><circle cx="402.79" cy="401.28" r="0.5" fill="#4a4fc0" opacity="0.6"/><circle cx="404.01" cy="398.40" r="0.5" fill="#6a62d0" opacity="0.6"/><circle cx="408.14" cy="389.47" r="0.5" fill="#4a4fc0" opacity="0.6"/><circle cx="416.87" cy="402.32" r="0.5" fill="#8f86dc" opacity="0.6"/><circle cx="403.41" cy="391.04" r="0.5" fill="#3b6fd0" opacity="0.6"/><circle cx="410.66" cy="399.50" r="0.5" fill="#6a62d0" opacity="0.6"/><circle cx="403.28" cy="393.97" r="0.5" fill="#3b6fd0" opacity="0.6"/><circle cx="416.40" cy="393.92" r="0.5" fill="#8f86dc" opacity="0.6"/><circle cx="394.92" cy="396.68" r="0.5" fill="#3b6fd0" opacity="0.6"/><circle cx="401.10" cy="399.03" r="0.5" fill="#4a4fc0" opacity="0.6"/><circle cx="403.52" cy="404.26" r="0.5" fill="#6a62d0" opacity="0.6"/><circle cx="402.55" cy="395.34" r="0.5" fill="#8f86dc" opacity="0.6"/><circle cx="410.30" cy="392.83" r="0.5" fill="#6a62d0" opacity="0.6"/><circle cx="397.20" cy="396.90" r="0.5" fill="#6a62d0" opacity="0.6"/><circle cx="407.24" cy="395.34" r="0.5" fill="#6a62d0" opacity="0.6"/><circle cx="396.16" cy="393.06" r="0.5" fill="#3b6fd0" opacity="0.6"/><circle cx="405.84" cy="390.55" r="0.5" fill="#3b6fd0" opacity="0.6"/><circle cx="419.64" cy="397.92" r="0.5" fill="#3b6fd0" opacity="0.6"/><circle cx="408.15" cy="393.36" r="0.5" fill="#6a62d0" opacity="0.6"/><circle cx="403.02" cy="396.20" r="0.5" fill="#6a62d0" opacity="0.6"/><circle cx="406.06" cy="396.85" r="0.5" fill="#8f86dc" opacity="0.6"/><circle cx="412.31" cy="401.30" r="0.5" fill="#4a4fc0" opacity="0.6"/><circle cx="410.11" cy="397.35" r="0.5" fill="#8f86dc" opacity="0.6"/><circle cx="411.15" cy="401.52" r="0.5" fill="#6a62d0" opacity="0.6"/><circle cx="400.69" cy="399.25" r="0.5" fill="#4a4fc0" opacity="0.6"/><circle cx="414.25" cy="401.17" r="0.5" fill="#6a62d0" opacity="0.6"/><circle cx="411.77" cy="391.65" r="0.5" fill="#3b6fd0" opacity="0.6"/><circle cx="415.34" cy="395.29" r="0.5" fill="#6a62d0" opacity="0.6"/><circle cx="401.96" cy="401.99" r="0.5" fill="#8f86dc" opacity="0.6"/><circle cx="411.41" cy="395.25" r="0.5" fill="#3b6fd0" opacity="0.6"/><circle cx="401.56" cy="398.58" r="0.5" fill="#6a62d0" opacity="0.6"/><circle cx="399.86" cy="391.42" r="0.5" fill="#6a62d0" opacity="0.6"/><circle cx="397.25" cy="392.06" r="0.5" fill="#3b6fd0" opacity="0.6"/><circle cx="412.37" cy="397.05" r="0.5" fill="#6a62d0" opacity="0.6"/><circle cx="407.51" cy="390.55" r="0.5" fill="#3b6fd0" opacity="0.6"/><circle cx="411.77" cy="391.09" r="0.5" fill="#3b6fd0" opacity="0.6"/><circle cx="410.46" cy="397.51" r="0.5" fill="#4a4fc0" opacity="0.6"/><circle cx="394.83" cy="401.27" r="0.5" fill="#8f86dc" opacity="0.6"/><circle cx="408.08" cy="399.92" r="0.5" fill="#6a62d0" opacity="0.6"/><circle cx="400.62" cy="401.54" r="0.5" fill="#8f86dc" opacity="0.6"/><circle cx="411.15" cy="393.87" r="0.5" fill="#6a62d0" opacity="0.6"/><circle cx="418.20" cy="394.48" r="0.5" fill="#8f86dc" opacity="0.6"/><circle cx="411.07" cy="400.77" r="0.5" fill="#3b6fd0" opacity="0.6"/><circle cx="405.94" cy="399.53" r="0.5" fill="#6a62d0" opacity="0.6"/><circle cx="403.69" cy="396.24" r="0.5" fill="#6a62d0" opacity="0.6"/><circle cx="405.41" cy="389.79" r="0.5" fill="#8f86dc" opacity="0.6"/><circle cx="413.56" cy="390.72" r="0.5" fill="#8f86dc" opacity="0.6"/><circle cx="401.72" cy="394.23" r="0.5" fill="#6a62d0" opacity="0.6"/><circle cx="410.91" cy="395.73" r="0.5" fill="#3b6fd0" opacity="0.6"/><circle cx="398.36" cy="390.83" r="0.5" fill="#3b6fd0" opacity="0.6"/><circle cx="395.43" cy="398.82" r="0.5" fill="#8f86dc" opacity="0.6"/><circle cx="395.44" cy="400.15" r="0.5" fill="#6a62d0" opacity="0.6"/><circle cx="401.04" cy="402.31" r="0.5" fill="#3b6fd0" opacity="0.6"/><circle cx="410.36" cy="397.97" r="0.5" fill="#3b6fd0" opacity="0.6"/><circle cx="415.21" cy="394.12" r="0.5" fill="#6a62d0" opacity="0.6"/><circle cx="401.79" cy="390.13" r="0.5" fill="#4a4fc0" opacity="0.6"/><circle cx="416.78" cy="392.08" r="0.5" fill="#4a4fc0" opacity="0.6"/><circle cx="411.35" cy="394.96" r="0.5" fill="#4a4fc0" opacity="0.6"/><circle cx="396.22" cy="394.90" r="0.5" fill="#8f86dc" opacity="0.6"/><circle cx="399.81" cy="397.15" r="0.5" fill="#4a4fc0" opacity="0.6"/><circle cx="405.39" cy="394.68" r="0.5" fill="#6a62d0" opacity="0.6"/><circle cx="413.65" cy="392.44" r="0.5" fill="#8f86dc" opacity="0.6"/><circle cx="417.45" cy="398.89" r="0.5" fill="#8f86dc" opacity="0.6"/><circle cx="406.41" cy="403.91" r="0.5" fill="#6a62d0" opacity="0.6"/><circle cx="394.56" cy="400.38" r="0.5" fill="#8f86dc" opacity="0.6"/><circle cx="412.49" cy="392.53" r="0.5" fill="#6a62d0" opacity="0.6"/><circle cx="409.82" cy="393.12" r="0.5" fill="#6a62d0" opacity="0.6"/><circle cx="402.02" cy="397.02" r="0.5" fill="#8f86dc" opacity="0.6"/><circle cx="415.16" cy="391.07" r="0.5" fill="#4a4fc0" opacity="0.6"/><circle cx="392.86" cy="397.34" r="0.5" fill="#3b6fd0" opacity="0.6"/><circle cx="405.54" cy="395.99" r="0.5" fill="#6a62d0" opacity="0.6"/><circle cx="419.58" cy="398.05" r="0.5" fill="#4a4fc0" opacity="0.6"/><circle cx="395.57" cy="398.74" r="0.5" fill="#3b6fd0" opacity="0.6"/><circle cx="404.01" cy="389.82" r="0.5" fill="#8f86dc" opacity="0.6"/><circle cx="415.65" cy="401.74" r="0.5" fill="#3b6fd0" opacity="0.6"/>
<g filter="url(#blur1)"><ellipse cx="407.70" cy="397.2" rx="13" ry="4.6" fill="#3340b4" opacity="0.85" transform="rotate(-8 407.70 397.2)"/><ellipse cx="405.70" cy="398.3" rx="5" ry="1.8" fill="#2aa0d8" opacity="0.6"/></g>
<g transform="translate(425.90 396.20) rotate(-18)"><g filter="url(#blur06)"><ellipse cx="0.00" cy="0.00" rx="11.00" ry="7.40" fill="#2b2a9a"/><ellipse cx="0.31" cy="0.17" rx="9.24" ry="6.22" fill="#2350c0"/><ellipse cx="0.63" cy="0.34" rx="7.70" ry="5.18" fill="#20a6d2"/><ellipse cx="0.94" cy="0.51" rx="6.16" ry="4.14" fill="#3dbd84"/><ellipse cx="1.26" cy="0.69" rx="4.73" ry="3.18" fill="#86cc3c"/><ellipse cx="1.57" cy="0.86" rx="3.30" ry="2.22" fill="#e6da2a"/><ellipse cx="1.89" cy="1.03" rx="1.87" ry="1.26" fill="#f08a22"/><ellipse cx="2.20" cy="1.20" rx="0.88" ry="0.59" fill="#e02a1a"/></g></g>
<rect x="415.50" y="384.30" width="21.40" height="22.00" fill="none" stroke="#7e7e7e" stroke-width="0.65"/>
<ellipse cx="480.60" cy="396.50" rx="24.00" ry="9.50" fill="#a29ce6" opacity="0.45" filter="url(#blur1)" transform="rotate(0 480.60 396.50)"/>
<circle cx="460.15" cy="400.22" r="0.5" fill="#8f86dc" opacity="0.6"/><circle cx="478.89" cy="393.58" r="0.5" fill="#4a4fc0" opacity="0.6"/><circle cx="471.01" cy="397.27" r="0.5" fill="#8f86dc" opacity="0.6"/><circle cx="474.49" cy="395.38" r="0.5" fill="#8f86dc" opacity="0.6"/><circle cx="473.07" cy="394.57" r="0.5" fill="#6a62d0" opacity="0.6"/><circle cx="475.96" cy="402.22" r="0.5" fill="#4a4fc0" opacity="0.6"/><circle cx="478.84" cy="392.63" r="0.5" fill="#8f86dc" opacity="0.6"/><circle cx="474.42" cy="394.42" r="0.5" fill="#8f86dc" opacity="0.6"/><circle cx="472.06" cy="398.95" r="0.5" fill="#8f86dc" opacity="0.6"/><circle cx="482.83" cy="396.61" r="0.5" fill="#4a4fc0" opacity="0.6"/><circle cx="479.31" cy="399.83" r="0.5" fill="#6a62d0" opacity="0.6"/><circle cx="477.09" cy="393.44" r="0.5" fill="#3b6fd0" opacity="0.6"/><circle cx="468.68" cy="390.80" r="0.5" fill="#3b6fd0" opacity="0.6"/><circle cx="482.74" cy="391.07" r="0.5" fill="#4a4fc0" opacity="0.6"/><circle cx="463.85" cy="399.40" r="0.5" fill="#3b6fd0" opacity="0.6"/><circle cx="464.96" cy="395.16" r="0.5" fill="#4a4fc0" opacity="0.6"/><circle cx="479.20" cy="404.19" r="0.5" fill="#4a4fc0" opacity="0.6"/><circle cx="482.44" cy="399.59" r="0.5" fill="#3b6fd0" opacity="0.6"/><circle cx="462.36" cy="396.06" r="0.5" fill="#4a4fc0" opacity="0.6"/><circle cx="473.02" cy="395.20" r="0.5" fill="#3b6fd0" opacity="0.6"/><circle cx="463.97" cy="395.50" r="0.5" fill="#4a4fc0" opacity="0.6"/><circle cx="462.43" cy="401.52" r="0.5" fill="#4a4fc0" opacity="0.6"/><circle cx="459.77" cy="400.04" r="0.5" fill="#6a62d0" opacity="0.6"/><circle cx="478.99" cy="393.09" r="0.5" fill="#8f86dc" opacity="0.6"/><circle cx="479.47" cy="392.83" r="0.5" fill="#4a4fc0" opacity="0.6"/><circle cx="469.04" cy="400.74" r="0.5" fill="#8f86dc" opacity="0.6"/><circle cx="473.97" cy="402.06" r="0.5" fill="#4a4fc0" opacity="0.6"/><circle cx="465.39" cy="393.09" r="0.5" fill="#3b6fd0" opacity="0.6"/><circle cx="470.92" cy="401.82" r="0.5" fill="#3b6fd0" opacity="0.6"/><circle cx="463.79" cy="397.08" r="0.5" fill="#8f86dc" opacity="0.6"/><circle cx="483.06" cy="399.39" r="0.5" fill="#6a62d0" opacity="0.6"/><circle cx="475.07" cy="391.01" r="0.5" fill="#8f86dc" opacity="0.6"/><circle cx="472.65" cy="403.46" r="0.5" fill="#4a4fc0" opacity="0.6"/><circle cx="460.69" cy="398.41" r="0.5" fill="#3b6fd0" opacity="0.6"/><circle cx="478.00" cy="394.97" r="0.5" fill="#6a62d0" opacity="0.6"/><circle cx="483.04" cy="398.22" r="0.5" fill="#4a4fc0" opacity="0.6"/><circle cx="468.71" cy="396.57" r="0.5" fill="#8f86dc" opacity="0.6"/><circle cx="483.63" cy="397.78" r="0.5" fill="#4a4fc0" opacity="0.6"/><circle cx="464.52" cy="402.38" r="0.5" fill="#3b6fd0" opacity="0.6"/><circle cx="467.88" cy="395.37" r="0.5" fill="#8f86dc" opacity="0.6"/><circle cx="467.40" cy="392.71" r="0.5" fill="#3b6fd0" opacity="0.6"/><circle cx="477.39" cy="391.45" r="0.5" fill="#8f86dc" opacity="0.6"/><circle cx="468.59" cy="397.47" r="0.5" fill="#6a62d0" opacity="0.6"/><circle cx="474.30" cy="401.42" r="0.5" fill="#6a62d0" opacity="0.6"/><circle cx="480.28" cy="398.66" r="0.5" fill="#4a4fc0" opacity="0.6"/><circle cx="468.76" cy="391.63" r="0.5" fill="#6a62d0" opacity="0.6"/><circle cx="477.68" cy="392.08" r="0.5" fill="#8f86dc" opacity="0.6"/><circle cx="479.31" cy="396.18" r="0.5" fill="#6a62d0" opacity="0.6"/><circle cx="468.41" cy="397.01" r="0.5" fill="#3b6fd0" opacity="0.6"/><circle cx="467.96" cy="400.08" r="0.5" fill="#8f86dc" opacity="0.6"/><circle cx="483.34" cy="401.65" r="0.5" fill="#8f86dc" opacity="0.6"/><circle cx="483.64" cy="402.18" r="0.5" fill="#8f86dc" opacity="0.6"/><circle cx="483.49" cy="399.43" r="0.5" fill="#3b6fd0" opacity="0.6"/><circle cx="471.07" cy="397.37" r="0.5" fill="#8f86dc" opacity="0.6"/><circle cx="484.63" cy="397.74" r="0.5" fill="#6a62d0" opacity="0.6"/><circle cx="467.04" cy="392.17" r="0.5" fill="#8f86dc" opacity="0.6"/><circle cx="484.49" cy="397.70" r="0.5" fill="#8f86dc" opacity="0.6"/><circle cx="468.60" cy="401.49" r="0.5" fill="#3b6fd0" opacity="0.6"/><circle cx="478.79" cy="404.44" r="0.5" fill="#3b6fd0" opacity="0.6"/><circle cx="483.74" cy="396.93" r="0.5" fill="#6a62d0" opacity="0.6"/><circle cx="476.14" cy="390.74" r="0.5" fill="#4a4fc0" opacity="0.6"/><circle cx="464.71" cy="393.99" r="0.5" fill="#6a62d0" opacity="0.6"/><circle cx="483.60" cy="391.65" r="0.5" fill="#4a4fc0" opacity="0.6"/><circle cx="464.11" cy="400.68" r="0.5" fill="#6a62d0" opacity="0.6"/><circle cx="481.27" cy="403.51" r="0.5" fill="#8f86dc" opacity="0.6"/><circle cx="466.18" cy="398.85" r="0.5" fill="#4a4fc0" opacity="0.6"/><circle cx="476.52" cy="404.46" r="0.5" fill="#6a62d0" opacity="0.6"/><circle cx="467.60" cy="403.35" r="0.5" fill="#4a4fc0" opacity="0.6"/><circle cx="476.77" cy="394.11" r="0.5" fill="#8f86dc" opacity="0.6"/><circle cx="475.76" cy="401.52" r="0.5" fill="#3b6fd0" opacity="0.6"/><circle cx="465.80" cy="395.27" r="0.5" fill="#4a4fc0" opacity="0.6"/><circle cx="476.91" cy="392.27" r="0.5" fill="#3b6fd0" opacity="0.6"/><circle cx="475.79" cy="400.48" r="0.5" fill="#8f86dc" opacity="0.6"/><circle cx="464.49" cy="396.59" r="0.5" fill="#4a4fc0" opacity="0.6"/><circle cx="468.62" cy="393.23" r="0.5" fill="#8f86dc" opacity="0.6"/><circle cx="473.68" cy="397.77" r="0.5" fill="#6a62d0" opacity="0.6"/><circle cx="477.01" cy="398.03" r="0.5" fill="#8f86dc" opacity="0.6"/><circle cx="465.04" cy="398.37" r="0.5" fill="#3b6fd0" opacity="0.6"/><circle cx="479.97" cy="401.52" r="0.5" fill="#8f86dc" opacity="0.6"/><circle cx="476.85" cy="396.99" r="0.5" fill="#3b6fd0" opacity="0.6"/><circle cx="474.26" cy="393.23" r="0.5" fill="#8f86dc" opacity="0.6"/><circle cx="471.92" cy="399.11" r="0.5" fill="#8f86dc" opacity="0.6"/><circle cx="462.82" cy="398.58" r="0.5" fill="#3b6fd0" opacity="0.6"/><circle cx="460.28" cy="396.04" r="0.5" fill="#6a62d0" opacity="0.6"/><circle cx="465.86" cy="398.12" r="0.5" fill="#6a62d0" opacity="0.6"/><circle cx="482.56" cy="401.58" r="0.5" fill="#4a4fc0" opacity="0.6"/><circle cx="468.42" cy="400.19" r="0.5" fill="#3b6fd0" opacity="0.6"/><circle cx="486.11" cy="395.98" r="0.5" fill="#8f86dc" opacity="0.6"/><circle cx="483.83" cy="393.78" r="0.5" fill="#6a62d0" opacity="0.6"/><circle cx="467.67" cy="404.07" r="0.5" fill="#4a4fc0" opacity="0.6"/><circle cx="477.48" cy="393.01" r="0.5" fill="#6a62d0" opacity="0.6"/><circle cx="474.40" cy="394.20" r="0.5" fill="#3b6fd0" opacity="0.6"/><circle cx="485.06" cy="398.54" r="0.5" fill="#6a62d0" opacity="0.6"/><circle cx="478.46" cy="390.84" r="0.5" fill="#8f86dc" opacity="0.6"/><circle cx="464.29" cy="401.18" r="0.5" fill="#8f86dc" opacity="0.6"/><circle cx="464.67" cy="397.39" r="0.5" fill="#6a62d0" opacity="0.6"/><circle cx="471.97" cy="404.68" r="0.5" fill="#8f86dc" opacity="0.6"/><circle cx="465.59" cy="392.40" r="0.5" fill="#3b6fd0" opacity="0.6"/><circle cx="480.50" cy="403.03" r="0.5" fill="#8f86dc" opacity="0.6"/><circle cx="470.89" cy="394.70" r="0.5" fill="#6a62d0" opacity="0.6"/><circle cx="463.32" cy="399.66" r="0.5" fill="#4a4fc0" opacity="0.6"/><circle cx="470.20" cy="398.84" r="0.5" fill="#3b6fd0" opacity="0.6"/>
<g filter="url(#blur1)"><ellipse cx="474.60" cy="397.2" rx="13" ry="4.6" fill="#3340b4" opacity="0.85" transform="rotate(-8 474.60 397.2)"/><ellipse cx="472.60" cy="398.3" rx="5" ry="1.8" fill="#2aa0d8" opacity="0.6"/></g>
<g transform="translate(492.80 396.20) rotate(-18)"><g filter="url(#blur06)"><ellipse cx="0.00" cy="0.00" rx="11.00" ry="7.40" fill="#2b2a9a"/><ellipse cx="0.31" cy="0.17" rx="9.24" ry="6.22" fill="#2350c0"/><ellipse cx="0.63" cy="0.34" rx="7.70" ry="5.18" fill="#20a6d2"/><ellipse cx="0.94" cy="0.51" rx="6.16" ry="4.14" fill="#3dbd84"/><ellipse cx="1.26" cy="0.69" rx="4.73" ry="3.18" fill="#86cc3c"/><ellipse cx="1.57" cy="0.86" rx="3.30" ry="2.22" fill="#e6da2a"/><ellipse cx="1.89" cy="1.03" rx="1.87" ry="1.26" fill="#f08a22"/><ellipse cx="2.20" cy="1.20" rx="0.88" ry="0.59" fill="#e02a1a"/></g></g>
<rect x="482.40" y="384.30" width="21.40" height="22.00" fill="none" stroke="#7e7e7e" stroke-width="0.65"/>
<text x="300.90" y="362.30" font-size="7.4" text-anchor="end" textLength="12.60" lengthAdjust="spacingAndGlyphs" stroke="#222" stroke-width="0.12">0,18</text>
<text x="368.80" y="362.30" font-size="7.4" text-anchor="end" textLength="12.60" lengthAdjust="spacingAndGlyphs" stroke="#222" stroke-width="0.12">83,7</text>
<text x="436.90" y="362.30" font-size="7.4" text-anchor="end" textLength="12.60" lengthAdjust="spacingAndGlyphs" stroke="#222" stroke-width="0.12">84,1</text>
<text x="503.80" y="362.30" font-size="7.4" text-anchor="end" textLength="12.60" lengthAdjust="spacingAndGlyphs" stroke="#222" stroke-width="0.12">82,8</text>
<ellipse cx="277.70" cy="471.00" rx="14.00" ry="10.00" fill="#b0a8ea" opacity="0.35" filter="url(#blur1)" transform="rotate(0 277.70 471.00)"/>
<g transform="translate(276.70 471.00) rotate(0)"><circle cx="9.49" cy="-6.69" r="0.35" fill="#9a90dc" opacity="0.55"/><circle cx="6.16" cy="0.99" r="0.35" fill="#9a90dc" opacity="0.55"/><circle cx="2.82" cy="-8.01" r="0.35" fill="#9a90dc" opacity="0.55"/><circle cx="8.98" cy="1.67" r="0.35" fill="#9a90dc" opacity="0.55"/><circle cx="0.98" cy="6.52" r="0.35" fill="#9a90dc" opacity="0.55"/><circle cx="1.45" cy="0.86" r="0.35" fill="#9a90dc" opacity="0.55"/><circle cx="7.30" cy="-0.33" r="0.35" fill="#9a90dc" opacity="0.55"/><circle cx="3.26" cy="-2.40" r="0.35" fill="#9a90dc" opacity="0.55"/><circle cx="-4.78" cy="0.29" r="0.35" fill="#9a90dc" opacity="0.55"/><circle cx="-4.95" cy="1.84" r="0.35" fill="#9a90dc" opacity="0.55"/><circle cx="-1.97" cy="-3.53" r="0.35" fill="#9a90dc" opacity="0.55"/><circle cx="-0.68" cy="-7.06" r="0.35" fill="#9a90dc" opacity="0.55"/><circle cx="5.88" cy="3.86" r="0.35" fill="#9a90dc" opacity="0.55"/><circle cx="-12.46" cy="0.22" r="0.35" fill="#9a90dc" opacity="0.55"/><circle cx="-3.53" cy="3.76" r="0.35" fill="#9a90dc" opacity="0.55"/><circle cx="11.96" cy="-1.91" r="0.35" fill="#9a90dc" opacity="0.55"/><circle cx="-0.79" cy="-5.19" r="0.35" fill="#9a90dc" opacity="0.55"/><circle cx="2.95" cy="4.62" r="0.35" fill="#9a90dc" opacity="0.55"/><circle cx="2.45" cy="0.87" r="0.35" fill="#9a90dc" opacity="0.55"/><circle cx="-8.29" cy="-0.35" r="0.35" fill="#9a90dc" opacity="0.55"/><circle cx="-7.34" cy="-2.10" r="0.35" fill="#9a90dc" opacity="0.55"/><circle cx="10.76" cy="0.55" r="0.35" fill="#9a90dc" opacity="0.55"/><circle cx="-5.48" cy="-6.05" r="0.35" fill="#9a90dc" opacity="0.55"/><circle cx="-10.30" cy="-2.51" r="0.35" fill="#9a90dc" opacity="0.55"/><circle cx="12.08" cy="-1.03" r="0.35" fill="#9a90dc" opacity="0.55"/><circle cx="-1.65" cy="-6.19" r="0.35" fill="#9a90dc" opacity="0.55"/><circle cx="-3.50" cy="5.89" r="0.35" fill="#9a90dc" opacity="0.55"/><circle cx="7.97" cy="-1.05" r="0.35" fill="#9a90dc" opacity="0.55"/><circle cx="-6.26" cy="4.22" r="0.35" fill="#9a90dc" opacity="0.55"/><circle cx="8.09" cy="7.82" r="0.35" fill="#9a90dc" opacity="0.55"/><circle cx="10.13" cy="0.26" r="0.35" fill="#9a90dc" opacity="0.55"/><circle cx="5.87" cy="-2.25" r="0.35" fill="#9a90dc" opacity="0.55"/><circle cx="-6.12" cy="-3.94" r="0.35" fill="#9a90dc" opacity="0.55"/><circle cx="0.34" cy="4.45" r="0.35" fill="#9a90dc" opacity="0.55"/><circle cx="8.90" cy="6.12" r="0.35" fill="#9a90dc" opacity="0.55"/><circle cx="2.62" cy="-9.32" r="0.35" fill="#9a90dc" opacity="0.55"/><circle cx="10.31" cy="2.55" r="0.35" fill="#9a90dc" opacity="0.55"/><circle cx="-4.71" cy="7.18" r="0.35" fill="#9a90dc" opacity="0.55"/><circle cx="-6.96" cy="-1.70" r="0.35" fill="#9a90dc" opacity="0.55"/><circle cx="0.39" cy="-0.05" r="0.35" fill="#9a90dc" opacity="0.55"/><circle cx="-0.29" cy="-9.24" r="0.35" fill="#9a90dc" opacity="0.55"/><circle cx="-9.98" cy="-0.49" r="0.35" fill="#9a90dc" opacity="0.55"/><circle cx="6.29" cy="-0.16" r="0.35" fill="#9a90dc" opacity="0.55"/><circle cx="-7.70" cy="-6.27" r="0.35" fill="#9a90dc" opacity="0.55"/><circle cx="-7.94" cy="5.82" r="0.35" fill="#9a90dc" opacity="0.55"/><circle cx="-7.40" cy="4.50" r="0.35" fill="#9a90dc" opacity="0.55"/><circle cx="-8.12" cy="-5.36" r="0.35" fill="#9a90dc" opacity="0.55"/><circle cx="-4.51" cy="7.13" r="0.35" fill="#9a90dc" opacity="0.55"/><circle cx="-5.92" cy="-1.26" r="0.35" fill="#9a90dc" opacity="0.55"/><circle cx="-5.09" cy="-3.34" r="0.35" fill="#9a90dc" opacity="0.55"/><circle cx="7.51" cy="-3.73" r="0.35" fill="#9a90dc" opacity="0.55"/><circle cx="-1.67" cy="-7.11" r="0.35" fill="#9a90dc" opacity="0.55"/><circle cx="-6.05" cy="0.69" r="0.35" fill="#9a90dc" opacity="0.55"/><circle cx="7.85" cy="7.50" r="0.35" fill="#9a90dc" opacity="0.55"/><circle cx="-9.26" cy="-1.30" r="0.35" fill="#9a90dc" opacity="0.55"/><circle cx="-11.55" cy="-1.55" r="0.35" fill="#9a90dc" opacity="0.55"/><circle cx="0.38" cy="4.14" r="0.35" fill="#9a90dc" opacity="0.55"/><circle cx="3.85" cy="-6.10" r="0.35" fill="#9a90dc" opacity="0.55"/><circle cx="-7.51" cy="-7.03" r="0.35" fill="#9a90dc" opacity="0.55"/><circle cx="9.52" cy="-5.75" r="0.35" fill="#9a90dc" opacity="0.55"/><circle cx="7.73" cy="1.66" r="0.35" fill="#9a90dc" opacity="0.55"/><circle cx="5.80" cy="-7.87" r="0.35" fill="#9a90dc" opacity="0.55"/><circle cx="3.65" cy="2.74" r="0.35" fill="#9a90dc" opacity="0.55"/><circle cx="-0.04" cy="3.21" r="0.35" fill="#9a90dc" opacity="0.55"/><circle cx="-7.24" cy="7.02" r="0.35" fill="#9a90dc" opacity="0.55"/><circle cx="-8.67" cy="-0.90" r="0.35" fill="#9a90dc" opacity="0.55"/><circle cx="6.96" cy="3.30" r="0.35" fill="#9a90dc" opacity="0.55"/><circle cx="10.84" cy="-0.16" r="0.35" fill="#9a90dc" opacity="0.55"/><circle cx="-8.54" cy="2.17" r="0.35" fill="#9a90dc" opacity="0.55"/><circle cx="3.38" cy="-8.31" r="0.35" fill="#9a90dc" opacity="0.55"/><circle cx="6.31" cy="6.67" r="0.35" fill="#9a90dc" opacity="0.55"/><circle cx="-6.29" cy="5.35" r="0.35" fill="#9a90dc" opacity="0.55"/><circle cx="0.61" cy="6.07" r="0.35" fill="#9a90dc" opacity="0.55"/><circle cx="-4.30" cy="5.21" r="0.35" fill="#9a90dc" opacity="0.55"/><circle cx="5.79" cy="0.50" r="0.35" fill="#9a90dc" opacity="0.55"/><circle cx="-2.82" cy="-1.03" r="0.35" fill="#9a90dc" opacity="0.55"/><circle cx="4.79" cy="7.63" r="0.35" fill="#9a90dc" opacity="0.55"/><circle cx="-1.14" cy="5.62" r="0.35" fill="#9a90dc" opacity="0.55"/><circle cx="0.61" cy="9.12" r="0.35" fill="#9a90dc" opacity="0.55"/><circle cx="8.71" cy="4.33" r="0.35" fill="#9a90dc" opacity="0.55"/><circle cx="3.69" cy="-3.48" r="0.35" fill="#9a90dc" opacity="0.55"/><circle cx="-10.25" cy="4.13" r="0.35" fill="#9a90dc" opacity="0.55"/><circle cx="-5.85" cy="-4.11" r="0.35" fill="#9a90dc" opacity="0.55"/><circle cx="8.32" cy="1.81" r="0.35" fill="#9a90dc" opacity="0.55"/><circle cx="-7.37" cy="6.25" r="0.35" fill="#9a90dc" opacity="0.55"/><circle cx="-2.33" cy="6.13" r="0.35" fill="#9a90dc" opacity="0.55"/><circle cx="-6.99" cy="-7.22" r="0.35" fill="#9a90dc" opacity="0.55"/><circle cx="-4.84" cy="4.97" r="0.35" fill="#9a90dc" opacity="0.55"/><circle cx="-11.00" cy="-4.56" r="0.35" fill="#9a90dc" opacity="0.55"/><circle cx="4.60" cy="9.20" r="0.35" fill="#9a90dc" opacity="0.55"/><circle cx="-1.88" cy="-5.93" r="0.35" fill="#9a90dc" opacity="0.55"/><circle cx="-3.77" cy="-4.95" r="0.35" fill="#9a90dc" opacity="0.55"/><circle cx="10.20" cy="3.74" r="0.35" fill="#9a90dc" opacity="0.55"/><circle cx="-6.85" cy="4.98" r="0.35" fill="#9a90dc" opacity="0.55"/><circle cx="-12.34" cy="0.20" r="0.35" fill="#9a90dc" opacity="0.55"/><circle cx="0.09" cy="-1.60" r="0.35" fill="#9a90dc" opacity="0.55"/><circle cx="-7.38" cy="-3.74" r="0.35" fill="#9a90dc" opacity="0.55"/><circle cx="-11.58" cy="2.16" r="0.35" fill="#9a90dc" opacity="0.55"/><circle cx="-7.70" cy="3.51" r="0.35" fill="#9a90dc" opacity="0.55"/><circle cx="6.66" cy="-4.22" r="0.35" fill="#9a90dc" opacity="0.55"/><circle cx="-9.29" cy="0.39" r="0.35" fill="#9a90dc" opacity="0.55"/><circle cx="4.81" cy="-7.30" r="0.35" fill="#9a90dc" opacity="0.55"/><circle cx="-0.49" cy="-6.33" r="0.35" fill="#9a90dc" opacity="0.55"/><circle cx="10.37" cy="2.08" r="0.35" fill="#9a90dc" opacity="0.55"/><circle cx="-10.76" cy="-2.91" r="0.35" fill="#9a90dc" opacity="0.55"/><circle cx="0.56" cy="-3.41" r="0.35" fill="#9a90dc" opacity="0.55"/><circle cx="0.66" cy="2.73" r="0.35" fill="#9a90dc" opacity="0.55"/><circle cx="1.71" cy="-2.91" r="0.35" fill="#9a90dc" opacity="0.55"/><circle cx="9.59" cy="4.57" r="0.35" fill="#9a90dc" opacity="0.55"/><circle cx="-2.80" cy="-0.92" r="0.35" fill="#9a90dc" opacity="0.55"/><circle cx="-4.61" cy="-7.65" r="0.35" fill="#9a90dc" opacity="0.55"/><circle cx="-3.02" cy="0.25" r="0.35" fill="#9a90dc" opacity="0.55"/><circle cx="-3.04" cy="-6.03" r="0.35" fill="#9a90dc" opacity="0.55"/><circle cx="-11.22" cy="-5.03" r="0.35" fill="#9a90dc" opacity="0.55"/><circle cx="4.95" cy="-8.53" r="0.35" fill="#9a90dc" opacity="0.55"/><circle cx="4.59" cy="4.58" r="0.35" fill="#9a90dc" opacity="0.55"/><circle cx="-1.00" cy="-0.09" r="0.35" fill="#9a90dc" opacity="0.55"/><circle cx="6.80" cy="-0.37" r="0.35" fill="#9a90dc" opacity="0.55"/><circle cx="-0.56" cy="5.58" r="0.35" fill="#9a90dc" opacity="0.55"/><circle cx="-0.38" cy="9.26" r="0.35" fill="#9a90dc" opacity="0.55"/></g>
<ellipse cx="289.20" cy="470.70" rx="7.50" ry="12.50" fill="#a29ce6" opacity="0.6" filter="url(#blur1)" transform="rotate(28 289.20 470.70)"/>
<g transform="translate(289.50 470.40) rotate(28)"><g filter="url(#blur04)"><ellipse cx="-0.00" cy="0.00" rx="6.20" ry="11.20" fill="#2b2a9a"/><ellipse cx="-0.07" cy="0.07" rx="5.21" ry="9.41" fill="#2350c0"/><ellipse cx="-0.14" cy="0.14" rx="4.34" ry="7.84" fill="#20a6d2"/><ellipse cx="-0.21" cy="0.21" rx="3.47" ry="6.27" fill="#3dbd84"/><ellipse cx="-0.29" cy="0.29" rx="2.67" ry="4.82" fill="#86cc3c"/><ellipse cx="-0.36" cy="0.36" rx="1.86" ry="3.36" fill="#e6da2a"/><ellipse cx="-0.43" cy="0.43" rx="1.05" ry="1.90" fill="#f08a22"/><ellipse cx="-0.50" cy="0.50" rx="0.50" ry="0.90" fill="#e02a1a"/></g></g>
<polygon points="258.10,486.30 263.10,464.30 285.30,458.30 281.70,486.30" fill="none" stroke="#7e7e7e" stroke-width="0.75"/>
<polygon points="285.30,458.30 302.90,458.30 302.30,486.30 281.70,486.30" fill="none" stroke="#7e7e7e" stroke-width="0.75"/>
<ellipse cx="350.90" cy="479.00" rx="13.00" ry="7.00" fill="#a29ce6" opacity="0.4" filter="url(#blur1)" transform="rotate(0 350.90 479.00)"/>
<g transform="translate(350.90 478.00) rotate(0)"><circle cx="-8.06" cy="-1.72" r="0.35" fill="#8d84d8" opacity="0.5"/><circle cx="-2.38" cy="0.76" r="0.35" fill="#8d84d8" opacity="0.5"/><circle cx="-3.75" cy="6.14" r="0.35" fill="#8d84d8" opacity="0.5"/><circle cx="3.56" cy="-6.14" r="0.35" fill="#8d84d8" opacity="0.5"/><circle cx="-0.24" cy="3.14" r="0.35" fill="#8d84d8" opacity="0.5"/><circle cx="8.33" cy="1.65" r="0.35" fill="#8d84d8" opacity="0.5"/><circle cx="-5.74" cy="3.40" r="0.35" fill="#8d84d8" opacity="0.5"/><circle cx="-9.15" cy="0.37" r="0.35" fill="#8d84d8" opacity="0.5"/><circle cx="-7.14" cy="4.68" r="0.35" fill="#8d84d8" opacity="0.5"/><circle cx="3.54" cy="6.39" r="0.35" fill="#8d84d8" opacity="0.5"/><circle cx="-2.55" cy="-0.55" r="0.35" fill="#8d84d8" opacity="0.5"/><circle cx="-3.44" cy="4.70" r="0.35" fill="#8d84d8" opacity="0.5"/><circle cx="-7.58" cy="2.85" r="0.35" fill="#8d84d8" opacity="0.5"/><circle cx="-2.80" cy="3.28" r="0.35" fill="#8d84d8" opacity="0.5"/><circle cx="1.85" cy="-3.62" r="0.35" fill="#8d84d8" opacity="0.5"/><circle cx="-2.64" cy="-6.08" r="0.35" fill="#8d84d8" opacity="0.5"/><circle cx="-6.77" cy="-2.58" r="0.35" fill="#8d84d8" opacity="0.5"/><circle cx="7.34" cy="-1.86" r="0.35" fill="#8d84d8" opacity="0.5"/><circle cx="2.08" cy="-1.17" r="0.35" fill="#8d84d8" opacity="0.5"/><circle cx="-8.77" cy="2.26" r="0.35" fill="#8d84d8" opacity="0.5"/><circle cx="10.62" cy="1.97" r="0.35" fill="#8d84d8" opacity="0.5"/><circle cx="8.34" cy="2.36" r="0.35" fill="#8d84d8" opacity="0.5"/><circle cx="4.90" cy="6.09" r="0.35" fill="#8d84d8" opacity="0.5"/><circle cx="-9.96" cy="-2.34" r="0.35" fill="#8d84d8" opacity="0.5"/><circle cx="-9.85" cy="0.06" r="0.35" fill="#8d84d8" opacity="0.5"/><circle cx="-2.96" cy="-3.39" r="0.35" fill="#8d84d8" opacity="0.5"/><circle cx="2.66" cy="6.22" r="0.35" fill="#8d84d8" opacity="0.5"/><circle cx="7.00" cy="5.32" r="0.35" fill="#8d84d8" opacity="0.5"/><circle cx="1.02" cy="2.14" r="0.35" fill="#8d84d8" opacity="0.5"/><circle cx="8.78" cy="3.49" r="0.35" fill="#8d84d8" opacity="0.5"/><circle cx="7.36" cy="-1.37" r="0.35" fill="#8d84d8" opacity="0.5"/><circle cx="-3.30" cy="-2.99" r="0.35" fill="#8d84d8" opacity="0.5"/><circle cx="8.25" cy="-3.23" r="0.35" fill="#8d84d8" opacity="0.5"/><circle cx="1.61" cy="1.38" r="0.35" fill="#8d84d8" opacity="0.5"/><circle cx="-0.82" cy="-1.35" r="0.35" fill="#8d84d8" opacity="0.5"/><circle cx="3.35" cy="-3.25" r="0.35" fill="#8d84d8" opacity="0.5"/><circle cx="1.00" cy="5.31" r="0.35" fill="#8d84d8" opacity="0.5"/><circle cx="-3.76" cy="4.76" r="0.35" fill="#8d84d8" opacity="0.5"/><circle cx="6.50" cy="5.50" r="0.35" fill="#8d84d8" opacity="0.5"/><circle cx="-4.96" cy="5.73" r="0.35" fill="#8d84d8" opacity="0.5"/><circle cx="6.20" cy="5.11" r="0.35" fill="#8d84d8" opacity="0.5"/><circle cx="7.45" cy="-0.55" r="0.35" fill="#8d84d8" opacity="0.5"/><circle cx="7.24" cy="0.89" r="0.35" fill="#8d84d8" opacity="0.5"/><circle cx="-3.59" cy="-2.56" r="0.35" fill="#8d84d8" opacity="0.5"/><circle cx="-3.52" cy="-0.61" r="0.35" fill="#8d84d8" opacity="0.5"/><circle cx="-9.99" cy="1.32" r="0.35" fill="#8d84d8" opacity="0.5"/><circle cx="-8.94" cy="2.46" r="0.35" fill="#8d84d8" opacity="0.5"/><circle cx="8.22" cy="4.19" r="0.35" fill="#8d84d8" opacity="0.5"/><circle cx="8.30" cy="4.67" r="0.35" fill="#8d84d8" opacity="0.5"/><circle cx="11.63" cy="-0.17" r="0.35" fill="#8d84d8" opacity="0.5"/><circle cx="-6.38" cy="-0.62" r="0.35" fill="#8d84d8" opacity="0.5"/><circle cx="-6.00" cy="4.95" r="0.35" fill="#8d84d8" opacity="0.5"/><circle cx="-11.57" cy="0.15" r="0.35" fill="#8d84d8" opacity="0.5"/><circle cx="6.97" cy="2.69" r="0.35" fill="#8d84d8" opacity="0.5"/><circle cx="6.09" cy="-4.08" r="0.35" fill="#8d84d8" opacity="0.5"/><circle cx="-3.45" cy="-0.53" r="0.35" fill="#8d84d8" opacity="0.5"/><circle cx="3.99" cy="2.80" r="0.35" fill="#8d84d8" opacity="0.5"/><circle cx="8.64" cy="-4.01" r="0.35" fill="#8d84d8" opacity="0.5"/><circle cx="1.65" cy="6.66" r="0.35" fill="#8d84d8" opacity="0.5"/><circle cx="9.09" cy="1.10" r="0.35" fill="#8d84d8" opacity="0.5"/></g>
<ellipse cx="344.90" cy="481.8" rx="5" ry="1.8" fill="#3a30a8" opacity="0.75" filter="url(#blur06)"/>
<g transform="translate(352.90 480.20) rotate(-24)"><g filter="url(#blur04)"><ellipse cx="-0.00" cy="0.00" rx="10.00" ry="4.80" fill="#2b2a9a"/><ellipse cx="-0.04" cy="0.09" rx="8.40" ry="4.03" fill="#2350c0"/><ellipse cx="-0.09" cy="0.17" rx="7.00" ry="3.36" fill="#20a6d2"/><ellipse cx="-0.13" cy="0.26" rx="5.60" ry="2.69" fill="#3dbd84"/><ellipse cx="-0.17" cy="0.34" rx="4.30" ry="2.06" fill="#86cc3c"/><ellipse cx="-0.21" cy="0.43" rx="3.00" ry="1.44" fill="#e6da2a"/><ellipse cx="-0.26" cy="0.51" rx="1.70" ry="0.82" fill="#f08a22"/><ellipse cx="-0.30" cy="0.60" rx="0.80" ry="0.38" fill="#e02a1a"/></g></g>
<polygon points="326.00,486.30 331.00,464.30 353.20,458.30 349.60,486.30" fill="none" stroke="#7e7e7e" stroke-width="0.75"/>
<polygon points="353.20,458.30 370.80,458.30 370.20,486.30 349.60,486.30" fill="none" stroke="#7e7e7e" stroke-width="0.75"/>
<ellipse cx="408.70" cy="479.00" rx="13.00" ry="7.00" fill="#a29ce6" opacity="0.4" filter="url(#blur1)" transform="rotate(0 408.70 479.00)"/>
<g transform="translate(408.70 478.00) rotate(0)"><circle cx="6.89" cy="-0.84" r="0.35" fill="#8d84d8" opacity="0.5"/><circle cx="9.14" cy="-1.94" r="0.35" fill="#8d84d8" opacity="0.5"/><circle cx="6.59" cy="1.25" r="0.35" fill="#8d84d8" opacity="0.5"/><circle cx="-5.67" cy="1.08" r="0.35" fill="#8d84d8" opacity="0.5"/><circle cx="-0.24" cy="-2.96" r="0.35" fill="#8d84d8" opacity="0.5"/><circle cx="1.54" cy="-3.72" r="0.35" fill="#8d84d8" opacity="0.5"/><circle cx="8.13" cy="2.21" r="0.35" fill="#8d84d8" opacity="0.5"/><circle cx="7.35" cy="2.94" r="0.35" fill="#8d84d8" opacity="0.5"/><circle cx="2.19" cy="-5.25" r="0.35" fill="#8d84d8" opacity="0.5"/><circle cx="-2.14" cy="0.31" r="0.35" fill="#8d84d8" opacity="0.5"/><circle cx="-3.73" cy="-0.18" r="0.35" fill="#8d84d8" opacity="0.5"/><circle cx="-2.63" cy="-2.03" r="0.35" fill="#8d84d8" opacity="0.5"/><circle cx="-6.29" cy="-1.96" r="0.35" fill="#8d84d8" opacity="0.5"/><circle cx="-6.90" cy="4.04" r="0.35" fill="#8d84d8" opacity="0.5"/><circle cx="2.55" cy="2.47" r="0.35" fill="#8d84d8" opacity="0.5"/><circle cx="6.45" cy="-1.45" r="0.35" fill="#8d84d8" opacity="0.5"/><circle cx="6.15" cy="-5.47" r="0.35" fill="#8d84d8" opacity="0.5"/><circle cx="-4.60" cy="0.33" r="0.35" fill="#8d84d8" opacity="0.5"/><circle cx="9.34" cy="3.66" r="0.35" fill="#8d84d8" opacity="0.5"/><circle cx="6.27" cy="3.31" r="0.35" fill="#8d84d8" opacity="0.5"/><circle cx="-4.01" cy="-0.54" r="0.35" fill="#8d84d8" opacity="0.5"/><circle cx="-4.76" cy="0.57" r="0.35" fill="#8d84d8" opacity="0.5"/><circle cx="-8.33" cy="-1.10" r="0.35" fill="#8d84d8" opacity="0.5"/><circle cx="-3.58" cy="2.31" r="0.35" fill="#8d84d8" opacity="0.5"/><circle cx="-4.45" cy="1.80" r="0.35" fill="#8d84d8" opacity="0.5"/><circle cx="4.10" cy="2.46" r="0.35" fill="#8d84d8" opacity="0.5"/><circle cx="5.88" cy="-3.58" r="0.35" fill="#8d84d8" opacity="0.5"/><circle cx="1.14" cy="-0.55" r="0.35" fill="#8d84d8" opacity="0.5"/><circle cx="7.86" cy="-1.71" r="0.35" fill="#8d84d8" opacity="0.5"/><circle cx="2.31" cy="-5.11" r="0.35" fill="#8d84d8" opacity="0.5"/><circle cx="-2.15" cy="-3.11" r="0.35" fill="#8d84d8" opacity="0.5"/><circle cx="0.00" cy="-2.74" r="0.35" fill="#8d84d8" opacity="0.5"/><circle cx="-0.19" cy="1.23" r="0.35" fill="#8d84d8" opacity="0.5"/><circle cx="-6.77" cy="3.13" r="0.35" fill="#8d84d8" opacity="0.5"/><circle cx="-2.95" cy="6.38" r="0.35" fill="#8d84d8" opacity="0.5"/><circle cx="7.88" cy="2.69" r="0.35" fill="#8d84d8" opacity="0.5"/><circle cx="0.93" cy="5.37" r="0.35" fill="#8d84d8" opacity="0.5"/><circle cx="2.15" cy="-5.77" r="0.35" fill="#8d84d8" opacity="0.5"/><circle cx="5.50" cy="1.32" r="0.35" fill="#8d84d8" opacity="0.5"/><circle cx="-9.66" cy="-4.05" r="0.35" fill="#8d84d8" opacity="0.5"/><circle cx="9.12" cy="1.41" r="0.35" fill="#8d84d8" opacity="0.5"/><circle cx="-3.87" cy="-5.90" r="0.35" fill="#8d84d8" opacity="0.5"/><circle cx="-5.91" cy="5.28" r="0.35" fill="#8d84d8" opacity="0.5"/><circle cx="-11.19" cy="1.60" r="0.35" fill="#8d84d8" opacity="0.5"/><circle cx="11.61" cy="0.46" r="0.35" fill="#8d84d8" opacity="0.5"/><circle cx="-6.51" cy="2.35" r="0.35" fill="#8d84d8" opacity="0.5"/><circle cx="5.05" cy="1.82" r="0.35" fill="#8d84d8" opacity="0.5"/><circle cx="-1.01" cy="-5.74" r="0.35" fill="#8d84d8" opacity="0.5"/><circle cx="4.09" cy="3.34" r="0.35" fill="#8d84d8" opacity="0.5"/><circle cx="3.40" cy="2.41" r="0.35" fill="#8d84d8" opacity="0.5"/><circle cx="1.31" cy="3.95" r="0.35" fill="#8d84d8" opacity="0.5"/><circle cx="11.85" cy="-1.05" r="0.35" fill="#8d84d8" opacity="0.5"/><circle cx="2.15" cy="-4.68" r="0.35" fill="#8d84d8" opacity="0.5"/><circle cx="-10.59" cy="0.10" r="0.35" fill="#8d84d8" opacity="0.5"/><circle cx="8.72" cy="-3.31" r="0.35" fill="#8d84d8" opacity="0.5"/><circle cx="-3.51" cy="-2.36" r="0.35" fill="#8d84d8" opacity="0.5"/><circle cx="-7.80" cy="-4.56" r="0.35" fill="#8d84d8" opacity="0.5"/><circle cx="0.83" cy="-2.07" r="0.35" fill="#8d84d8" opacity="0.5"/><circle cx="-1.44" cy="-4.05" r="0.35" fill="#8d84d8" opacity="0.5"/><circle cx="6.18" cy="5.86" r="0.35" fill="#8d84d8" opacity="0.5"/></g>
<ellipse cx="417.70" cy="481.8" rx="5" ry="1.8" fill="#3a30a8" opacity="0.75" filter="url(#blur06)"/>
<g transform="translate(410.70 480.20) rotate(-24)"><g filter="url(#blur04)"><ellipse cx="-0.00" cy="0.00" rx="10.00" ry="4.80" fill="#2b2a9a"/><ellipse cx="-0.04" cy="0.09" rx="8.40" ry="4.03" fill="#2350c0"/><ellipse cx="-0.09" cy="0.17" rx="7.00" ry="3.36" fill="#20a6d2"/><ellipse cx="-0.13" cy="0.26" rx="5.60" ry="2.69" fill="#3dbd84"/><ellipse cx="-0.17" cy="0.34" rx="4.30" ry="2.06" fill="#86cc3c"/><ellipse cx="-0.21" cy="0.43" rx="3.00" ry="1.44" fill="#e6da2a"/><ellipse cx="-0.26" cy="0.51" rx="1.70" ry="0.82" fill="#f08a22"/><ellipse cx="-0.30" cy="0.60" rx="0.80" ry="0.38" fill="#e02a1a"/></g></g>
<polygon points="394.10,486.30 399.10,464.30 421.30,458.30 417.70,486.30" fill="none" stroke="#7e7e7e" stroke-width="0.75"/>
<polygon points="421.30,458.30 438.90,458.30 438.30,486.30 417.70,486.30" fill="none" stroke="#7e7e7e" stroke-width="0.75"/>
<ellipse cx="475.60" cy="479.00" rx="13.00" ry="7.00" fill="#a29ce6" opacity="0.4" filter="url(#blur1)" transform="rotate(0 475.60 479.00)"/>
<g transform="translate(475.60 478.00) rotate(0)"><circle cx="-4.84" cy="-5.35" r="0.35" fill="#8d84d8" opacity="0.5"/><circle cx="7.23" cy="4.78" r="0.35" fill="#8d84d8" opacity="0.5"/><circle cx="10.54" cy="-2.56" r="0.35" fill="#8d84d8" opacity="0.5"/><circle cx="-0.35" cy="-6.38" r="0.35" fill="#8d84d8" opacity="0.5"/><circle cx="2.97" cy="-5.09" r="0.35" fill="#8d84d8" opacity="0.5"/><circle cx="-10.01" cy="2.51" r="0.35" fill="#8d84d8" opacity="0.5"/><circle cx="2.40" cy="-6.38" r="0.35" fill="#8d84d8" opacity="0.5"/><circle cx="-3.56" cy="6.54" r="0.35" fill="#8d84d8" opacity="0.5"/><circle cx="-11.44" cy="-1.35" r="0.35" fill="#8d84d8" opacity="0.5"/><circle cx="8.82" cy="4.58" r="0.35" fill="#8d84d8" opacity="0.5"/><circle cx="1.41" cy="-3.42" r="0.35" fill="#8d84d8" opacity="0.5"/><circle cx="3.05" cy="-2.87" r="0.35" fill="#8d84d8" opacity="0.5"/><circle cx="2.61" cy="4.49" r="0.35" fill="#8d84d8" opacity="0.5"/><circle cx="0.71" cy="4.90" r="0.35" fill="#8d84d8" opacity="0.5"/><circle cx="8.32" cy="-3.16" r="0.35" fill="#8d84d8" opacity="0.5"/><circle cx="-1.85" cy="-4.25" r="0.35" fill="#8d84d8" opacity="0.5"/><circle cx="2.26" cy="-6.10" r="0.35" fill="#8d84d8" opacity="0.5"/><circle cx="-4.77" cy="-6.20" r="0.35" fill="#8d84d8" opacity="0.5"/><circle cx="3.51" cy="-3.97" r="0.35" fill="#8d84d8" opacity="0.5"/><circle cx="8.28" cy="2.94" r="0.35" fill="#8d84d8" opacity="0.5"/><circle cx="3.61" cy="-3.49" r="0.35" fill="#8d84d8" opacity="0.5"/><circle cx="-9.08" cy="-3.59" r="0.35" fill="#8d84d8" opacity="0.5"/><circle cx="0.21" cy="-0.45" r="0.35" fill="#8d84d8" opacity="0.5"/><circle cx="-1.53" cy="0.06" r="0.35" fill="#8d84d8" opacity="0.5"/><circle cx="8.31" cy="4.04" r="0.35" fill="#8d84d8" opacity="0.5"/><circle cx="-8.14" cy="2.66" r="0.35" fill="#8d84d8" opacity="0.5"/><circle cx="-6.70" cy="1.07" r="0.35" fill="#8d84d8" opacity="0.5"/><circle cx="1.62" cy="4.06" r="0.35" fill="#8d84d8" opacity="0.5"/><circle cx="5.29" cy="-4.57" r="0.35" fill="#8d84d8" opacity="0.5"/><circle cx="-0.93" cy="2.00" r="0.35" fill="#8d84d8" opacity="0.5"/><circle cx="-1.32" cy="5.81" r="0.35" fill="#8d84d8" opacity="0.5"/><circle cx="-9.12" cy="2.03" r="0.35" fill="#8d84d8" opacity="0.5"/><circle cx="1.46" cy="-2.28" r="0.35" fill="#8d84d8" opacity="0.5"/><circle cx="-1.00" cy="-1.30" r="0.35" fill="#8d84d8" opacity="0.5"/><circle cx="2.28" cy="-2.69" r="0.35" fill="#8d84d8" opacity="0.5"/><circle cx="-1.58" cy="6.79" r="0.35" fill="#8d84d8" opacity="0.5"/><circle cx="-3.69" cy="2.52" r="0.35" fill="#8d84d8" opacity="0.5"/><circle cx="7.22" cy="-3.49" r="0.35" fill="#8d84d8" opacity="0.5"/><circle cx="5.92" cy="-2.72" r="0.35" fill="#8d84d8" opacity="0.5"/><circle cx="-11.73" cy="0.01" r="0.35" fill="#8d84d8" opacity="0.5"/><circle cx="-11.92" cy="-0.30" r="0.35" fill="#8d84d8" opacity="0.5"/><circle cx="4.06" cy="5.92" r="0.35" fill="#8d84d8" opacity="0.5"/><circle cx="4.57" cy="4.33" r="0.35" fill="#8d84d8" opacity="0.5"/><circle cx="5.02" cy="0.01" r="0.35" fill="#8d84d8" opacity="0.5"/><circle cx="7.61" cy="-1.60" r="0.35" fill="#8d84d8" opacity="0.5"/><circle cx="2.19" cy="-3.26" r="0.35" fill="#8d84d8" opacity="0.5"/><circle cx="-2.28" cy="1.78" r="0.35" fill="#8d84d8" opacity="0.5"/><circle cx="-10.54" cy="-2.11" r="0.35" fill="#8d84d8" opacity="0.5"/><circle cx="-7.34" cy="-0.37" r="0.35" fill="#8d84d8" opacity="0.5"/><circle cx="10.22" cy="-2.87" r="0.35" fill="#8d84d8" opacity="0.5"/><circle cx="-1.66" cy="-1.67" r="0.35" fill="#8d84d8" opacity="0.5"/><circle cx="-5.69" cy="-3.28" r="0.35" fill="#8d84d8" opacity="0.5"/><circle cx="6.97" cy="-1.10" r="0.35" fill="#8d84d8" opacity="0.5"/><circle cx="-5.05" cy="-4.72" r="0.35" fill="#8d84d8" opacity="0.5"/><circle cx="-6.16" cy="3.56" r="0.35" fill="#8d84d8" opacity="0.5"/><circle cx="-5.09" cy="-5.97" r="0.35" fill="#8d84d8" opacity="0.5"/><circle cx="-7.24" cy="0.05" r="0.35" fill="#8d84d8" opacity="0.5"/><circle cx="2.83" cy="-0.25" r="0.35" fill="#8d84d8" opacity="0.5"/><circle cx="5.04" cy="-4.98" r="0.35" fill="#8d84d8" opacity="0.5"/><circle cx="-7.51" cy="-1.65" r="0.35" fill="#8d84d8" opacity="0.5"/></g>
<ellipse cx="484.60" cy="481.8" rx="5" ry="1.8" fill="#3a30a8" opacity="0.75" filter="url(#blur06)"/>
<g transform="translate(477.60 480.20) rotate(-24)"><g filter="url(#blur04)"><ellipse cx="-0.00" cy="0.00" rx="10.00" ry="4.80" fill="#2b2a9a"/><ellipse cx="-0.04" cy="0.09" rx="8.40" ry="4.03" fill="#2350c0"/><ellipse cx="-0.09" cy="0.17" rx="7.00" ry="3.36" fill="#20a6d2"/><ellipse cx="-0.13" cy="0.26" rx="5.60" ry="2.69" fill="#3dbd84"/><ellipse cx="-0.17" cy="0.34" rx="4.30" ry="2.06" fill="#86cc3c"/><ellipse cx="-0.21" cy="0.43" rx="3.00" ry="1.44" fill="#e6da2a"/><ellipse cx="-0.26" cy="0.51" rx="1.70" ry="0.82" fill="#f08a22"/><ellipse cx="-0.30" cy="0.60" rx="0.80" ry="0.38" fill="#e02a1a"/></g></g>
<polygon points="461.00,486.30 466.00,464.30 488.20,458.30 484.60,486.30" fill="none" stroke="#7e7e7e" stroke-width="0.75"/>
<polygon points="488.20,458.30 505.80,458.30 505.20,486.30 484.60,486.30" fill="none" stroke="#7e7e7e" stroke-width="0.75"/>
<text x="257.30" y="442.20" font-size="7.4" textLength="12.50" lengthAdjust="spacingAndGlyphs" stroke="#222" stroke-width="0.12">5,35</text>
<text x="300.50" y="442.20" font-size="7.4" text-anchor="end" textLength="12.50" lengthAdjust="spacingAndGlyphs" stroke="#222" stroke-width="0.12">94,2</text>
<text x="325.20" y="442.20" font-size="7.4" textLength="12.50" lengthAdjust="spacingAndGlyphs" stroke="#222" stroke-width="0.12">14,2</text>
<text x="368.40" y="442.20" font-size="7.4" text-anchor="end" textLength="12.50" lengthAdjust="spacingAndGlyphs" stroke="#222" stroke-width="0.12">83,8</text>
<text x="393.30" y="442.20" font-size="7.4" textLength="12.50" lengthAdjust="spacingAndGlyphs" stroke="#222" stroke-width="0.12">96,1</text>
<text x="436.50" y="442.20" font-size="7.4" text-anchor="end" textLength="12.50" lengthAdjust="spacingAndGlyphs" stroke="#222" stroke-width="0.12">3,47</text>
<text x="460.20" y="442.20" font-size="7.4" textLength="12.50" lengthAdjust="spacingAndGlyphs" stroke="#222" stroke-width="0.12">95,5</text>
<text x="503.40" y="442.20" font-size="7.4" text-anchor="end" textLength="12.50" lengthAdjust="spacingAndGlyphs" stroke="#222" stroke-width="0.12">3,92</text>
<line x1="234.80" y1="277.90" x2="234.80" y2="450.50" stroke="#777" stroke-width="1.2"/>
<polygon points="232.90,278.40 234.80,275.20 236.70,278.40" fill="#111" stroke="none" stroke-width="0"/>
<text x="237.80" y="461.40" font-size="8.4" fill="#333" text-anchor="middle" textLength="17.20" lengthAdjust="spacingAndGlyphs" transform="rotate(-90 237.80 461.40)">FSC-A</text>
<text x="257.30" y="347.30" font-size="8.4" textLength="11.50" lengthAdjust="spacingAndGlyphs">GFP</text>
<line x1="272.20" y1="344.80" x2="488.30" y2="344.80" stroke="#777" stroke-width="1.2"/>
<polygon points="487.80,342.90 491.00,344.80 487.80,346.70" fill="#111" stroke="none" stroke-width="0"/>
<text x="265.00" y="427.60" font-size="8.4" textLength="38.50" lengthAdjust="spacingAndGlyphs">CD16 BV421</text>
<line x1="306.50" y1="425.20" x2="488.30" y2="425.20" stroke="#777" stroke-width="1.2"/>
<polygon points="487.80,423.30 491.00,425.20 487.80,427.10" fill="#111" stroke="none" stroke-width="0"/>
<text x="266.50" y="509.00" font-size="8.4" textLength="25.50" lengthAdjust="spacingAndGlyphs">CD3ζ PE</text>
<line x1="295.80" y1="506.20" x2="492.80" y2="506.20" stroke="#777" stroke-width="1.2"/>
<polygon points="492.30,504.30 495.50,506.20 492.30,508.10" fill="#111" stroke="none" stroke-width="0"/></svg>
</body></html>
